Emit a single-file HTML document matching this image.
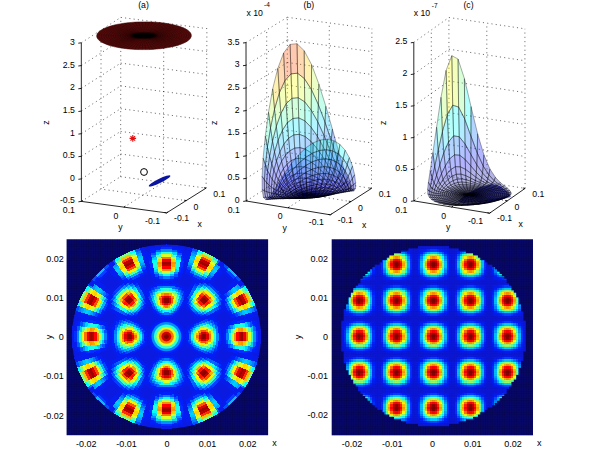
<!DOCTYPE html>
<html><head><meta charset="utf-8"><style>
html,body{margin:0;padding:0;background:#fff;width:600px;height:450px;overflow:hidden}
svg{display:block}
text{font-family:'Liberation Sans',Arial,Helvetica,sans-serif;fill:#000}
</style></head><body>
<svg width="600" height="450" viewBox="0 0 600 450">
<defs>
<pattern id="mL" patternUnits="userSpaceOnUse" x="66.6" y="239.3" width="2.3988" height="2.3321"><path d="M0,0H2.3988M0,0V2.3321" stroke="#000" stroke-opacity="0.35" stroke-width="0.6" fill="none"/></pattern>
<pattern id="mR" patternUnits="userSpaceOnUse" x="331.7" y="239.3" width="2.3964" height="2.3333"><path d="M0,0H2.3964M0,0V2.3333" stroke="#000" stroke-opacity="0.35" stroke-width="0.6" fill="none"/></pattern>
<pattern id="mR2" patternUnits="userSpaceOnUse" x="331.7" y="239.3" width="2.3964" height="2.3333"><path d="M0,0H2.3964M0,0V2.3333" stroke="#000" stroke-opacity="0.07" stroke-width="0.6" fill="none"/></pattern>
<clipPath id="clipR"><rect x="417.97" y="246.05" width="31.15" height="2.83"/><rect x="408.39" y="248.38" width="50.32" height="2.83"/><rect x="401.20" y="250.72" width="64.70" height="2.83"/><rect x="394.01" y="253.05" width="79.08" height="2.83"/><rect x="389.21" y="255.38" width="88.67" height="2.83"/><rect x="386.82" y="257.72" width="93.46" height="2.83"/><rect x="382.02" y="260.05" width="103.05" height="2.83"/><rect x="379.63" y="262.38" width="107.84" height="2.83"/><rect x="374.84" y="264.72" width="117.42" height="2.83"/><rect x="372.44" y="267.05" width="122.22" height="2.83"/><rect x="370.04" y="269.38" width="127.01" height="2.83"/><rect x="367.65" y="271.72" width="131.80" height="2.83"/><rect x="365.25" y="274.05" width="136.60" height="2.83"/><rect x="362.85" y="276.38" width="141.39" height="2.83"/><rect x="360.46" y="278.72" width="146.18" height="2.83"/><rect x="360.46" y="281.05" width="146.18" height="2.83"/><rect x="358.06" y="283.38" width="150.97" height="2.83"/><rect x="355.66" y="285.72" width="155.77" height="2.83"/><rect x="353.27" y="288.05" width="158.16" height="2.83"/><rect x="353.27" y="290.38" width="160.56" height="2.83"/><rect x="350.87" y="292.72" width="165.35" height="2.83"/><rect x="350.87" y="295.05" width="165.35" height="2.83"/><rect x="348.47" y="297.38" width="170.15" height="2.83"/><rect x="348.47" y="299.72" width="170.15" height="2.83"/><rect x="348.47" y="302.05" width="170.15" height="2.83"/><rect x="346.08" y="304.38" width="174.94" height="2.83"/><rect x="346.08" y="306.72" width="174.94" height="2.83"/><rect x="343.68" y="309.05" width="177.34" height="2.83"/><rect x="343.68" y="311.38" width="179.73" height="2.83"/><rect x="343.68" y="313.72" width="179.73" height="2.83"/><rect x="343.68" y="316.05" width="179.73" height="2.83"/><rect x="343.68" y="318.38" width="179.73" height="2.83"/><rect x="341.29" y="320.72" width="184.53" height="2.83"/><rect x="341.29" y="323.05" width="184.53" height="2.83"/><rect x="341.29" y="325.38" width="184.53" height="2.83"/><rect x="341.29" y="327.72" width="184.53" height="2.83"/><rect x="341.29" y="330.05" width="184.53" height="2.83"/><rect x="341.29" y="332.38" width="184.53" height="2.83"/><rect x="341.29" y="334.72" width="184.53" height="2.83"/><rect x="341.29" y="337.05" width="184.53" height="2.83"/><rect x="341.29" y="339.38" width="184.53" height="2.83"/><rect x="341.29" y="341.72" width="184.53" height="2.83"/><rect x="341.29" y="344.05" width="184.53" height="2.83"/><rect x="341.29" y="346.38" width="184.53" height="2.83"/><rect x="341.29" y="348.72" width="184.53" height="2.83"/><rect x="343.68" y="351.05" width="179.73" height="2.83"/><rect x="343.68" y="353.38" width="179.73" height="2.83"/><rect x="343.68" y="355.72" width="179.73" height="2.83"/><rect x="343.68" y="358.05" width="179.73" height="2.83"/><rect x="343.68" y="360.38" width="177.34" height="2.83"/><rect x="346.08" y="362.72" width="174.94" height="2.83"/><rect x="346.08" y="365.05" width="174.94" height="2.83"/><rect x="346.08" y="367.38" width="172.54" height="2.83"/><rect x="348.47" y="369.72" width="170.15" height="2.83"/><rect x="348.47" y="372.05" width="170.15" height="2.83"/><rect x="350.87" y="374.38" width="165.35" height="2.83"/><rect x="350.87" y="376.72" width="165.35" height="2.83"/><rect x="353.27" y="379.05" width="160.56" height="2.83"/><rect x="353.27" y="381.38" width="158.16" height="2.83"/><rect x="355.66" y="383.72" width="155.77" height="2.83"/><rect x="358.06" y="386.05" width="150.97" height="2.83"/><rect x="358.06" y="388.38" width="148.58" height="2.83"/><rect x="360.46" y="390.72" width="146.18" height="2.83"/><rect x="362.85" y="393.05" width="141.39" height="2.83"/><rect x="365.25" y="395.38" width="136.60" height="2.83"/><rect x="367.65" y="397.72" width="131.80" height="2.83"/><rect x="370.04" y="400.05" width="127.01" height="2.83"/><rect x="372.44" y="402.38" width="122.22" height="2.83"/><rect x="374.84" y="404.72" width="117.42" height="2.83"/><rect x="377.23" y="407.05" width="110.24" height="2.83"/><rect x="382.02" y="409.38" width="103.05" height="2.83"/><rect x="384.42" y="411.72" width="95.86" height="2.83"/><rect x="389.21" y="414.05" width="88.67" height="2.83"/><rect x="394.01" y="416.38" width="79.08" height="2.83"/><rect x="401.20" y="418.72" width="64.70" height="2.83"/><rect x="405.99" y="421.05" width="52.72" height="2.83"/><rect x="417.97" y="423.38" width="31.15" height="2.83"/></clipPath>
<g id="spR" shape-rendering="crispEdges">
<rect x="-10.78" y="-17.50" width="7.19" height="2.33" fill="#0818df"/>
<rect x="-3.59" y="-17.50" width="7.19" height="2.33" fill="#051bea"/>
<rect x="3.59" y="-17.50" width="7.19" height="2.33" fill="#0818df"/>
<rect x="-15.58" y="-15.17" width="2.40" height="2.33" fill="#0818df"/>
<rect x="-13.18" y="-15.17" width="2.40" height="2.33" fill="#051bea"/>
<rect x="-10.78" y="-15.17" width="2.40" height="2.33" fill="#021df4"/>
<rect x="-8.39" y="-15.17" width="2.40" height="2.33" fill="#0020ff"/>
<rect x="-5.99" y="-15.17" width="2.40" height="2.33" fill="#0030ff"/>
<rect x="-3.59" y="-15.17" width="7.19" height="2.33" fill="#0040ff"/>
<rect x="3.59" y="-15.17" width="2.40" height="2.33" fill="#0030ff"/>
<rect x="5.99" y="-15.17" width="2.40" height="2.33" fill="#0020ff"/>
<rect x="8.39" y="-15.17" width="2.40" height="2.33" fill="#021df4"/>
<rect x="10.78" y="-15.17" width="2.40" height="2.33" fill="#051bea"/>
<rect x="13.18" y="-15.17" width="2.40" height="2.33" fill="#0818df"/>
<rect x="-15.58" y="-12.83" width="2.40" height="2.33" fill="#0818df"/>
<rect x="-13.18" y="-12.83" width="2.40" height="2.33" fill="#0020ff"/>
<rect x="-10.78" y="-12.83" width="2.40" height="2.33" fill="#0050ff"/>
<rect x="-8.39" y="-12.83" width="2.40" height="2.33" fill="#0080ff"/>
<rect x="-5.99" y="-12.83" width="2.40" height="2.33" fill="#00afff"/>
<rect x="-3.59" y="-12.83" width="7.19" height="2.33" fill="#00cfff"/>
<rect x="3.59" y="-12.83" width="2.40" height="2.33" fill="#00afff"/>
<rect x="5.99" y="-12.83" width="2.40" height="2.33" fill="#0080ff"/>
<rect x="8.39" y="-12.83" width="2.40" height="2.33" fill="#0050ff"/>
<rect x="10.78" y="-12.83" width="2.40" height="2.33" fill="#0020ff"/>
<rect x="13.18" y="-12.83" width="2.40" height="2.33" fill="#0818df"/>
<rect x="-17.97" y="-10.50" width="2.40" height="2.33" fill="#0818df"/>
<rect x="-15.58" y="-10.50" width="2.40" height="2.33" fill="#021df4"/>
<rect x="-13.18" y="-10.50" width="2.40" height="2.33" fill="#0050ff"/>
<rect x="-10.78" y="-10.50" width="2.40" height="2.33" fill="#00afff"/>
<rect x="-8.39" y="-10.50" width="2.40" height="2.33" fill="#10ffef"/>
<rect x="-5.99" y="-10.50" width="2.40" height="2.33" fill="#60ff9f"/>
<rect x="-3.59" y="-10.50" width="2.40" height="2.33" fill="#8fff70"/>
<rect x="-1.20" y="-10.50" width="2.40" height="2.33" fill="#9fff60"/>
<rect x="1.20" y="-10.50" width="2.40" height="2.33" fill="#8fff70"/>
<rect x="3.59" y="-10.50" width="2.40" height="2.33" fill="#60ff9f"/>
<rect x="5.99" y="-10.50" width="2.40" height="2.33" fill="#10ffef"/>
<rect x="8.39" y="-10.50" width="2.40" height="2.33" fill="#00afff"/>
<rect x="10.78" y="-10.50" width="2.40" height="2.33" fill="#0050ff"/>
<rect x="13.18" y="-10.50" width="2.40" height="2.33" fill="#021df4"/>
<rect x="15.58" y="-10.50" width="2.40" height="2.33" fill="#0818df"/>
<rect x="-17.97" y="-8.17" width="2.40" height="2.33" fill="#0818df"/>
<rect x="-15.58" y="-8.17" width="2.40" height="2.33" fill="#0020ff"/>
<rect x="-13.18" y="-8.17" width="2.40" height="2.33" fill="#0080ff"/>
<rect x="-10.78" y="-8.17" width="2.40" height="2.33" fill="#00ffff"/>
<rect x="-8.39" y="-8.17" width="2.40" height="2.33" fill="#8fff70"/>
<rect x="-5.99" y="-8.17" width="2.40" height="2.33" fill="#ffef00"/>
<rect x="-3.59" y="-8.17" width="2.40" height="2.33" fill="#ffaf00"/>
<rect x="-1.20" y="-8.17" width="2.40" height="2.33" fill="#ff8f00"/>
<rect x="1.20" y="-8.17" width="2.40" height="2.33" fill="#ffaf00"/>
<rect x="3.59" y="-8.17" width="2.40" height="2.33" fill="#ffef00"/>
<rect x="5.99" y="-8.17" width="2.40" height="2.33" fill="#8fff70"/>
<rect x="8.39" y="-8.17" width="2.40" height="2.33" fill="#00ffff"/>
<rect x="10.78" y="-8.17" width="2.40" height="2.33" fill="#0080ff"/>
<rect x="13.18" y="-8.17" width="2.40" height="2.33" fill="#0020ff"/>
<rect x="15.58" y="-8.17" width="2.40" height="2.33" fill="#0818df"/>
<rect x="-17.97" y="-5.83" width="2.40" height="2.33" fill="#0818df"/>
<rect x="-15.58" y="-5.83" width="2.40" height="2.33" fill="#0030ff"/>
<rect x="-13.18" y="-5.83" width="2.40" height="2.33" fill="#009fff"/>
<rect x="-10.78" y="-5.83" width="2.40" height="2.33" fill="#50ffaf"/>
<rect x="-8.39" y="-5.83" width="2.40" height="2.33" fill="#ffff00"/>
<rect x="-5.99" y="-5.83" width="2.40" height="2.33" fill="#ff7000"/>
<rect x="-3.59" y="-5.83" width="2.40" height="2.33" fill="#ff1000"/>
<rect x="-1.20" y="-5.83" width="2.40" height="2.33" fill="#ff0000"/>
<rect x="1.20" y="-5.83" width="2.40" height="2.33" fill="#ff1000"/>
<rect x="3.59" y="-5.83" width="2.40" height="2.33" fill="#ff7000"/>
<rect x="5.99" y="-5.83" width="2.40" height="2.33" fill="#ffff00"/>
<rect x="8.39" y="-5.83" width="2.40" height="2.33" fill="#50ffaf"/>
<rect x="10.78" y="-5.83" width="2.40" height="2.33" fill="#009fff"/>
<rect x="13.18" y="-5.83" width="2.40" height="2.33" fill="#0030ff"/>
<rect x="15.58" y="-5.83" width="2.40" height="2.33" fill="#0818df"/>
<rect x="-17.97" y="-3.50" width="2.40" height="2.33" fill="#0818df"/>
<rect x="-15.58" y="-3.50" width="2.40" height="2.33" fill="#0030ff"/>
<rect x="-13.18" y="-3.50" width="2.40" height="2.33" fill="#00bfff"/>
<rect x="-10.78" y="-3.50" width="2.40" height="2.33" fill="#80ff80"/>
<rect x="-8.39" y="-3.50" width="2.40" height="2.33" fill="#ffbf00"/>
<rect x="-5.99" y="-3.50" width="2.40" height="2.33" fill="#ff2000"/>
<rect x="-3.59" y="-3.50" width="2.40" height="2.33" fill="#bf0000"/>
<rect x="-1.20" y="-3.50" width="2.40" height="2.33" fill="#8f0000"/>
<rect x="1.20" y="-3.50" width="2.40" height="2.33" fill="#bf0000"/>
<rect x="3.59" y="-3.50" width="2.40" height="2.33" fill="#ff2000"/>
<rect x="5.99" y="-3.50" width="2.40" height="2.33" fill="#ffbf00"/>
<rect x="8.39" y="-3.50" width="2.40" height="2.33" fill="#80ff80"/>
<rect x="10.78" y="-3.50" width="2.40" height="2.33" fill="#00bfff"/>
<rect x="13.18" y="-3.50" width="2.40" height="2.33" fill="#0030ff"/>
<rect x="15.58" y="-3.50" width="2.40" height="2.33" fill="#0818df"/>
<rect x="-17.97" y="-1.17" width="2.40" height="2.33" fill="#0818df"/>
<rect x="-15.58" y="-1.17" width="2.40" height="2.33" fill="#0030ff"/>
<rect x="-13.18" y="-1.17" width="2.40" height="2.33" fill="#00bfff"/>
<rect x="-10.78" y="-1.17" width="2.40" height="2.33" fill="#8fff70"/>
<rect x="-8.39" y="-1.17" width="2.40" height="2.33" fill="#ff9f00"/>
<rect x="-5.99" y="-1.17" width="2.40" height="2.33" fill="#ff0000"/>
<rect x="-3.59" y="-1.17" width="2.40" height="2.33" fill="#9f0000"/>
<rect x="-1.20" y="-1.17" width="2.40" height="2.33" fill="#800000"/>
<rect x="1.20" y="-1.17" width="2.40" height="2.33" fill="#9f0000"/>
<rect x="3.59" y="-1.17" width="2.40" height="2.33" fill="#ff0000"/>
<rect x="5.99" y="-1.17" width="2.40" height="2.33" fill="#ff9f00"/>
<rect x="8.39" y="-1.17" width="2.40" height="2.33" fill="#8fff70"/>
<rect x="10.78" y="-1.17" width="2.40" height="2.33" fill="#00bfff"/>
<rect x="13.18" y="-1.17" width="2.40" height="2.33" fill="#0030ff"/>
<rect x="15.58" y="-1.17" width="2.40" height="2.33" fill="#0818df"/>
<rect x="-17.97" y="1.17" width="2.40" height="2.33" fill="#0818df"/>
<rect x="-15.58" y="1.17" width="2.40" height="2.33" fill="#0030ff"/>
<rect x="-13.18" y="1.17" width="2.40" height="2.33" fill="#00bfff"/>
<rect x="-10.78" y="1.17" width="2.40" height="2.33" fill="#80ff80"/>
<rect x="-8.39" y="1.17" width="2.40" height="2.33" fill="#ffbf00"/>
<rect x="-5.99" y="1.17" width="2.40" height="2.33" fill="#ff2000"/>
<rect x="-3.59" y="1.17" width="2.40" height="2.33" fill="#bf0000"/>
<rect x="-1.20" y="1.17" width="2.40" height="2.33" fill="#8f0000"/>
<rect x="1.20" y="1.17" width="2.40" height="2.33" fill="#bf0000"/>
<rect x="3.59" y="1.17" width="2.40" height="2.33" fill="#ff2000"/>
<rect x="5.99" y="1.17" width="2.40" height="2.33" fill="#ffbf00"/>
<rect x="8.39" y="1.17" width="2.40" height="2.33" fill="#80ff80"/>
<rect x="10.78" y="1.17" width="2.40" height="2.33" fill="#00bfff"/>
<rect x="13.18" y="1.17" width="2.40" height="2.33" fill="#0030ff"/>
<rect x="15.58" y="1.17" width="2.40" height="2.33" fill="#0818df"/>
<rect x="-17.97" y="3.50" width="2.40" height="2.33" fill="#0818df"/>
<rect x="-15.58" y="3.50" width="2.40" height="2.33" fill="#0030ff"/>
<rect x="-13.18" y="3.50" width="2.40" height="2.33" fill="#009fff"/>
<rect x="-10.78" y="3.50" width="2.40" height="2.33" fill="#50ffaf"/>
<rect x="-8.39" y="3.50" width="2.40" height="2.33" fill="#ffff00"/>
<rect x="-5.99" y="3.50" width="2.40" height="2.33" fill="#ff7000"/>
<rect x="-3.59" y="3.50" width="2.40" height="2.33" fill="#ff1000"/>
<rect x="-1.20" y="3.50" width="2.40" height="2.33" fill="#ff0000"/>
<rect x="1.20" y="3.50" width="2.40" height="2.33" fill="#ff1000"/>
<rect x="3.59" y="3.50" width="2.40" height="2.33" fill="#ff7000"/>
<rect x="5.99" y="3.50" width="2.40" height="2.33" fill="#ffff00"/>
<rect x="8.39" y="3.50" width="2.40" height="2.33" fill="#50ffaf"/>
<rect x="10.78" y="3.50" width="2.40" height="2.33" fill="#009fff"/>
<rect x="13.18" y="3.50" width="2.40" height="2.33" fill="#0030ff"/>
<rect x="15.58" y="3.50" width="2.40" height="2.33" fill="#0818df"/>
<rect x="-17.97" y="5.83" width="2.40" height="2.33" fill="#0818df"/>
<rect x="-15.58" y="5.83" width="2.40" height="2.33" fill="#0020ff"/>
<rect x="-13.18" y="5.83" width="2.40" height="2.33" fill="#0080ff"/>
<rect x="-10.78" y="5.83" width="2.40" height="2.33" fill="#00ffff"/>
<rect x="-8.39" y="5.83" width="2.40" height="2.33" fill="#8fff70"/>
<rect x="-5.99" y="5.83" width="2.40" height="2.33" fill="#ffef00"/>
<rect x="-3.59" y="5.83" width="2.40" height="2.33" fill="#ffaf00"/>
<rect x="-1.20" y="5.83" width="2.40" height="2.33" fill="#ff8f00"/>
<rect x="1.20" y="5.83" width="2.40" height="2.33" fill="#ffaf00"/>
<rect x="3.59" y="5.83" width="2.40" height="2.33" fill="#ffef00"/>
<rect x="5.99" y="5.83" width="2.40" height="2.33" fill="#8fff70"/>
<rect x="8.39" y="5.83" width="2.40" height="2.33" fill="#00ffff"/>
<rect x="10.78" y="5.83" width="2.40" height="2.33" fill="#0080ff"/>
<rect x="13.18" y="5.83" width="2.40" height="2.33" fill="#0020ff"/>
<rect x="15.58" y="5.83" width="2.40" height="2.33" fill="#0818df"/>
<rect x="-17.97" y="8.17" width="2.40" height="2.33" fill="#0818df"/>
<rect x="-15.58" y="8.17" width="2.40" height="2.33" fill="#021df4"/>
<rect x="-13.18" y="8.17" width="2.40" height="2.33" fill="#0050ff"/>
<rect x="-10.78" y="8.17" width="2.40" height="2.33" fill="#00afff"/>
<rect x="-8.39" y="8.17" width="2.40" height="2.33" fill="#10ffef"/>
<rect x="-5.99" y="8.17" width="2.40" height="2.33" fill="#60ff9f"/>
<rect x="-3.59" y="8.17" width="2.40" height="2.33" fill="#8fff70"/>
<rect x="-1.20" y="8.17" width="2.40" height="2.33" fill="#9fff60"/>
<rect x="1.20" y="8.17" width="2.40" height="2.33" fill="#8fff70"/>
<rect x="3.59" y="8.17" width="2.40" height="2.33" fill="#60ff9f"/>
<rect x="5.99" y="8.17" width="2.40" height="2.33" fill="#10ffef"/>
<rect x="8.39" y="8.17" width="2.40" height="2.33" fill="#00afff"/>
<rect x="10.78" y="8.17" width="2.40" height="2.33" fill="#0050ff"/>
<rect x="13.18" y="8.17" width="2.40" height="2.33" fill="#021df4"/>
<rect x="15.58" y="8.17" width="2.40" height="2.33" fill="#0818df"/>
<rect x="-15.58" y="10.50" width="2.40" height="2.33" fill="#0818df"/>
<rect x="-13.18" y="10.50" width="2.40" height="2.33" fill="#0020ff"/>
<rect x="-10.78" y="10.50" width="2.40" height="2.33" fill="#0050ff"/>
<rect x="-8.39" y="10.50" width="2.40" height="2.33" fill="#0080ff"/>
<rect x="-5.99" y="10.50" width="2.40" height="2.33" fill="#00afff"/>
<rect x="-3.59" y="10.50" width="7.19" height="2.33" fill="#00cfff"/>
<rect x="3.59" y="10.50" width="2.40" height="2.33" fill="#00afff"/>
<rect x="5.99" y="10.50" width="2.40" height="2.33" fill="#0080ff"/>
<rect x="8.39" y="10.50" width="2.40" height="2.33" fill="#0050ff"/>
<rect x="10.78" y="10.50" width="2.40" height="2.33" fill="#0020ff"/>
<rect x="13.18" y="10.50" width="2.40" height="2.33" fill="#0818df"/>
<rect x="-15.58" y="12.83" width="2.40" height="2.33" fill="#0818df"/>
<rect x="-13.18" y="12.83" width="2.40" height="2.33" fill="#051bea"/>
<rect x="-10.78" y="12.83" width="2.40" height="2.33" fill="#021df4"/>
<rect x="-8.39" y="12.83" width="2.40" height="2.33" fill="#0020ff"/>
<rect x="-5.99" y="12.83" width="2.40" height="2.33" fill="#0030ff"/>
<rect x="-3.59" y="12.83" width="7.19" height="2.33" fill="#0040ff"/>
<rect x="3.59" y="12.83" width="2.40" height="2.33" fill="#0030ff"/>
<rect x="5.99" y="12.83" width="2.40" height="2.33" fill="#0020ff"/>
<rect x="8.39" y="12.83" width="2.40" height="2.33" fill="#021df4"/>
<rect x="10.78" y="12.83" width="2.40" height="2.33" fill="#051bea"/>
<rect x="13.18" y="12.83" width="2.40" height="2.33" fill="#0818df"/>
<rect x="-10.78" y="15.17" width="7.19" height="2.33" fill="#0818df"/>
<rect x="-3.59" y="15.17" width="7.19" height="2.33" fill="#051bea"/>
<rect x="3.59" y="15.17" width="7.19" height="2.33" fill="#0818df"/>
</g>
<g id="L0" shape-rendering="crispEdges">
<path fill="#081be8" d="M19.6,3.6L19.9,-0.0L19.6,-3.6L17.1,-3.1L17.4,-0.0L17.1,3.1ZM20.4,9.2L21.4,6.7L19.0,5.9L18.2,8.2ZM21.4,-6.7L20.4,-9.2L18.2,-8.2L19.0,-5.9ZM22.0,11.6L23.3,8.8L20.9,7.9L19.8,10.4ZM23.3,-8.8L22.0,-11.6L19.8,-10.4L20.9,-7.9ZM24.2,12.7L25.0,11.2L22.7,10.2L22.0,11.6ZM25.0,-11.2L24.2,-12.7L22.0,-11.6L22.7,-10.2ZM44.1,23.1L45.4,20.4L43.1,19.4L41.9,22.0ZM45.4,-20.4L44.1,-23.1L41.9,-22.0L43.1,-19.4ZM46.3,24.3L47.7,21.5L45.4,20.4L44.1,23.1ZM47.7,-21.5L46.3,-24.3L44.1,-23.1L45.4,-20.4ZM49.9,22.5L52.3,16.3L49.9,15.6L47.7,21.5ZM52.3,-16.3L49.9,-22.5L47.7,-21.5L49.9,-15.6ZM55.6,13.7L57.1,4.6L57.1,-4.6L55.6,-13.7L53.2,-13.1L54.6,-4.4L54.6,4.4L53.2,13.1Z"/>
<path fill="#051df0" d="M21.4,6.7L22.0,4.0L19.6,3.6L19.0,5.9ZM22.0,-4.0L21.4,-6.7L19.0,-5.9L19.6,-3.6ZM26.5,13.9L27.2,12.3L25.0,11.2L24.2,12.7ZM27.2,-12.3L26.5,-13.9L24.2,-12.7L25.0,-11.2ZM28.7,15.0L29.5,13.3L27.2,12.3L26.5,13.9ZM29.5,-13.3L28.7,-15.0L26.5,-13.9L27.2,-12.3ZM39.7,20.8L40.9,18.4L38.6,17.4L37.5,19.7ZM40.9,-18.4L39.7,-20.8L37.5,-19.7L38.6,-17.4ZM41.9,22.0L43.1,19.4L40.9,18.4L39.7,20.8ZM43.1,-19.4L41.9,-22.0L39.7,-20.8L40.9,-18.4ZM47.7,21.5L48.9,18.5L46.6,17.7L45.4,20.4ZM48.9,-18.5L47.7,-21.5L45.4,-20.4L46.6,-17.7ZM52.3,16.3L53.2,13.1L50.8,12.5L49.9,15.6ZM53.2,-13.1L52.3,-16.3L49.9,-15.6L50.8,-12.5Z"/>
<path fill="#021ef7" d="M22.0,4.0L22.2,2.7L19.8,2.4L19.6,3.6ZM22.2,-2.7L22.0,-4.0L19.6,-3.6L19.8,-2.4ZM23.3,8.8L23.8,7.4L21.4,6.7L20.9,7.9ZM23.8,-7.4L23.3,-8.8L20.9,-7.9L21.4,-6.7ZM25.0,11.2L25.6,9.7L23.3,8.8L22.7,10.2ZM25.6,-9.7L25.0,-11.2L22.7,-10.2L23.3,-8.8ZM30.9,16.2L31.8,14.3L29.5,13.3L28.7,15.0ZM31.8,-14.3L30.9,-16.2L28.7,-15.0L29.5,-13.3ZM33.1,17.4L34.1,15.3L31.8,14.3L30.9,16.2ZM34.1,-15.3L33.1,-17.4L30.9,-16.2L31.8,-14.3ZM35.3,18.5L36.3,16.3L34.1,15.3L33.1,17.4ZM36.3,-16.3L35.3,-18.5L33.1,-17.4L34.1,-15.3ZM37.5,19.7L38.6,17.4L36.3,16.3L35.3,18.5ZM38.6,-17.4L37.5,-19.7L35.3,-18.5L36.3,-16.3ZM45.4,20.4L46.6,17.7L44.2,16.8L43.1,19.4ZM46.6,-17.7L45.4,-20.4L43.1,-19.4L44.2,-16.8ZM48.9,18.5L49.9,15.6L47.5,14.8L46.6,17.7ZM49.9,-15.6L48.9,-18.5L46.6,-17.7L47.5,-14.8ZM53.2,13.1L53.9,9.9L51.4,9.4L50.8,12.5ZM53.9,-9.9L53.2,-13.1L50.8,-12.5L51.4,-9.4Z"/>
<path fill="#0020ff" d="M22.2,2.7L22.4,-0.0L22.2,-2.7L19.8,-2.4L19.9,-0.0L19.8,2.4ZM27.2,12.3L27.9,10.6L25.6,9.7L25.0,11.2ZM27.9,-10.6L27.2,-12.3L25.0,-11.2L25.6,-9.7ZM43.1,19.4L44.2,16.8L41.9,15.9L40.9,18.4ZM44.2,-16.8L43.1,-19.4L40.9,-18.4L41.9,-15.9ZM53.9,9.9L54.8,-0.0L53.9,-9.9L51.4,-9.4L52.3,-0.0L51.4,9.4Z"/>
<path fill="#0030ff" d="M23.8,7.4L24.2,6.0L21.8,5.4L21.4,6.7ZM24.2,-6.0L23.8,-7.4L21.4,-6.7L21.8,-5.4ZM25.6,9.7L26.1,8.1L23.8,7.4L23.3,8.8ZM26.1,-8.1L25.6,-9.7L23.3,-8.8L23.8,-7.4ZM49.9,15.6L50.8,12.5L48.3,11.9L47.5,14.8ZM50.8,-12.5L49.9,-15.6L47.5,-14.8L48.3,-11.9Z"/>
<path fill="#0040ff" d="M24.2,6.0L24.5,4.5L22.0,4.0L21.8,5.4ZM24.5,-4.5L24.2,-6.0L21.8,-5.4L22.0,-4.0ZM29.5,13.3L30.3,11.5L27.9,10.6L27.2,12.3ZM30.3,-11.5L29.5,-13.3L27.2,-12.3L27.9,-10.6ZM40.9,18.4L41.9,15.9L39.6,15.0L38.6,17.4ZM41.9,-15.9L40.9,-18.4L38.6,-17.4L39.6,-15.0ZM46.6,17.7L47.5,14.8L45.2,14.1L44.2,16.8ZM47.5,-14.8L46.6,-17.7L44.2,-16.8L45.2,-14.1Z"/>
<path fill="#0060ff" d="M24.5,4.5L24.7,3.0L22.2,2.7L22.0,4.0ZM24.7,-3.0L24.5,-4.5L22.0,-4.0L22.2,-2.7ZM27.9,10.6L28.5,8.9L26.1,8.1L25.6,9.7ZM28.5,-8.9L27.9,-10.6L25.6,-9.7L26.1,-8.1ZM34.1,15.3L34.9,13.2L32.6,12.4L31.8,14.3ZM34.9,-13.2L34.1,-15.3L31.8,-14.3L32.6,-12.4ZM36.3,16.3L37.2,14.1L34.9,13.2L34.1,15.3ZM37.2,-14.1L36.3,-16.3L34.1,-15.3L34.9,-13.2Z"/>
<path fill="#0080ff" d="M24.7,3.0L24.9,-0.0L24.7,-3.0L22.2,-2.7L22.4,-0.0L22.2,2.7ZM51.9,6.3L52.2,3.2L49.7,3.0L49.4,6.0ZM52.2,-3.2L51.9,-6.3L49.4,-6.0L49.7,-3.0Z"/>
<path fill="#0070ff" d="M26.1,8.1L26.6,6.6L24.2,6.0L23.8,7.4ZM26.6,-6.6L26.1,-8.1L23.8,-7.4L24.2,-6.0ZM44.2,16.8L45.2,14.1L42.8,13.3L41.9,15.9ZM45.2,-14.1L44.2,-16.8L41.9,-15.9L42.8,-13.3ZM47.5,14.8L48.3,11.9L45.9,11.3L45.2,14.1ZM48.3,-11.9L47.5,-14.8L45.2,-14.1L45.9,-11.3ZM51.4,9.4L51.9,6.3L49.4,6.0L49.0,9.0ZM51.9,-6.3L51.4,-9.4L49.0,-9.0L49.4,-6.0Z"/>
<path fill="#009fff" d="M26.6,6.6L26.9,4.9L24.5,4.5L24.2,6.0ZM26.9,-4.9L26.6,-6.6L24.2,-6.0L24.5,-4.5ZM41.9,15.9L42.8,13.3L40.4,12.6L39.6,15.0ZM42.8,-13.3L41.9,-15.9L39.6,-15.0L40.4,-12.6Z"/>
<path fill="#00dfff" d="M26.9,4.9L27.2,3.3L24.7,3.0L24.5,4.5ZM27.2,-3.3L26.9,-4.9L24.5,-4.5L24.7,-3.0ZM49.0,9.0L49.4,6.0L47.0,5.7L46.5,8.5ZM49.4,-6.0L49.0,-9.0L46.5,-8.5L47.0,-5.7Z"/>
<path fill="#00ffff" d="M27.2,3.3L27.3,1.7L24.8,1.5L24.7,3.0ZM27.3,-1.7L27.2,-3.3L24.7,-3.0L24.8,-1.5ZM30.9,9.6L31.4,7.7L29.0,7.1L28.5,8.9ZM31.4,-7.7L30.9,-9.6L28.5,-8.9L29.0,-7.1Z"/>
<path fill="#20ffdf" d="M27.3,1.7L27.3,-1.7L24.8,-1.5L24.8,1.5ZM45.9,11.3L46.5,8.5L44.1,8.1L43.5,10.7ZM46.5,-8.5L45.9,-11.3L43.5,-10.7L44.1,-8.1Z"/>
<path fill="#00bfff" d="M28.5,8.9L29.0,7.1L26.6,6.6L26.1,8.1ZM29.0,-7.1L28.5,-8.9L26.1,-8.1L26.6,-6.6ZM32.6,12.4L33.3,10.4L30.9,9.6L30.3,11.5ZM33.3,-10.4L32.6,-12.4L30.3,-11.5L30.9,-9.6ZM39.6,15.0L40.4,12.6L38.0,11.9L37.2,14.1ZM40.4,-12.6L39.6,-15.0L37.2,-14.1L38.0,-11.9ZM45.2,14.1L45.9,11.3L43.5,10.7L42.8,13.3ZM45.9,-11.3L45.2,-14.1L42.8,-13.3L43.5,-10.7Z"/>
<path fill="#10ffef" d="M29.0,7.1L29.4,5.4L26.9,4.9L26.6,6.6ZM29.4,-5.4L29.0,-7.1L26.6,-6.6L26.9,-4.9ZM42.8,13.3L43.5,10.7L41.1,10.1L40.4,12.6ZM43.5,-10.7L42.8,-13.3L40.4,-12.6L41.1,-10.1ZM49.4,6.0L49.7,3.0L47.2,2.9L47.0,5.7ZM49.7,-3.0L49.4,-6.0L47.0,-5.7L47.2,-2.9Z"/>
<path fill="#70ff8f" d="M29.4,5.4L29.7,3.6L27.2,3.3L26.9,4.9ZM29.7,-3.6L29.4,-5.4L26.9,-4.9L27.2,-3.3ZM35.7,11.1L36.3,8.9L33.8,8.3L33.3,10.4ZM36.3,-8.9L35.7,-11.1L33.3,-10.4L33.8,-8.3ZM38.0,11.9L38.7,9.5L36.3,8.9L35.7,11.1ZM38.7,-9.5L38.0,-11.9L35.7,-11.1L36.3,-8.9ZM46.5,8.5L47.0,5.7L44.5,5.4L44.1,8.1ZM47.0,-5.7L46.5,-8.5L44.1,-8.1L44.5,-5.4Z"/>
<path fill="#afff50" d="M29.7,3.6L29.8,1.8L27.3,1.7L27.2,3.3ZM29.8,-1.8L29.7,-3.6L27.2,-3.3L27.3,-1.7Z"/>
<path fill="#cfff30" d="M29.8,1.8L29.8,-1.8L27.3,-1.7L27.3,1.7Z"/>
<path fill="#008fff" d="M30.3,11.5L30.9,9.6L28.5,8.9L27.9,10.6ZM30.9,-9.6L30.3,-11.5L27.9,-10.6L28.5,-8.9ZM52.2,3.2L52.2,-3.2L49.7,-3.0L49.7,3.0Z"/>
<path fill="#80ff80" d="M31.4,7.7L31.8,5.8L29.4,5.4L29.0,7.1ZM31.8,-5.8L31.4,-7.7L29.0,-7.1L29.4,-5.4Z"/>
<path fill="#ffff00" d="M31.8,5.8L32.1,3.9L29.7,3.6L29.4,5.4ZM32.1,-3.9L31.8,-5.8L29.4,-5.4L29.7,-3.6ZM44.1,8.1L44.5,5.4L42.0,5.1L41.6,7.6ZM44.5,-5.4L44.1,-8.1L41.6,-7.6L42.0,-5.1Z"/>
<path fill="#ffaf00" d="M32.1,3.9L32.3,2.0L29.8,1.8L29.7,3.6ZM32.3,-2.0L32.1,-3.9L29.7,-3.6L29.8,-1.8Z"/>
<path fill="#ff7000" d="M32.3,2.0L32.3,-2.0L29.8,-1.8L29.8,1.8ZM44.7,2.7L44.7,-2.7L42.2,-2.6L42.2,2.6Z"/>
<path fill="#0050ff" d="M31.8,14.3L32.6,12.4L30.3,11.5L29.5,13.3ZM32.6,-12.4L31.8,-14.3L29.5,-13.3L30.3,-11.5ZM38.6,17.4L39.6,15.0L37.2,14.1L36.3,16.3ZM39.6,-15.0L38.6,-17.4L36.3,-16.3L37.2,-14.1ZM50.8,12.5L51.4,9.4L49.0,9.0L48.3,11.9ZM51.4,-9.4L50.8,-12.5L48.3,-11.9L49.0,-9.0Z"/>
<path fill="#40ffbf" d="M33.3,10.4L33.8,8.3L31.4,7.7L30.9,9.6ZM33.8,-8.3L33.3,-10.4L30.9,-9.6L31.4,-7.7Z"/>
<path fill="#dfff20" d="M33.8,8.3L34.3,6.3L31.8,5.8L31.4,7.7ZM34.3,-6.3L33.8,-8.3L31.4,-7.7L31.8,-5.8ZM41.1,10.1L41.6,7.6L39.2,7.2L38.7,9.5ZM41.6,-7.6L41.1,-10.1L38.7,-9.5L39.2,-7.2ZM47.2,2.9L47.2,-2.9L44.7,-2.7L44.7,2.7Z"/>
<path fill="#ff8f00" d="M34.3,6.3L34.6,4.2L32.1,3.9L31.8,5.8ZM34.6,-4.2L34.3,-6.3L31.8,-5.8L32.1,-3.9ZM41.6,7.6L42.0,5.1L39.5,4.8L39.2,7.2ZM42.0,-5.1L41.6,-7.6L39.2,-7.2L39.5,-4.8Z"/>
<path fill="#ff2000" d="M34.6,4.2L34.8,2.1L32.3,2.0L32.1,3.9ZM34.8,-2.1L34.6,-4.2L32.1,-3.9L32.3,-2.0Z"/>
<path fill="#df0000" d="M34.8,2.1L34.8,-2.1L32.3,-2.0L32.3,2.0ZM42.2,2.6L42.2,-2.6L39.8,-2.4L39.8,2.4Z"/>
<path fill="#00cfff" d="M34.9,13.2L35.7,11.1L33.3,10.4L32.6,12.4ZM35.7,-11.1L34.9,-13.2L32.6,-12.4L33.3,-10.4ZM37.2,14.1L38.0,11.9L35.7,11.1L34.9,13.2ZM38.0,-11.9L37.2,-14.1L34.9,-13.2L35.7,-11.1Z"/>
<path fill="#ffef00" d="M36.3,8.9L36.7,6.7L34.3,6.3L33.8,8.3ZM36.7,-6.7L36.3,-8.9L33.8,-8.3L34.3,-6.3ZM38.7,9.5L39.2,7.2L36.7,6.7L36.3,8.9ZM39.2,-7.2L38.7,-9.5L36.3,-8.9L36.7,-6.7Z"/>
<path fill="#ff5000" d="M36.7,6.7L37.1,4.5L34.6,4.2L34.3,6.3ZM37.1,-4.5L36.7,-6.7L34.3,-6.3L34.6,-4.2ZM39.2,7.2L39.5,4.8L37.1,4.5L36.7,6.7ZM39.5,-4.8L39.2,-7.2L36.7,-6.7L37.1,-4.5Z"/>
<path fill="#cf0000" d="M37.1,4.5L37.3,2.3L34.8,2.1L34.6,4.2ZM37.3,-2.3L37.1,-4.5L34.6,-4.2L34.8,-2.1ZM39.5,4.8L39.8,2.4L37.3,2.3L37.1,4.5ZM39.8,-2.4L39.5,-4.8L37.1,-4.5L37.3,-2.3Z"/>
<path fill="#8f0000" d="M37.3,2.3L37.3,-2.3L34.8,-2.1L34.8,2.1ZM39.8,2.4L39.8,-2.4L37.3,-2.3L37.3,2.3Z"/>
<path fill="#50ffaf" d="M40.4,12.6L41.1,10.1L38.7,9.5L38.0,11.9ZM41.1,-10.1L40.4,-12.6L38.0,-11.9L38.7,-9.5Z"/>
<path fill="#ff1000" d="M42.0,5.1L42.2,2.6L39.8,2.4L39.5,4.8ZM42.2,-2.6L42.0,-5.1L39.5,-4.8L39.8,-2.4Z"/>
<path fill="#8fff70" d="M43.5,10.7L44.1,8.1L41.6,7.6L41.1,10.1ZM44.1,-8.1L43.5,-10.7L41.1,-10.1L41.6,-7.6Z"/>
<path fill="#ff9f00" d="M44.5,5.4L44.7,2.7L42.2,2.6L42.0,5.1ZM44.7,-2.7L44.5,-5.4L42.0,-5.1L42.2,-2.6Z"/>
<path fill="#bfff40" d="M47.0,5.7L47.2,2.9L44.7,2.7L44.5,5.4ZM47.2,-2.9L47.0,-5.7L44.5,-5.4L44.7,-2.7Z"/>
<path fill="#00afff" d="M48.3,11.9L49.0,9.0L46.5,8.5L45.9,11.3ZM49.0,-9.0L48.3,-11.9L45.9,-11.3L46.5,-8.5Z"/>
<path fill="#30ffcf" d="M49.7,3.0L49.7,-3.0L47.2,-2.9L47.2,2.9Z"/>
</g>
<g id="L1" shape-rendering="crispEdges">
<path fill="#081be8" d="M36.3,8.9L36.7,6.7L34.3,6.3L33.8,8.3ZM36.7,-6.7L36.3,-8.9L33.8,-8.3L34.3,-6.3ZM38.0,11.9L38.7,9.5L36.3,8.9L35.7,11.1ZM38.7,-9.5L38.0,-11.9L35.7,-11.1L36.3,-8.9ZM39.6,15.0L40.4,12.6L38.0,11.9L37.2,14.1ZM40.4,-12.6L39.6,-15.0L37.2,-14.1L38.0,-11.9ZM41.9,15.9L42.8,13.3L40.4,12.6L39.6,15.0ZM42.8,-13.3L41.9,-15.9L39.6,-15.0L40.4,-12.6ZM44.2,16.8L45.2,14.1L42.8,13.3L41.9,15.9ZM45.2,-14.1L44.2,-16.8L41.9,-15.9L42.8,-13.3ZM58.2,22.1L59.4,18.5L57.0,17.8L55.9,21.2ZM59.4,-18.5L58.2,-22.1L55.9,-21.2L57.0,-17.8ZM60.5,23.0L61.8,19.3L59.4,18.5L58.2,22.1ZM61.8,-19.3L60.5,-23.0L58.2,-22.1L59.4,-18.5ZM66.5,20.7L67.7,16.7L65.3,16.1L64.2,20.0ZM67.7,-16.7L66.5,-20.7L64.2,-20.0L65.3,-16.1ZM70.1,17.3L72.0,5.8L72.0,-5.8L70.1,-17.3L67.7,-16.7L69.5,-5.6L69.5,5.6L67.7,16.7Z"/>
<path fill="#051df0" d="M36.7,6.7L37.1,4.5L34.6,4.2L34.3,6.3ZM37.1,-4.5L36.7,-6.7L34.3,-6.3L34.6,-4.2ZM46.6,17.7L47.5,14.8L45.2,14.1L44.2,16.8ZM47.5,-14.8L46.6,-17.7L44.2,-16.8L45.2,-14.1ZM48.9,18.5L49.9,15.6L47.5,14.8L46.6,17.7ZM49.9,-15.6L48.9,-18.5L46.6,-17.7L47.5,-14.8ZM51.2,19.4L52.3,16.3L49.9,15.6L48.9,18.5ZM52.3,-16.3L51.2,-19.4L48.9,-18.5L49.9,-15.6ZM53.5,20.3L54.7,17.0L52.3,16.3L51.2,19.4ZM54.7,-17.0L53.5,-20.3L51.2,-19.4L52.3,-16.3ZM55.9,21.2L57.0,17.8L54.7,17.0L53.5,20.3ZM57.0,-17.8L55.9,-21.2L53.5,-20.3L54.7,-17.0ZM64.2,20.0L65.3,16.1L62.8,15.5L61.8,19.3ZM65.3,-16.1L64.2,-20.0L61.8,-19.3L62.8,-15.5ZM67.7,16.7L68.6,12.6L66.1,12.1L65.3,16.1ZM68.6,-12.6L67.7,-16.7L65.3,-16.1L66.1,-12.1Z"/>
<path fill="#021ef7" d="M37.1,4.5L37.3,-0.0L37.1,-4.5L34.6,-4.2L34.9,-0.0L34.6,4.2ZM38.7,9.5L39.2,7.2L36.7,6.7L36.3,8.9ZM39.2,-7.2L38.7,-9.5L36.3,-8.9L36.7,-6.7ZM40.4,12.6L41.1,10.1L38.7,9.5L38.0,11.9ZM41.1,-10.1L40.4,-12.6L38.0,-11.9L38.7,-9.5ZM61.8,19.3L62.8,15.5L60.4,14.9L59.4,18.5ZM62.8,-15.5L61.8,-19.3L59.4,-18.5L60.4,-14.9ZM68.6,12.6L69.2,8.4L66.7,8.1L66.1,12.1ZM69.2,-8.4L68.6,-12.6L66.1,-12.1L66.7,-8.1Z"/>
<path fill="#0030ff" d="M39.2,7.2L39.5,4.8L37.1,4.5L36.7,6.7ZM39.5,-4.8L39.2,-7.2L36.7,-6.7L37.1,-4.5ZM59.4,18.5L60.4,14.9L58.0,14.3L57.0,17.8ZM60.4,-14.9L59.4,-18.5L57.0,-17.8L58.0,-14.3ZM65.3,16.1L66.1,12.1L63.7,11.7L62.8,15.5ZM66.1,-12.1L65.3,-16.1L62.8,-15.5L63.7,-11.7ZM69.2,8.4L69.6,4.2L67.1,4.1L66.7,8.1ZM69.6,-4.2L69.2,-8.4L66.7,-8.1L67.1,-4.1Z"/>
<path fill="#0050ff" d="M39.5,4.8L39.8,2.4L37.3,2.3L37.1,4.5ZM39.8,-2.4L39.5,-4.8L37.1,-4.5L37.3,-2.3ZM57.0,17.8L58.0,14.3L55.6,13.7L54.7,17.0ZM58.0,-14.3L57.0,-17.8L54.7,-17.0L55.6,-13.7Z"/>
<path fill="#0070ff" d="M39.8,2.4L39.8,-2.4L37.3,-2.3L37.3,2.3ZM52.3,16.3L53.2,13.1L50.8,12.5L49.9,15.6ZM53.2,-13.1L52.3,-16.3L49.9,-15.6L50.8,-12.5Z"/>
<path fill="#0040ff" d="M41.1,10.1L41.6,7.6L39.2,7.2L38.7,9.5ZM41.6,-7.6L41.1,-10.1L38.7,-9.5L39.2,-7.2ZM45.2,14.1L45.9,11.3L43.5,10.7L42.8,13.3ZM45.9,-11.3L45.2,-14.1L42.8,-13.3L43.5,-10.7ZM69.6,4.2L69.6,-4.2L67.1,-4.1L67.1,4.1Z"/>
<path fill="#008fff" d="M41.6,7.6L42.0,5.1L39.5,4.8L39.2,7.2ZM42.0,-5.1L41.6,-7.6L39.2,-7.2L39.5,-4.8ZM66.7,8.1L67.1,4.1L64.6,3.9L64.3,7.8ZM67.1,-4.1L66.7,-8.1L64.3,-7.8L64.6,-3.9Z"/>
<path fill="#00cfff" d="M42.0,5.1L42.2,2.6L39.8,2.4L39.5,4.8ZM42.2,-2.6L42.0,-5.1L39.5,-4.8L39.8,-2.4Z"/>
<path fill="#00efff" d="M42.2,2.6L42.2,-2.6L39.8,-2.4L39.8,2.4ZM44.1,8.1L44.5,5.4L42.0,5.1L41.6,7.6ZM44.5,-5.4L44.1,-8.1L41.6,-7.6L42.0,-5.1Z"/>
<path fill="#0020ff" d="M42.8,13.3L43.5,10.7L41.1,10.1L40.4,12.6ZM43.5,-10.7L42.8,-13.3L40.4,-12.6L41.1,-10.1Z"/>
<path fill="#0080ff" d="M43.5,10.7L44.1,8.1L41.6,7.6L41.1,10.1ZM44.1,-8.1L43.5,-10.7L41.1,-10.1L41.6,-7.6Z"/>
<path fill="#60ff9f" d="M44.5,5.4L44.7,2.7L42.2,2.6L42.0,5.1ZM44.7,-2.7L44.5,-5.4L42.0,-5.1L42.2,-2.6ZM46.5,8.5L47.0,5.7L44.5,5.4L44.1,8.1ZM47.0,-5.7L46.5,-8.5L44.1,-8.1L44.5,-5.4Z"/>
<path fill="#9fff60" d="M44.7,2.7L44.7,-2.7L42.2,-2.6L42.2,2.6ZM58.8,10.8L59.3,7.2L56.8,6.9L56.3,10.3ZM59.3,-7.2L58.8,-10.8L56.3,-10.3L56.8,-6.9Z"/>
<path fill="#00bfff" d="M45.9,11.3L46.5,8.5L44.1,8.1L43.5,10.7ZM46.5,-8.5L45.9,-11.3L43.5,-10.7L44.1,-8.1ZM63.7,11.7L64.3,7.8L61.8,7.5L61.2,11.2ZM64.3,-7.8L63.7,-11.7L61.2,-11.2L61.8,-7.5Z"/>
<path fill="#ffff00" d="M47.0,5.7L47.2,2.9L44.7,2.7L44.5,5.4ZM47.2,-2.9L47.0,-5.7L44.5,-5.4L44.7,-2.7ZM51.4,9.4L51.9,6.3L49.4,6.0L49.0,9.0ZM51.9,-6.3L51.4,-9.4L49.0,-9.0L49.4,-6.0Z"/>
<path fill="#ff9f00" d="M47.2,2.9L47.2,-2.9L44.7,-2.7L44.7,2.7Z"/>
<path fill="#0060ff" d="M47.5,14.8L48.3,11.9L45.9,11.3L45.2,14.1ZM48.3,-11.9L47.5,-14.8L45.2,-14.1L45.9,-11.3ZM49.9,15.6L50.8,12.5L48.3,11.9L47.5,14.8ZM50.8,-12.5L49.9,-15.6L47.5,-14.8L48.3,-11.9ZM54.7,17.0L55.6,13.7L53.2,13.1L52.3,16.3ZM55.6,-13.7L54.7,-17.0L52.3,-16.3L53.2,-13.1ZM62.8,15.5L63.7,11.7L61.2,11.2L60.4,14.9ZM63.7,-11.7L62.8,-15.5L60.4,-14.9L61.2,-11.2ZM66.1,12.1L66.7,8.1L64.3,7.8L63.7,11.7ZM66.7,-8.1L66.1,-12.1L63.7,-11.7L64.3,-7.8Z"/>
<path fill="#00ffff" d="M48.3,11.9L49.0,9.0L46.5,8.5L45.9,11.3ZM49.0,-9.0L48.3,-11.9L45.9,-11.3L46.5,-8.5Z"/>
<path fill="#cfff30" d="M49.0,9.0L49.4,6.0L47.0,5.7L46.5,8.5ZM49.4,-6.0L49.0,-9.0L46.5,-8.5L47.0,-5.7Z"/>
<path fill="#ff8000" d="M49.4,6.0L49.7,3.0L47.2,2.9L47.0,5.7ZM49.7,-3.0L49.4,-6.0L47.0,-5.7L47.2,-2.9Z"/>
<path fill="#ff1000" d="M49.7,3.0L49.7,-3.0L47.2,-2.9L47.2,2.9ZM54.4,6.6L54.7,3.3L52.2,3.2L51.9,6.3ZM54.7,-3.3L54.4,-6.6L51.9,-6.3L52.2,-3.2Z"/>
<path fill="#20ffdf" d="M50.8,12.5L51.4,9.4L49.0,9.0L48.3,11.9ZM51.4,-9.4L50.8,-12.5L48.3,-11.9L49.0,-9.0ZM64.3,7.8L64.6,3.9L62.1,3.8L61.8,7.5ZM64.6,-3.9L64.3,-7.8L61.8,-7.5L62.1,-3.8Z"/>
<path fill="#ff2000" d="M51.9,6.3L52.2,3.2L49.7,3.0L49.4,6.0ZM52.2,-3.2L51.9,-6.3L49.4,-6.0L49.7,-3.0Z"/>
<path fill="#9f0000" d="M52.2,3.2L52.2,-3.2L49.7,-3.0L49.7,3.0Z"/>
<path fill="#30ffcf" d="M53.2,13.1L53.9,9.9L51.4,9.4L50.8,12.5ZM53.9,-9.9L53.2,-13.1L50.8,-12.5L51.4,-9.4ZM61.2,11.2L61.8,7.5L59.3,7.2L58.8,10.8ZM61.8,-7.5L61.2,-11.2L58.8,-10.8L59.3,-7.2Z"/>
<path fill="#ffef00" d="M53.9,9.9L54.4,6.6L51.9,6.3L51.4,9.4ZM54.4,-6.6L53.9,-9.9L51.4,-9.4L51.9,-6.3ZM62.1,3.8L62.1,-3.8L59.6,-3.6L59.6,3.6Z"/>
<path fill="#8f0000" d="M54.7,3.3L54.7,-3.3L52.2,-3.2L52.2,3.2Z"/>
<path fill="#10ffef" d="M55.6,13.7L56.3,10.3L53.9,9.9L53.2,13.1ZM56.3,-10.3L55.6,-13.7L53.2,-13.1L53.9,-9.9Z"/>
<path fill="#efff10" d="M56.3,10.3L56.8,6.9L54.4,6.6L53.9,9.9ZM56.8,-6.9L56.3,-10.3L53.9,-9.9L54.4,-6.6Z"/>
<path fill="#ff4000" d="M56.8,6.9L57.2,3.5L54.7,3.3L54.4,6.6ZM57.2,-3.5L56.8,-6.9L54.4,-6.6L54.7,-3.3Z"/>
<path fill="#bf0000" d="M57.2,3.5L57.2,-3.5L54.7,-3.3L54.7,3.3Z"/>
<path fill="#00dfff" d="M58.0,14.3L58.8,10.8L56.3,10.3L55.6,13.7ZM58.8,-10.8L58.0,-14.3L55.6,-13.7L56.3,-10.3Z"/>
<path fill="#ffaf00" d="M59.3,7.2L59.6,3.6L57.2,3.5L56.8,6.9ZM59.6,-3.6L59.3,-7.2L56.8,-6.9L57.2,-3.5Z"/>
<path fill="#ff5000" d="M59.6,3.6L59.6,-3.6L57.2,-3.5L57.2,3.5Z"/>
<path fill="#009fff" d="M60.4,14.9L61.2,11.2L58.8,10.8L58.0,14.3ZM61.2,-11.2L60.4,-14.9L58.0,-14.3L58.8,-10.8Z"/>
<path fill="#bfff40" d="M61.8,7.5L62.1,3.8L59.6,3.6L59.3,7.2ZM62.1,-3.8L61.8,-7.5L59.3,-7.2L59.6,-3.6Z"/>
<path fill="#50ffaf" d="M64.6,3.9L64.6,-3.9L62.1,-3.8L62.1,3.8Z"/>
<path fill="#00afff" d="M67.1,4.1L67.1,-4.1L64.6,-3.9L64.6,3.9Z"/>
</g>
<g id="L2" shape-rendering="crispEdges">
<path fill="#081be8" d="M57.2,3.5L57.2,-3.5L54.7,-3.3L54.7,3.3ZM58.8,10.8L59.3,7.2L56.8,6.9L56.3,10.3ZM59.3,-7.2L58.8,-10.8L56.3,-10.3L56.8,-6.9ZM60.4,14.9L61.2,11.2L58.8,10.8L58.0,14.3ZM61.2,-11.2L60.4,-14.9L58.0,-14.3L58.8,-10.8ZM87.0,21.4L88.2,16.2L85.7,15.7L84.6,20.9ZM88.2,-16.2L87.0,-21.4L84.6,-20.9L85.7,-15.7ZM93.9,11.4L94.6,-0.0L93.9,-11.4L91.4,-11.1L92.1,-0.0L91.4,11.1Z"/>
<path fill="#021ef7" d="M59.3,7.2L59.6,3.6L57.2,3.5L56.8,6.9ZM59.6,-3.6L59.3,-7.2L56.8,-6.9L57.2,-3.5ZM61.2,11.2L61.8,7.5L59.3,7.2L58.8,10.8ZM61.8,-7.5L61.2,-11.2L58.8,-10.8L59.3,-7.2ZM65.3,16.1L66.1,12.1L63.7,11.7L62.8,15.5ZM66.1,-12.1L65.3,-16.1L62.8,-15.5L63.7,-11.7ZM82.2,20.3L83.3,15.3L80.8,14.8L79.8,19.7ZM83.3,-15.3L82.2,-20.3L79.8,-19.7L80.8,-14.8ZM91.4,11.1L91.9,5.6L89.5,5.4L89.0,10.8ZM91.9,-5.6L91.4,-11.1L89.0,-10.8L89.5,-5.4Z"/>
<path fill="#0020ff" d="M59.6,3.6L59.6,-3.6L57.2,-3.5L57.2,3.5ZM67.7,16.7L68.6,12.6L66.1,12.1L65.3,16.1ZM68.6,-12.6L67.7,-16.7L65.3,-16.1L66.1,-12.1ZM70.1,17.3L71.0,13.0L68.6,12.6L67.7,16.7ZM71.0,-13.0L70.1,-17.3L67.7,-16.7L68.6,-12.6ZM79.8,19.7L80.8,14.8L78.4,14.4L77.3,19.1ZM80.8,-14.8L79.8,-19.7L77.3,-19.1L78.4,-14.4ZM88.2,16.2L89.0,10.8L86.5,10.5L85.7,15.7ZM89.0,-10.8L88.2,-16.2L85.7,-15.7L86.5,-10.5Z"/>
<path fill="#0050ff" d="M61.8,7.5L62.1,3.8L59.6,3.6L59.3,7.2ZM62.1,-3.8L61.8,-7.5L59.3,-7.2L59.6,-3.6ZM63.7,11.7L64.3,7.8L61.8,7.5L61.2,11.2ZM64.3,-7.8L63.7,-11.7L61.2,-11.2L61.8,-7.5ZM85.7,15.7L86.5,10.5L84.0,10.2L83.3,15.3ZM86.5,-10.5L85.7,-15.7L83.3,-15.3L84.0,-10.2Z"/>
<path fill="#0080ff" d="M62.1,3.8L62.1,-3.8L59.6,-3.6L59.6,3.6Z"/>
<path fill="#051df0" d="M62.8,15.5L63.7,11.7L61.2,11.2L60.4,14.9ZM63.7,-11.7L62.8,-15.5L60.4,-14.9L61.2,-11.2ZM84.6,20.9L85.7,15.7L83.3,15.3L82.2,20.3ZM85.7,-15.7L84.6,-20.9L82.2,-20.3L83.3,-15.3ZM90.6,16.6L91.4,11.1L89.0,10.8L88.2,16.2ZM91.4,-11.1L90.6,-16.6L88.2,-16.2L89.0,-10.8Z"/>
<path fill="#00bfff" d="M64.3,7.8L64.6,3.9L62.1,3.8L61.8,7.5ZM64.6,-3.9L64.3,-7.8L61.8,-7.5L62.1,-3.8Z"/>
<path fill="#10ffef" d="M64.6,3.9L64.6,-3.9L62.1,-3.8L62.1,3.8Z"/>
<path fill="#008fff" d="M66.1,12.1L66.7,8.1L64.3,7.8L63.7,11.7ZM66.7,-8.1L66.1,-12.1L63.7,-11.7L64.3,-7.8ZM83.3,15.3L84.0,10.2L81.6,9.9L80.8,14.8ZM84.0,-10.2L83.3,-15.3L80.8,-14.8L81.6,-9.9ZM89.5,5.4L89.5,-5.4L87.0,-5.3L87.0,5.3Z"/>
<path fill="#40ffbf" d="M66.7,8.1L67.1,4.1L64.6,3.9L64.3,7.8ZM67.1,-4.1L66.7,-8.1L64.3,-7.8L64.6,-3.9Z"/>
<path fill="#bfff40" d="M67.1,4.1L67.1,-4.1L64.6,-3.9L64.6,3.9ZM69.2,8.4L69.6,4.2L67.1,4.1L66.7,8.1ZM69.6,-4.2L69.2,-8.4L66.7,-8.1L67.1,-4.1Z"/>
<path fill="#00cfff" d="M68.6,12.6L69.2,8.4L66.7,8.1L66.1,12.1ZM69.2,-8.4L68.6,-12.6L66.1,-12.1L66.7,-8.1ZM80.8,14.8L81.6,9.9L79.1,9.6L78.4,14.4ZM81.6,-9.9L80.8,-14.8L78.4,-14.4L79.1,-9.6ZM86.5,10.5L87.0,5.3L84.5,5.1L84.0,10.2ZM87.0,-5.3L86.5,-10.5L84.0,-10.2L84.5,-5.1Z"/>
<path fill="#ff8f00" d="M69.6,4.2L69.6,-4.2L67.1,-4.1L67.1,4.1ZM76.6,9.3L77.0,4.7L74.5,4.5L74.1,9.0ZM77.0,-4.7L76.6,-9.3L74.1,-9.0L74.5,-4.5Z"/>
<path fill="#00ffff" d="M71.0,13.0L71.7,8.7L69.2,8.4L68.6,12.6ZM71.7,-8.7L71.0,-13.0L68.6,-12.6L69.2,-8.4ZM78.4,14.4L79.1,9.6L76.6,9.3L75.9,13.9ZM79.1,-9.6L78.4,-14.4L75.9,-13.9L76.6,-9.3Z"/>
<path fill="#ffdf00" d="M71.7,8.7L72.1,4.4L69.6,4.2L69.2,8.4ZM72.1,-4.4L71.7,-8.7L69.2,-8.4L69.6,-4.2Z"/>
<path fill="#ff0000" d="M72.1,4.4L72.1,-4.4L69.6,-4.2L69.6,4.2Z"/>
<path fill="#0030ff" d="M72.5,17.9L73.5,13.5L71.0,13.0L70.1,17.3ZM73.5,-13.5L72.5,-17.9L70.1,-17.3L71.0,-13.0ZM74.9,18.5L75.9,13.9L73.5,13.5L72.5,17.9ZM75.9,-13.9L74.9,-18.5L72.5,-17.9L73.5,-13.5ZM77.3,19.1L78.4,14.4L75.9,13.9L74.9,18.5ZM78.4,-14.4L77.3,-19.1L74.9,-18.5L75.9,-13.9ZM91.9,5.6L91.9,-5.6L89.5,-5.4L89.5,5.4Z"/>
<path fill="#20ffdf" d="M73.5,13.5L74.1,9.0L71.7,8.7L71.0,13.0ZM74.1,-9.0L73.5,-13.5L71.0,-13.0L71.7,-8.7ZM75.9,13.9L76.6,9.3L74.1,9.0L73.5,13.5ZM76.6,-9.3L75.9,-13.9L73.5,-13.5L74.1,-9.0Z"/>
<path fill="#ff9f00" d="M74.1,9.0L74.5,4.5L72.1,4.4L71.7,8.7ZM74.5,-4.5L74.1,-9.0L71.7,-8.7L72.1,-4.4Z"/>
<path fill="#af0000" d="M74.5,4.5L74.5,-4.5L72.1,-4.4L72.1,4.4Z"/>
<path fill="#9f0000" d="M77.0,4.7L77.0,-4.7L74.5,-4.5L74.5,4.5Z"/>
<path fill="#ffcf00" d="M79.1,9.6L79.5,4.8L77.0,4.7L76.6,9.3ZM79.5,-4.8L79.1,-9.6L76.6,-9.3L77.0,-4.7Z"/>
<path fill="#ef0000" d="M79.5,4.8L79.5,-4.8L77.0,-4.7L77.0,4.7Z"/>
<path fill="#cfff30" d="M81.6,9.9L82.0,5.0L79.5,4.8L79.1,9.6ZM82.0,-5.0L81.6,-9.9L79.1,-9.6L79.5,-4.8Z"/>
<path fill="#ff7000" d="M82.0,5.0L82.0,-5.0L79.5,-4.8L79.5,4.8Z"/>
<path fill="#50ffaf" d="M84.0,10.2L84.5,5.1L82.0,5.0L81.6,9.9ZM84.5,-5.1L84.0,-10.2L81.6,-9.9L82.0,-5.0Z"/>
<path fill="#dfff20" d="M84.5,5.1L84.5,-5.1L82.0,-5.0L82.0,5.0Z"/>
<path fill="#30ffcf" d="M87.0,5.3L87.0,-5.3L84.5,-5.1L84.5,5.1Z"/>
<path fill="#0060ff" d="M89.0,10.8L89.5,5.4L87.0,5.3L86.5,10.5ZM89.5,-5.4L89.0,-10.8L86.5,-10.5L87.0,-5.3Z"/>
</g>
<g id="L3" shape-rendering="crispEdges">
<path fill="#081be8" d="M66.7,8.1L67.1,4.1L64.6,3.9L64.3,7.8ZM67.1,-4.1L66.7,-8.1L64.3,-7.8L64.6,-3.9ZM72.5,17.9L73.5,13.5L71.0,13.0L70.1,17.3ZM73.5,-13.5L72.5,-17.9L70.1,-17.3L71.0,-13.0ZM74.9,18.5L75.9,13.9L73.5,13.5L72.5,17.9ZM75.9,-13.9L74.9,-18.5L72.5,-17.9L73.5,-13.5ZM77.3,19.1L78.4,14.4L75.9,13.9L74.9,18.5ZM78.4,-14.4L77.3,-19.1L74.9,-18.5L75.9,-13.9ZM89.4,22.0L90.6,16.6L88.2,16.2L87.0,21.4ZM90.6,-16.6L89.4,-22.0L87.0,-21.4L88.2,-16.2ZM91.9,22.6L93.1,17.1L90.6,16.6L89.4,22.0ZM93.1,-17.1L91.9,-22.6L89.4,-22.0L90.6,-16.6Z"/>
<path fill="#051df0" d="M67.1,4.1L67.1,-4.1L64.6,-3.9L64.6,3.9ZM68.6,12.6L69.2,8.4L66.7,8.1L66.1,12.1ZM69.2,-8.4L68.6,-12.6L66.1,-12.1L66.7,-8.1ZM79.8,19.7L80.8,14.8L78.4,14.4L77.3,19.1ZM80.8,-14.8L79.8,-19.7L77.3,-19.1L78.4,-14.4ZM82.2,20.3L83.3,15.3L80.8,14.8L79.8,19.7ZM83.3,-15.3L82.2,-20.3L79.8,-19.7L80.8,-14.8ZM84.6,20.9L85.7,15.7L83.3,15.3L82.2,20.3ZM85.7,-15.7L84.6,-20.9L82.2,-20.3L83.3,-15.3ZM87.0,21.4L88.2,16.2L85.7,15.7L84.6,20.9ZM88.2,-16.2L87.0,-21.4L84.6,-20.9L85.7,-15.7Z"/>
<path fill="#0020ff" d="M69.2,8.4L69.6,4.2L67.1,4.1L66.7,8.1ZM69.6,-4.2L69.2,-8.4L66.7,-8.1L67.1,-4.1ZM71.0,13.0L71.7,8.7L69.2,8.4L68.6,12.6ZM71.7,-8.7L71.0,-13.0L68.6,-12.6L69.2,-8.4Z"/>
<path fill="#0040ff" d="M69.6,4.2L69.6,-4.2L67.1,-4.1L67.1,4.1ZM73.5,13.5L74.1,9.0L71.7,8.7L71.0,13.0ZM74.1,-9.0L73.5,-13.5L71.0,-13.0L71.7,-8.7Z"/>
<path fill="#0070ff" d="M71.7,8.7L72.1,4.4L69.6,4.2L69.2,8.4ZM72.1,-4.4L71.7,-8.7L69.2,-8.4L69.6,-4.2ZM75.9,13.9L76.6,9.3L74.1,9.0L73.5,13.5ZM76.6,-9.3L75.9,-13.9L73.5,-13.5L74.1,-9.0Z"/>
<path fill="#00afff" d="M72.1,4.4L72.1,-4.4L69.6,-4.2L69.6,4.2Z"/>
<path fill="#00dfff" d="M74.1,9.0L74.5,4.5L72.1,4.4L71.7,8.7ZM74.5,-4.5L74.1,-9.0L71.7,-8.7L72.1,-4.4Z"/>
<path fill="#50ffaf" d="M74.5,4.5L74.5,-4.5L72.1,-4.4L72.1,4.4ZM76.6,9.3L77.0,4.7L74.5,4.5L74.1,9.0ZM77.0,-4.7L76.6,-9.3L74.1,-9.0L74.5,-4.5Z"/>
<path fill="#ffef00" d="M77.0,4.7L77.0,-4.7L74.5,-4.5L74.5,4.5ZM81.6,9.9L82.0,5.0L79.5,4.8L79.1,9.6ZM82.0,-5.0L81.6,-9.9L79.1,-9.6L79.5,-4.8Z"/>
<path fill="#009fff" d="M78.4,14.4L79.1,9.6L76.6,9.3L75.9,13.9ZM79.1,-9.6L78.4,-14.4L75.9,-13.9L76.6,-9.3ZM88.2,16.2L89.0,10.8L86.5,10.5L85.7,15.7ZM89.0,-10.8L88.2,-16.2L85.7,-15.7L86.5,-10.5Z"/>
<path fill="#bfff40" d="M79.1,9.6L79.5,4.8L77.0,4.7L76.6,9.3ZM79.5,-4.8L79.1,-9.6L76.6,-9.3L77.0,-4.7Z"/>
<path fill="#ff5000" d="M79.5,4.8L79.5,-4.8L77.0,-4.7L77.0,4.7Z"/>
<path fill="#00bfff" d="M80.8,14.8L81.6,9.9L79.1,9.6L78.4,14.4ZM81.6,-9.9L80.8,-14.8L78.4,-14.4L79.1,-9.6ZM85.7,15.7L86.5,10.5L84.0,10.2L83.3,15.3ZM86.5,-10.5L85.7,-15.7L83.3,-15.3L84.0,-10.2Z"/>
<path fill="#df0000" d="M82.0,5.0L82.0,-5.0L79.5,-4.8L79.5,4.8Z"/>
<path fill="#00cfff" d="M83.3,15.3L84.0,10.2L81.6,9.9L80.8,14.8ZM84.0,-10.2L83.3,-15.3L80.8,-14.8L81.6,-9.9Z"/>
<path fill="#ffcf00" d="M84.0,10.2L84.5,5.1L82.0,5.0L81.6,9.9ZM84.5,-5.1L84.0,-10.2L81.6,-9.9L82.0,-5.0Z"/>
<path fill="#9f0000" d="M84.5,5.1L84.5,-5.1L82.0,-5.0L82.0,5.0Z"/>
<path fill="#ffdf00" d="M86.5,10.5L87.0,5.3L84.5,5.1L84.0,10.2ZM87.0,-5.3L86.5,-10.5L84.0,-10.2L84.5,-5.1Z"/>
<path fill="#bf0000" d="M87.0,5.3L87.0,-5.3L84.5,-5.1L84.5,5.1Z"/>
<path fill="#dfff20" d="M89.0,10.8L89.5,5.4L87.0,5.3L86.5,10.5ZM89.5,-5.4L89.0,-10.8L86.5,-10.5L87.0,-5.3Z"/>
<path fill="#ff3000" d="M89.5,5.4L89.5,-5.4L87.0,-5.3L87.0,5.3Z"/>
<path fill="#0080ff" d="M90.6,16.6L91.4,11.1L89.0,10.8L88.2,16.2ZM91.4,-11.1L90.6,-16.6L88.2,-16.2L89.0,-10.8Z"/>
<path fill="#70ff8f" d="M91.4,11.1L91.9,5.6L89.5,5.4L89.0,10.8ZM91.9,-5.6L91.4,-11.1L89.0,-10.8L89.5,-5.4Z"/>
<path fill="#ffbf00" d="M91.9,5.6L91.9,-5.6L89.5,-5.4L89.5,5.4Z"/>
<path fill="#0050ff" d="M93.1,17.1L93.9,11.4L91.4,11.1L90.6,16.6ZM93.9,-11.4L93.1,-17.1L90.6,-16.6L91.4,-11.1Z"/>
<path fill="#00ffff" d="M93.9,11.4L94.4,5.7L91.9,5.6L91.4,11.1ZM94.4,-5.7L93.9,-11.4L91.4,-11.1L91.9,-5.6Z"/>
<path fill="#80ff80" d="M94.4,5.7L94.4,-5.7L91.9,-5.6L91.9,5.6Z"/>
</g>
<g id="L4" shape-rendering="crispEdges">
<path fill="#081be8" d="M89.0,10.8L89.5,5.4L87.0,5.3L86.5,10.5ZM89.5,-5.4L89.0,-10.8L86.5,-10.5L87.0,-5.3ZM90.6,16.6L91.4,11.1L89.0,10.8L88.2,16.2ZM91.4,-11.1L90.6,-16.6L88.2,-16.2L89.0,-10.8ZM93.1,17.1L93.9,11.4L91.4,11.1L90.6,16.6ZM93.9,-11.4L93.1,-17.1L90.6,-16.6L91.4,-11.1Z"/>
<path fill="#051df0" d="M89.5,5.4L89.5,-5.4L87.0,-5.3L87.0,5.3Z"/>
<path fill="#021ef7" d="M91.4,11.1L91.9,5.6L89.5,5.4L89.0,10.8ZM91.9,-5.6L91.4,-11.1L89.0,-10.8L89.5,-5.4Z"/>
<path fill="#0040ff" d="M91.9,5.6L91.9,-5.6L89.5,-5.4L89.5,5.4Z"/>
<path fill="#0050ff" d="M93.9,11.4L94.4,5.7L91.9,5.6L91.4,11.1ZM94.4,-5.7L93.9,-11.4L91.4,-11.1L91.9,-5.6Z"/>
<path fill="#00bfff" d="M94.4,5.7L94.4,-5.7L91.9,-5.6L91.9,5.6Z"/>
</g>
<g id="L5" shape-rendering="crispEdges">
<path fill="#081be8" d="M94.4,5.7L94.4,-5.7L91.9,-5.6L91.9,5.6Z"/>
</g>
</defs>
<rect width="600" height="450" fill="#fff"/>
<rect x="331.7" y="239.3" width="201.3" height="196.0" fill="#07076a"/>
<rect x="331.7" y="239.3" width="201.3" height="196" fill="url(#mR)"/>
<g clip-path="url(#clipR)"><rect x="331.7" y="239.3" width="201.3" height="196.0" fill="#0a16d4"/>
<use href="#spR" x="322.25" y="336.20"/>
<use href="#spR" x="359.30" y="407.80"/>
<use href="#spR" x="359.30" y="372.00"/>
<use href="#spR" x="359.30" y="336.20"/>
<use href="#spR" x="359.30" y="300.40"/>
<use href="#spR" x="359.30" y="264.60"/>
<use href="#spR" x="396.35" y="407.80"/>
<use href="#spR" x="396.35" y="372.00"/>
<use href="#spR" x="396.35" y="336.20"/>
<use href="#spR" x="396.35" y="300.40"/>
<use href="#spR" x="396.35" y="264.60"/>
<use href="#spR" x="433.40" y="443.60"/>
<use href="#spR" x="433.40" y="407.80"/>
<use href="#spR" x="433.40" y="372.00"/>
<use href="#spR" x="433.40" y="336.20"/>
<use href="#spR" x="433.40" y="300.40"/>
<use href="#spR" x="433.40" y="264.60"/>
<use href="#spR" x="433.40" y="228.80"/>
<use href="#spR" x="470.45" y="407.80"/>
<use href="#spR" x="470.45" y="372.00"/>
<use href="#spR" x="470.45" y="336.20"/>
<use href="#spR" x="470.45" y="300.40"/>
<use href="#spR" x="470.45" y="264.60"/>
<use href="#spR" x="507.50" y="407.80"/>
<use href="#spR" x="507.50" y="372.00"/>
<use href="#spR" x="507.50" y="336.20"/>
<use href="#spR" x="507.50" y="300.40"/>
<use href="#spR" x="507.50" y="264.60"/>
<use href="#spR" x="544.55" y="336.20"/>
<rect x="331.7" y="239.3" width="201.3" height="196" fill="url(#mR2)"/>
</g>
<rect x="66.6" y="239.3" width="201.50000000000003" height="195.89999999999998" fill="#07076a"/>
<rect x="66.6" y="239.3" width="201.5" height="195.9" fill="url(#mL)"/>
<g transform="translate(166.4 336.6) scale(1 0.9736)">
<circle r="94.6" fill="#0a1ae0"/>
<circle r="19.92" fill="#081be8"/>
<circle r="17.43" fill="#0020ff"/>
<circle r="14.94" fill="#008fff"/>
<circle r="12.45" fill="#30ffcf"/>
<circle r="9.96" fill="#dfff20"/>
<circle r="7.47" fill="#ff7000"/>
<circle r="4.98" fill="#cf0000"/>
<circle r="2.49" fill="#800000"/>
<use href="#L0" transform="rotate(-180.00)"/>
<use href="#L0" transform="rotate(90.00)"/>
<use href="#L0" transform="rotate(-90.00)"/>
<use href="#L0" transform="rotate(-0.00)"/>
<use href="#L1" transform="rotate(135.00)"/>
<use href="#L1" transform="rotate(-135.00)"/>
<use href="#L1" transform="rotate(45.00)"/>
<use href="#L1" transform="rotate(-45.00)"/>
<use href="#L2" transform="rotate(-180.00)"/>
<use href="#L2" transform="rotate(90.00)"/>
<use href="#L2" transform="rotate(-90.00)"/>
<use href="#L2" transform="rotate(-0.00)"/>
<use href="#L3" transform="rotate(153.43)"/>
<use href="#L3" transform="rotate(-153.43)"/>
<use href="#L3" transform="rotate(116.57)"/>
<use href="#L3" transform="rotate(-116.57)"/>
<use href="#L3" transform="rotate(63.43)"/>
<use href="#L3" transform="rotate(-63.43)"/>
<use href="#L3" transform="rotate(26.57)"/>
<use href="#L3" transform="rotate(-26.57)"/>
<use href="#L4" transform="rotate(135.00)"/>
<use href="#L4" transform="rotate(-135.00)"/>
<use href="#L4" transform="rotate(45.00)"/>
<use href="#L4" transform="rotate(-45.00)"/>
<use href="#L5" transform="rotate(-180.00)"/>
<use href="#L5" transform="rotate(90.00)"/>
<use href="#L5" transform="rotate(-90.00)"/>
<use href="#L5" transform="rotate(-0.00)"/>
</g>
<text x="86.2" y="446.9" font-size="9.0" text-anchor="middle">-0.02</text>
<text x="63.8" y="418.6" font-size="9.0" text-anchor="end">-0.02</text>
<text x="126.6" y="446.9" font-size="9.0" text-anchor="middle">-0.01</text>
<text x="63.8" y="379.4" font-size="9.0" text-anchor="end">-0.01</text>
<text x="167.0" y="446.9" font-size="9.0" text-anchor="middle">0</text>
<text x="63.8" y="340.2" font-size="9.0" text-anchor="end">0</text>
<text x="207.4" y="446.9" font-size="9.0" text-anchor="middle">0.01</text>
<text x="63.8" y="301.0" font-size="9.0" text-anchor="end">0.01</text>
<text x="247.8" y="446.9" font-size="9.0" text-anchor="middle">0.02</text>
<text x="63.8" y="261.8" font-size="9.0" text-anchor="end">0.02</text>
<text x="274.4" y="445.8" font-size="9.0" text-anchor="middle">x</text>
<text x="51.7" y="337.0" font-size="9.0" text-anchor="middle" transform="rotate(-90 51.7 337.0)">y</text>
<text x="352.1" y="446.9" font-size="9.0" text-anchor="middle">-0.02</text>
<text x="328.0" y="418.2" font-size="9.0" text-anchor="end">-0.02</text>
<text x="392.3" y="446.9" font-size="9.0" text-anchor="middle">-0.01</text>
<text x="328.0" y="379.2" font-size="9.0" text-anchor="end">-0.01</text>
<text x="432.5" y="446.9" font-size="9.0" text-anchor="middle">0</text>
<text x="328.0" y="340.2" font-size="9.0" text-anchor="end">0</text>
<text x="472.7" y="446.9" font-size="9.0" text-anchor="middle">0.01</text>
<text x="328.0" y="301.2" font-size="9.0" text-anchor="end">0.01</text>
<text x="512.9" y="446.9" font-size="9.0" text-anchor="middle">0.02</text>
<text x="328.0" y="262.2" font-size="9.0" text-anchor="end">0.02</text>
<text x="539.3" y="445.8" font-size="9.0" text-anchor="middle">x</text>
<text x="300.7" y="337.0" font-size="9.0" text-anchor="middle" transform="rotate(-90 300.7 337.0)">y</text>
<path d="M81.4,201.4L120.6,176.7M120.6,176.7L206.1,188.1M81.4,178.9L120.6,154.0M120.6,154.0L206.2,165.5M81.4,156.3L120.6,131.4M120.6,131.4L206.3,142.8M81.4,133.7L120.7,108.7M120.7,108.7L206.5,120.0M81.4,111.1L120.7,85.9M120.7,85.9L206.6,97.2M81.3,88.4L120.7,63.1M120.7,63.1L206.7,74.4M81.3,65.6L120.8,40.3M120.8,40.3L206.8,51.5M81.3,42.8L120.8,17.4M120.8,17.4L206.9,28.6M101.0,189.1L101.0,30.2M186.3,200.6L101.0,189.1M120.6,176.7L120.8,17.4M206.1,188.1L206.9,28.6M163.3,182.4L163.8,23.0M123.9,207.2L163.3,182.4" stroke="#000" stroke-width="0.8" stroke-dasharray="1.1 3.2" fill="none" opacity="0.72"/>
<path d="M81.3,42.8L81.4,201.4L166.6,212.9L206.1,188.1M81.4,201.4l-3,0.4M81.4,178.9l-3,0.4M81.4,156.3l-3,0.4M81.4,133.7l-3,0.4M81.4,111.1l-3,0.4M81.3,88.4l-3,0.4M81.3,65.6l-3,0.4M81.3,42.8l-3,0.4M166.6,212.9l1.5,-1.0M123.9,207.2l1.5,-1.0M81.4,201.4l1.5,-1.0M166.6,212.9l-2.2,-0.4M186.3,200.6l-2.2,-0.4M206.1,188.1l-2.2,-0.4" stroke="#000" stroke-width="0.85" fill="none"/>
<path d="M163.8,23.0L160.0,22.6L156.0,22.2L152.0,22.0L147.9,21.9L143.7,21.9L139.6,21.9L135.5,22.1L131.5,22.4L127.6,22.8L123.8,23.3L120.1,23.9L116.6,24.5L113.4,25.3L110.4,26.1L107.6,27.1L105.1,28.0L102.9,29.1L101.0,30.2L99.5,31.3L98.3,32.4L97.4,33.6L96.9,34.8L96.7,36.0L96.9,37.3L97.5,38.5L98.4,39.6L99.6,40.8L101.2,41.9L103.1,42.9L105.4,43.9L107.9,44.9L110.7,45.8L113.7,46.6L117.0,47.3L120.5,47.9L124.2,48.4L128.0,48.9L131.9,49.2L135.9,49.5L140.0,49.6L144.1,49.6L148.3,49.6L152.3,49.4L156.4,49.1L160.3,48.7L164.1,48.2L167.8,47.6L171.2,47.0L174.5,46.2L177.6,45.4L180.3,44.5L182.8,43.5L185.1,42.4L187.0,41.4L188.5,40.2L189.8,39.1L190.6,37.9L191.2,36.7L191.3,35.5L191.1,34.2L190.6,33.0L189.7,31.9L188.4,30.7L186.8,29.6L184.9,28.5L182.7,27.5L180.1,26.6L177.3,25.7L174.3,24.9L171.0,24.2L167.5,23.6Z" fill="#6c0e0e" stroke="#300" stroke-width="0.5"/>
<path d="M144.9,35.1L144.7,35.1L144.5,35.1L144.3,35.1L144.1,35.1L143.9,35.1L143.7,35.1L143.5,35.1L143.3,35.1L143.1,35.1L142.9,35.1L142.7,35.2L142.6,35.2L142.4,35.2L142.3,35.3L142.1,35.3L142.0,35.4L141.9,35.4L141.8,35.5L141.7,35.5L141.7,35.6L141.6,35.6L141.6,35.7L141.6,35.8L141.6,35.8L141.6,35.9L141.7,35.9L141.7,36.0L141.8,36.1L141.9,36.1L142.0,36.2L142.1,36.2L142.3,36.3L142.4,36.3L142.6,36.3L142.8,36.4L142.9,36.4L143.1,36.4L143.3,36.4L143.5,36.4L143.7,36.4L143.9,36.4L144.2,36.4L144.4,36.4L144.6,36.4L144.8,36.4L144.9,36.4L145.1,36.3L145.3,36.3L145.5,36.3L145.6,36.2L145.8,36.2L145.9,36.1L146.0,36.1L146.1,36.0L146.2,36.0L146.2,35.9L146.3,35.9L146.3,35.8L146.3,35.7L146.3,35.7L146.3,35.6L146.2,35.6L146.2,35.5L146.1,35.4L146.0,35.4L145.9,35.3L145.7,35.3L145.6,35.3L145.5,35.2L145.3,35.2L145.1,35.1ZM145.9,34.5L145.5,34.4L145.1,34.4L144.7,34.4L144.3,34.4L143.9,34.4L143.5,34.4L143.1,34.4L142.7,34.4L142.3,34.5L141.9,34.5L141.6,34.6L141.2,34.6L140.9,34.7L140.6,34.8L140.3,34.9L140.1,35.0L139.8,35.1L139.6,35.2L139.5,35.3L139.4,35.4L139.3,35.5L139.2,35.7L139.2,35.8L139.2,35.9L139.3,36.0L139.4,36.1L139.5,36.3L139.7,36.4L139.9,36.5L140.1,36.6L140.3,36.7L140.6,36.8L140.9,36.8L141.2,36.9L141.6,37.0L142.0,37.0L142.3,37.1L142.7,37.1L143.1,37.1L143.5,37.1L144.0,37.1L144.4,37.1L144.8,37.1L145.2,37.1L145.6,37.0L146.0,37.0L146.3,36.9L146.7,36.9L147.0,36.8L147.3,36.7L147.6,36.6L147.8,36.5L148.0,36.4L148.2,36.3L148.4,36.2L148.5,36.1L148.6,36.0L148.7,35.8L148.7,35.7L148.7,35.6L148.6,35.5L148.5,35.4L148.4,35.2L148.2,35.1L148.0,35.0L147.8,34.9L147.6,34.8L147.3,34.7L147.0,34.7L146.6,34.6L146.3,34.5ZM146.9,33.8L146.3,33.8L145.7,33.7L145.1,33.7L144.5,33.7L143.9,33.7L143.3,33.7L142.7,33.7L142.1,33.8L141.5,33.8L140.9,33.9L140.4,34.0L139.8,34.1L139.4,34.2L138.9,34.3L138.5,34.4L138.1,34.6L137.8,34.7L137.5,34.9L137.3,35.1L137.1,35.3L136.9,35.4L136.9,35.6L136.8,35.8L136.9,36.0L137.0,36.2L137.1,36.3L137.3,36.5L137.5,36.7L137.8,36.8L138.1,37.0L138.5,37.1L138.9,37.3L139.4,37.4L139.9,37.5L140.4,37.6L141.0,37.7L141.5,37.7L142.1,37.8L142.7,37.8L143.3,37.8L144.0,37.8L144.6,37.8L145.2,37.8L145.8,37.8L146.4,37.7L147.0,37.6L147.5,37.5L148.0,37.4L148.5,37.3L149.0,37.2L149.4,37.1L149.8,36.9L150.1,36.8L150.4,36.6L150.6,36.4L150.8,36.2L150.9,36.1L151.0,35.9L151.0,35.7L151.0,35.5L150.9,35.3L150.8,35.2L150.6,35.0L150.4,34.8L150.1,34.7L149.7,34.5L149.4,34.4L148.9,34.2L148.5,34.1L148.0,34.0L147.5,33.9ZM147.9,33.2L147.1,33.1L146.3,33.1L145.5,33.0L144.7,33.0L143.9,33.0L143.1,33.0L142.3,33.0L141.5,33.1L140.7,33.2L139.9,33.3L139.2,33.4L138.5,33.5L137.8,33.7L137.2,33.8L136.7,34.0L136.2,34.2L135.7,34.4L135.3,34.6L135.0,34.9L134.8,35.1L134.6,35.3L134.5,35.6L134.5,35.8L134.5,36.1L134.6,36.3L134.8,36.5L135.1,36.8L135.4,37.0L135.8,37.2L136.2,37.4L136.7,37.6L137.3,37.8L137.9,37.9L138.5,38.1L139.2,38.2L140.0,38.3L140.7,38.4L141.5,38.5L142.3,38.5L143.2,38.5L144.0,38.5L144.8,38.5L145.6,38.5L146.4,38.4L147.2,38.3L148.0,38.2L148.7,38.1L149.4,38.0L150.1,37.8L150.7,37.7L151.2,37.5L151.7,37.3L152.2,37.1L152.5,36.9L152.8,36.6L153.1,36.4L153.3,36.2L153.4,35.9L153.4,35.7L153.4,35.5L153.3,35.2L153.1,35.0L152.8,34.7L152.5,34.5L152.1,34.3L151.7,34.1L151.2,33.9L150.6,33.7L150.0,33.6L149.3,33.4L148.6,33.3ZM148.9,32.6L147.9,32.5L147.0,32.4L145.9,32.3L144.9,32.3L143.9,32.3L142.9,32.3L141.8,32.3L140.8,32.4L139.8,32.5L138.9,32.6L138.0,32.8L137.1,33.0L136.3,33.1L135.5,33.4L134.8,33.6L134.2,33.8L133.7,34.1L133.2,34.4L132.8,34.6L132.5,34.9L132.3,35.2L132.2,35.5L132.1,35.8L132.2,36.1L132.3,36.4L132.5,36.7L132.8,37.0L133.2,37.3L133.7,37.6L134.3,37.8L134.9,38.0L135.6,38.3L136.4,38.5L137.2,38.6L138.1,38.8L139.0,38.9L139.9,39.0L140.9,39.1L141.9,39.2L143.0,39.2L144.0,39.2L145.0,39.2L146.0,39.2L147.0,39.1L148.0,39.0L149.0,38.9L149.9,38.7L150.8,38.6L151.6,38.4L152.3,38.2L153.0,37.9L153.7,37.7L154.2,37.4L154.7,37.2L155.1,36.9L155.4,36.6L155.6,36.3L155.7,36.0L155.8,35.7L155.7,35.4L155.6,35.1L155.4,34.8L155.0,34.5L154.6,34.2L154.2,34.0L153.6,33.7L153.0,33.5L152.3,33.2L151.5,33.0L150.7,32.9L149.8,32.7ZM149.9,31.9L148.7,31.8L147.6,31.7L146.3,31.6L145.1,31.6L143.9,31.6L142.6,31.6L141.4,31.7L140.2,31.8L139.0,31.9L137.9,32.0L136.8,32.2L135.7,32.4L134.8,32.6L133.9,32.9L133.0,33.1L132.3,33.4L131.6,33.7L131.1,34.1L130.6,34.4L130.2,34.8L130.0,35.1L129.8,35.5L129.8,35.8L129.8,36.2L130.0,36.6L130.3,36.9L130.6,37.3L131.1,37.6L131.7,37.9L132.4,38.2L133.1,38.5L133.9,38.8L134.9,39.0L135.8,39.2L136.9,39.4L138.0,39.6L139.1,39.7L140.3,39.8L141.5,39.9L142.8,39.9L144.0,39.9L145.2,39.9L146.5,39.8L147.7,39.8L148.8,39.6L150.0,39.5L151.1,39.3L152.1,39.1L153.1,38.9L154.0,38.6L154.9,38.4L155.6,38.1L156.3,37.8L156.8,37.4L157.3,37.1L157.7,36.7L157.9,36.4L158.1,36.0L158.1,35.7L158.1,35.3L157.9,34.9L157.6,34.6L157.3,34.2L156.8,33.9L156.2,33.6L155.5,33.3L154.8,33.0L153.9,32.7L153.0,32.5L152.0,32.3L151.0,32.1ZM150.9,31.3L149.5,31.1L148.2,31.0L146.7,30.9L145.3,30.9L143.9,30.9L142.4,30.9L141.0,31.0L139.6,31.1L138.2,31.2L136.9,31.4L135.6,31.6L134.4,31.8L133.2,32.1L132.2,32.4L131.2,32.7L130.3,33.1L129.6,33.4L128.9,33.8L128.4,34.2L127.9,34.6L127.6,35.0L127.4,35.4L127.4,35.9L127.5,36.3L127.7,36.7L128.0,37.1L128.4,37.5L129.0,37.9L129.6,38.3L130.4,38.6L131.3,39.0L132.3,39.3L133.4,39.5L134.5,39.8L135.7,40.0L137.0,40.2L138.3,40.4L139.7,40.5L141.1,40.6L142.6,40.6L144.0,40.6L145.5,40.6L146.9,40.5L148.3,40.4L149.7,40.3L151.0,40.1L152.3,39.9L153.5,39.7L154.6,39.4L155.7,39.1L156.7,38.8L157.5,38.5L158.3,38.1L159.0,37.7L159.5,37.3L160.0,36.9L160.3,36.5L160.5,36.1L160.5,35.6L160.4,35.2L160.2,34.8L159.9,34.4L159.5,34.0L158.9,33.6L158.3,33.2L157.5,32.9L156.6,32.5L155.6,32.2L154.5,32.0L153.4,31.7L152.2,31.5ZM151.9,30.7L150.3,30.5L148.8,30.4L147.1,30.3L145.5,30.2L143.9,30.2L142.2,30.2L140.6,30.3L139.0,30.4L137.4,30.6L135.9,30.8L134.4,31.0L133.0,31.3L131.7,31.6L130.5,31.9L129.4,32.3L128.4,32.7L127.5,33.1L126.8,33.5L126.1,34.0L125.6,34.4L125.3,34.9L125.1,35.4L125.0,35.9L125.1,36.4L125.3,36.8L125.7,37.3L126.2,37.8L126.8,38.2L127.6,38.6L128.5,39.0L129.5,39.4L130.6,39.8L131.8,40.1L133.2,40.4L134.6,40.6L136.0,40.8L137.5,41.0L139.1,41.1L140.7,41.2L142.4,41.3L144.0,41.3L145.7,41.3L147.3,41.2L148.9,41.1L150.5,40.9L152.0,40.7L153.5,40.5L154.9,40.2L156.2,39.9L157.4,39.6L158.5,39.2L159.5,38.8L160.4,38.4L161.1,38.0L161.8,37.5L162.2,37.1L162.6,36.6L162.8,36.1L162.9,35.6L162.8,35.1L162.6,34.7L162.2,34.2L161.7,33.7L161.1,33.3L160.3,32.9L159.4,32.5L158.4,32.1L157.3,31.7L156.1,31.4L154.7,31.1L153.3,30.9ZM152.9,30.0L151.1,29.8L149.4,29.7L147.5,29.6L145.7,29.5L143.8,29.5L142.0,29.5L140.2,29.6L138.3,29.7L136.6,29.9L134.9,30.1L133.2,30.4L131.7,30.7L130.2,31.1L128.8,31.4L127.6,31.8L126.5,32.3L125.5,32.7L124.6,33.2L123.9,33.7L123.4,34.3L123.0,34.8L122.7,35.3L122.7,35.9L122.8,36.4L123.0,37.0L123.4,37.5L124.0,38.0L124.7,38.5L125.6,39.0L126.6,39.4L127.7,39.9L129.0,40.3L130.3,40.6L131.8,40.9L133.4,41.2L135.0,41.5L136.7,41.7L138.5,41.8L140.3,41.9L142.2,42.0L144.0,42.0L145.9,42.0L147.7,41.9L149.5,41.8L151.3,41.6L153.0,41.4L154.7,41.1L156.2,40.8L157.7,40.5L159.1,40.1L160.3,39.7L161.4,39.2L162.4,38.8L163.3,38.3L164.0,37.8L164.5,37.2L164.9,36.7L165.2,36.2L165.2,35.6L165.2,35.1L164.9,34.5L164.5,34.0L163.9,33.5L163.2,33.0L162.3,32.5L161.3,32.1L160.2,31.6L158.9,31.2L157.6,30.9L156.1,30.6L154.5,30.3ZM153.9,29.4L151.9,29.2L150.0,29.0L148.0,28.9L145.9,28.8L143.8,28.8L141.8,28.8L139.7,28.9L137.7,29.1L135.8,29.3L133.9,29.5L132.0,29.8L130.3,30.1L128.7,30.5L127.1,30.9L125.8,31.4L124.5,31.9L123.4,32.4L122.5,33.0L121.7,33.5L121.1,34.1L120.6,34.7L120.4,35.3L120.3,35.9L120.4,36.5L120.7,37.1L121.1,37.7L121.8,38.3L122.6,38.8L123.5,39.4L124.6,39.9L125.9,40.3L127.3,40.8L128.8,41.2L130.5,41.5L132.2,41.8L134.0,42.1L135.9,42.3L137.9,42.5L139.9,42.6L142.0,42.7L144.0,42.7L146.1,42.7L148.1,42.6L150.2,42.4L152.1,42.2L154.0,42.0L155.9,41.7L157.6,41.4L159.2,41.0L160.7,40.6L162.1,40.1L163.4,39.6L164.5,39.1L165.4,38.6L166.2,38.0L166.8,37.4L167.3,36.8L167.5,36.2L167.6,35.6L167.5,35.0L167.2,34.4L166.8,33.8L166.2,33.2L165.4,32.7L164.4,32.1L163.3,31.6L162.0,31.2L160.6,30.7L159.1,30.3L157.4,30.0L155.7,29.7ZM154.8,28.8L152.7,28.5L150.6,28.3L148.4,28.2L146.1,28.1L143.8,28.1L141.6,28.2L139.3,28.3L137.1,28.4L134.9,28.6L132.8,28.9L130.8,29.2L128.9,29.6L127.1,30.0L125.5,30.5L123.9,31.0L122.6,31.5L121.4,32.1L120.3,32.7L119.5,33.3L118.8,33.9L118.3,34.6L118.0,35.3L117.9,35.9L118.1,36.6L118.4,37.2L118.9,37.9L119.5,38.5L120.4,39.1L121.5,39.7L122.7,40.3L124.1,40.8L125.6,41.3L127.3,41.7L129.1,42.1L131.0,42.4L133.0,42.7L135.1,43.0L137.3,43.2L139.5,43.3L141.8,43.4L144.0,43.4L146.3,43.3L148.6,43.2L150.8,43.1L152.9,42.9L155.0,42.6L157.0,42.3L159.0,41.9L160.8,41.5L162.4,41.0L164.0,40.5L165.3,40.0L166.5,39.4L167.6,38.8L168.4,38.2L169.1,37.6L169.6,36.9L169.9,36.3L170.0,35.6L169.9,34.9L169.6,34.3L169.1,33.6L168.4,33.0L167.5,32.4L166.4,31.8L165.2,31.2L163.8,30.7L162.3,30.2L160.6,29.8L158.8,29.4L156.9,29.0ZM155.8,28.1L153.5,27.9L151.2,27.7L148.8,27.5L146.3,27.4L143.8,27.4L141.3,27.5L138.9,27.6L136.5,27.7L134.1,28.0L131.8,28.3L129.6,28.6L127.6,29.0L125.6,29.5L123.8,30.0L122.1,30.5L120.6,31.1L119.3,31.7L118.2,32.4L117.2,33.1L116.5,33.8L116.0,34.5L115.7,35.2L115.6,35.9L115.7,36.7L116.0,37.4L116.6,38.1L117.3,38.8L118.3,39.4L119.4,40.1L120.8,40.7L122.3,41.2L124.0,41.8L125.8,42.2L127.8,42.7L129.9,43.1L132.1,43.4L134.3,43.6L136.7,43.8L139.1,44.0L141.6,44.1L144.1,44.1L146.5,44.0L149.0,43.9L151.4,43.8L153.8,43.5L156.0,43.2L158.2,42.9L160.3,42.5L162.3,42.0L164.1,41.5L165.8,41.0L167.3,40.4L168.6,39.8L169.7,39.1L170.7,38.4L171.4,37.7L171.9,37.0L172.3,36.3L172.4,35.6L172.2,34.8L171.9,34.1L171.4,33.4L170.6,32.7L169.6,32.1L168.5,31.4L167.2,30.8L165.6,30.3L163.9,29.7L162.1,29.2L160.1,28.8L158.0,28.4ZM156.8,27.5L154.3,27.2L151.8,27.0L149.2,26.8L146.5,26.7L143.8,26.7L141.1,26.8L138.5,26.9L135.9,27.1L133.3,27.3L130.8,27.7L128.5,28.0L126.2,28.5L124.1,29.0L122.1,29.5L120.3,30.1L118.7,30.7L117.3,31.4L116.0,32.1L115.0,32.8L114.2,33.6L113.7,34.4L113.3,35.2L113.2,35.9L113.3,36.7L113.7,37.5L114.3,38.3L115.1,39.0L116.2,39.7L117.4,40.4L118.9,41.1L120.5,41.7L122.3,42.3L124.3,42.8L126.4,43.3L128.7,43.7L131.1,44.0L133.6,44.3L136.1,44.5L138.7,44.7L141.4,44.8L144.1,44.8L146.7,44.7L149.4,44.6L152.0,44.4L154.6,44.2L157.1,43.9L159.4,43.5L161.7,43.0L163.8,42.5L165.8,42.0L167.6,41.4L169.2,40.8L170.7,40.1L171.9,39.4L172.9,38.7L173.7,37.9L174.3,37.1L174.6,36.3L174.7,35.6L174.6,34.8L174.2,34.0L173.6,33.2L172.8,32.5L171.8,31.8L170.5,31.1L169.1,30.4L167.4,29.8L165.6,29.2L163.6,28.7L161.5,28.2L159.2,27.8ZM157.8,26.8L155.1,26.5L152.4,26.3L149.6,26.1L146.7,26.0L143.8,26.0L140.9,26.1L138.0,26.2L135.2,26.4L132.5,26.7L129.8,27.0L127.3,27.4L124.8,27.9L122.5,28.4L120.4,29.0L118.5,29.7L116.7,30.4L115.2,31.1L113.9,31.8L112.8,32.6L111.9,33.4L111.3,34.3L111.0,35.1L110.9,36.0L111.0,36.8L111.4,37.6L112.0,38.5L112.9,39.3L114.0,40.0L115.4,40.8L116.9,41.5L118.7,42.2L120.6,42.8L122.8,43.3L125.1,43.8L127.5,44.3L130.1,44.6L132.8,45.0L135.5,45.2L138.3,45.4L141.2,45.4L144.1,45.5L147.0,45.4L149.8,45.3L152.6,45.1L155.4,44.8L158.1,44.5L160.6,44.1L163.1,43.6L165.3,43.1L167.5,42.5L169.4,41.8L171.2,41.2L172.7,40.4L174.0,39.7L175.1,38.9L176.0,38.1L176.6,37.2L177.0,36.4L177.1,35.5L177.0,34.7L176.6,33.9L175.9,33.0L175.1,32.2L173.9,31.4L172.6,30.7L171.0,30.0L169.3,29.3L167.3,28.7L165.1,28.2L162.8,27.7L160.4,27.2ZM158.8,26.2L155.9,25.9L153.0,25.6L150.0,25.4L146.9,25.3L143.8,25.3L140.7,25.4L137.6,25.5L134.6,25.7L131.7,26.0L128.8,26.4L126.1,26.8L123.5,27.3L121.0,27.9L118.8,28.5L116.7,29.2L114.8,30.0L113.2,30.7L111.7,31.6L110.6,32.4L109.7,33.3L109.0,34.2L108.6,35.1L108.5,36.0L108.6,36.9L109.1,37.8L109.7,38.7L110.7,39.5L111.9,40.4L113.3,41.1L115.0,41.9L116.9,42.6L119.0,43.3L121.3,43.9L123.7,44.4L126.3,44.9L129.1,45.3L132.0,45.6L134.9,45.9L137.9,46.0L141.0,46.1L144.1,46.2L147.2,46.1L150.2,46.0L153.3,45.8L156.2,45.5L159.1,45.1L161.8,44.7L164.4,44.2L166.9,43.6L169.1,43.0L171.2,42.3L173.1,41.5L174.8,40.8L176.2,40.0L177.4,39.1L178.3,38.2L179.0,37.3L179.3,36.4L179.5,35.5L179.3,34.6L178.9,33.7L178.2,32.8L177.3,32.0L176.1,31.1L174.6,30.3L173.0,29.6L171.1,28.9L169.0,28.2L166.7,27.6L164.2,27.1L161.6,26.6ZM159.8,25.6L156.7,25.2L153.6,24.9L150.4,24.8L147.1,24.7L143.8,24.6L140.5,24.7L137.2,24.8L134.0,25.1L130.8,25.4L127.8,25.8L124.9,26.2L122.1,26.8L119.5,27.4L117.1,28.1L114.9,28.8L112.9,29.6L111.1,30.4L109.6,31.3L108.4,32.2L107.4,33.1L106.7,34.1L106.3,35.0L106.1,36.0L106.3,37.0L106.7,37.9L107.5,38.9L108.5,39.8L109.8,40.7L111.3,41.5L113.1,42.3L115.1,43.1L117.3,43.8L119.8,44.4L122.4,45.0L125.2,45.5L128.1,45.9L131.2,46.3L134.3,46.5L137.5,46.7L140.8,46.8L144.1,46.9L147.4,46.8L150.7,46.6L153.9,46.4L157.0,46.1L160.1,45.7L163.0,45.3L165.8,44.7L168.4,44.1L170.8,43.4L173.1,42.7L175.1,41.9L176.8,41.1L178.3,40.2L179.6,39.3L180.6,38.4L181.3,37.4L181.7,36.5L181.8,35.5L181.7,34.5L181.2,33.6L180.5,32.6L179.5,31.7L178.2,30.8L176.7,30.0L174.9,29.2L172.9,28.4L170.6,27.7L168.2,27.1L165.5,26.5L162.8,26.0ZM160.8,24.9L157.6,24.6L154.2,24.3L150.8,24.1L147.3,24.0L143.8,23.9L140.3,24.0L136.8,24.2L133.4,24.4L130.0,24.7L126.8,25.2L123.7,25.7L120.7,26.2L118.0,26.9L115.4,27.6L113.0,28.4L110.9,29.2L109.1,30.1L107.5,31.0L106.1,32.0L105.1,32.9L104.4,34.0L103.9,35.0L103.8,36.0L104.0,37.0L104.4,38.0L105.2,39.0L106.3,40.0L107.6,41.0L109.3,41.9L111.1,42.7L113.3,43.5L115.7,44.3L118.3,44.9L121.0,45.6L124.0,46.1L127.1,46.5L130.4,46.9L133.7,47.2L137.1,47.4L140.6,47.5L144.1,47.5L147.6,47.5L151.1,47.3L154.5,47.1L157.8,46.8L161.1,46.3L164.2,45.9L167.1,45.3L169.9,44.6L172.5,43.9L174.9,43.2L177.0,42.3L178.9,41.4L180.5,40.5L181.8,39.6L182.9,38.6L183.6,37.6L184.1,36.5L184.2,35.5L184.0,34.5L183.6,33.4L182.8,32.4L181.7,31.5L180.4,30.5L178.7,29.6L176.8,28.8L174.7,28.0L172.3,27.2L169.7,26.5L166.9,25.9L163.9,25.4ZM161.8,24.3L158.4,23.9L154.8,23.6L151.2,23.4L147.5,23.3L143.8,23.2L140.0,23.3L136.4,23.5L132.7,23.7L129.2,24.1L125.8,24.5L122.5,25.1L119.4,25.7L116.4,26.4L113.7,27.1L111.2,27.9L109.0,28.8L107.0,29.7L105.3,30.7L103.9,31.7L102.8,32.8L102.0,33.8L101.6,34.9L101.4,36.0L101.6,37.1L102.1,38.2L102.9,39.2L104.1,40.3L105.5,41.3L107.2,42.2L109.2,43.1L111.5,44.0L114.0,44.8L116.7,45.5L119.7,46.1L122.8,46.7L126.1,47.2L129.6,47.6L133.1,47.9L136.7,48.1L140.4,48.2L144.1,48.2L147.8,48.2L151.5,48.0L155.1,47.8L158.7,47.4L162.1,47.0L165.4,46.4L168.5,45.8L171.5,45.2L174.2,44.4L176.7,43.6L179.0,42.7L180.9,41.8L182.6,40.8L184.1,39.8L185.2,38.7L186.0,37.7L186.4,36.6L186.6,35.5L186.4,34.4L185.9,33.3L185.1,32.3L184.0,31.2L182.5,30.2L180.8,29.3L178.8,28.4L176.5,27.5L174.0,26.7L171.2,26.0L168.3,25.3L165.1,24.8ZM162.8,23.7L159.2,23.2L155.4,22.9L151.6,22.7L147.7,22.6L143.7,22.5L139.8,22.6L135.9,22.8L132.1,23.1L128.4,23.4L124.8,23.9L121.3,24.5L118.0,25.1L114.9,25.8L112.0,26.6L109.4,27.5L107.0,28.4L105.0,29.4L103.2,30.4L101.7,31.5L100.5,32.6L99.7,33.7L99.2,34.9L99.1,36.0L99.3,37.2L99.8,38.3L100.6,39.4L101.8,40.5L103.4,41.6L105.2,42.6L107.3,43.5L109.7,44.4L112.3,45.3L115.2,46.0L118.4,46.7L121.7,47.3L125.1,47.8L128.8,48.2L132.5,48.6L136.3,48.8L140.2,48.9L144.1,48.9L148.0,48.9L151.9,48.7L155.7,48.4L159.5,48.1L163.1,47.6L166.6,47.0L169.9,46.4L173.0,45.7L175.9,44.9L178.5,44.0L180.9,43.1L183.0,42.1L184.8,41.1L186.3,40.0L187.5,38.9L188.3,37.8L188.8,36.6L189.0,35.5L188.8,34.3L188.2,33.2L187.4,32.1L186.2,31.0L184.7,29.9L182.8,28.9L180.7,27.9L178.3,27.0L175.6,26.2L172.7,25.4L169.6,24.8L166.3,24.2Z" fill="none" stroke="#000" stroke-width="0.35" stroke-opacity="0.6"/>
<path d="M143.9,35.8L163.8,23.0M143.9,35.8L160.3,22.6M143.9,35.8L156.8,22.3M143.9,35.8L153.2,22.1M143.9,35.8L149.5,21.9M143.9,35.8L145.8,21.9M143.9,35.8L142.1,21.9M143.9,35.8L138.4,22.0M143.9,35.8L134.7,22.2M143.9,35.8L131.1,22.4M143.9,35.8L127.6,22.8M143.9,35.8L124.1,23.2M143.9,35.8L120.8,23.7M143.9,35.8L117.7,24.3M143.9,35.8L114.7,25.0M143.9,35.8L111.8,25.7M143.9,35.8L109.2,26.5M143.9,35.8L106.8,27.3M143.9,35.8L104.6,28.2M143.9,35.8L102.7,29.2M143.9,35.8L101.0,30.2M143.9,35.8L99.6,31.2M143.9,35.8L98.5,32.2M143.9,35.8L97.6,33.3M143.9,35.8L97.0,34.4M143.9,35.8L96.7,35.4M143.9,35.8L96.7,36.5M143.9,35.8L97.0,37.6M143.9,35.8L97.6,38.7M143.9,35.8L98.5,39.7M143.9,35.8L99.6,40.8M143.9,35.8L101.1,41.8M143.9,35.8L102.7,42.7M143.9,35.8L104.7,43.7M143.9,35.8L106.8,44.5M143.9,35.8L109.3,45.3M143.9,35.8L111.9,46.1M143.9,35.8L114.7,46.8M143.9,35.8L117.7,47.4M143.9,35.8L120.9,48.0M143.9,35.8L124.2,48.4M143.9,35.8L127.6,48.8M143.9,35.8L131.1,49.2M143.9,35.8L134.7,49.4M143.9,35.8L138.4,49.6M143.9,35.8L142.1,49.6M143.9,35.8L145.8,49.6M143.9,35.8L149.5,49.5M143.9,35.8L153.2,49.3M143.9,35.8L156.8,49.1M143.9,35.8L160.3,48.7M143.9,35.8L163.7,48.3M143.9,35.8L167.1,47.8M143.9,35.8L170.2,47.2M143.9,35.8L173.2,46.5M143.9,35.8L176.1,45.8M143.9,35.8L178.7,45.0M143.9,35.8L181.1,44.2M143.9,35.8L183.3,43.3M143.9,35.8L185.3,42.3M143.9,35.8L187.0,41.4M143.9,35.8L188.4,40.3M143.9,35.8L189.5,39.3M143.9,35.8L190.4,38.2M143.9,35.8L191.0,37.2M143.9,35.8L191.3,36.1M143.9,35.8L191.3,35.0M143.9,35.8L191.0,33.9M143.9,35.8L190.4,32.8M143.9,35.8L189.6,31.7M143.9,35.8L188.4,30.7M143.9,35.8L187.0,29.7M143.9,35.8L185.3,28.7M143.9,35.8L183.4,27.8M143.9,35.8L181.2,27.0M143.9,35.8L178.8,26.1M143.9,35.8L176.1,25.4M143.9,35.8L173.3,24.7M143.9,35.8L170.3,24.1M143.9,35.8L167.1,23.5" fill="none" stroke="#000" stroke-width="0.4" stroke-opacity="0.6"/>
<ellipse cx="143.9" cy="35.6" rx="13.5" ry="3.7" fill="#000" fill-opacity="0.4"/>
<ellipse cx="143.9" cy="35.6" rx="11.3" ry="2.7" fill="#000"/>
<g stroke="#e41010" stroke-width="1.15" fill="none"><path d="M132.8,135.1v6.6M129.5,138.4h6.6M130.5,136.1l4.6,4.6M130.5,140.7l4.6,-4.6"/></g>
<circle cx="144" cy="172" r="3.4" fill="none" stroke="#000" stroke-width="1.0"/>
<ellipse cx="159.6" cy="180.9" rx="12" ry="2.1" transform="rotate(-26 159.6 180.9)" fill="#0a14a0"/>
<text x="74.9" y="203.4" font-size="8.7" text-anchor="end">-0.5</text>
<text x="74.9" y="180.9" font-size="8.7" text-anchor="end">0</text>
<text x="74.9" y="158.3" font-size="8.7" text-anchor="end">0.5</text>
<text x="74.9" y="135.7" font-size="8.7" text-anchor="end">1</text>
<text x="74.9" y="113.1" font-size="8.7" text-anchor="end">1.5</text>
<text x="74.8" y="90.4" font-size="8.7" text-anchor="end">2</text>
<text x="74.8" y="67.6" font-size="8.7" text-anchor="end">2.5</text>
<text x="74.8" y="44.8" font-size="8.7" text-anchor="end">3</text>
<text x="49.0" y="122.7" font-size="8.7" text-anchor="middle" transform="rotate(-90 49.0 122.7)">z</text>
<text x="143.5" y="8.1" font-size="8.7" text-anchor="middle">(a)</text>
<text x="68.9" y="213.2" font-size="8.7" text-anchor="middle">0.1</text>
<text x="115.9" y="218.7" font-size="8.7" text-anchor="middle">0</text>
<text x="152.6" y="223.5" font-size="8.7" text-anchor="middle">-0.1</text>
<text x="181.6" y="220.7" font-size="8.7" text-anchor="middle">-0.1</text>
<text x="195.8" y="209.5" font-size="8.7" text-anchor="middle">0</text>
<text x="219.4" y="196.9" font-size="8.7" text-anchor="middle">0.1</text>
<text x="120.4" y="230.0" font-size="8.7" text-anchor="middle">y</text>
<text x="199.7" y="226.5" font-size="8.7" text-anchor="middle">x</text>
<path d="M246.2,201.0L287.3,175.0M287.3,175.0L371.5,188.4M246.2,178.4L287.3,152.5M287.3,152.5L371.6,165.7M246.1,155.9L287.3,130.1M287.3,130.1L371.6,142.9M246.1,133.3L287.3,107.6M287.3,107.6L371.7,120.1M246.1,110.6L287.3,85.1M287.3,85.1L371.7,97.3M246.1,88.0L287.3,62.5M287.3,62.5L371.8,74.5M246.0,65.3L287.3,39.9M287.3,39.9L371.8,51.6M246.0,42.6L287.3,17.3M287.3,17.3L371.9,28.7M266.8,187.9L266.7,29.9M351.0,201.6L266.8,187.9M287.3,175.0L287.3,17.3M371.5,188.4L371.9,28.7M329.1,181.7L329.3,23.0M288.0,207.8L329.1,181.7" stroke="#000" stroke-width="0.8" stroke-dasharray="1.1 3.2" fill="none" opacity="0.72"/>
<path d="M246.0,42.6L246.2,201.0L330.3,214.8L371.5,188.4M246.2,201.0l-3,0.4M246.2,178.4l-3,0.4M246.1,155.9l-3,0.4M246.1,133.3l-3,0.4M246.1,110.6l-3,0.4M246.1,88.0l-3,0.4M246.0,65.3l-3,0.4M246.0,42.6l-3,0.4M330.3,214.8l1.5,-1.0M288.0,207.8l1.5,-1.0M246.2,201.0l1.5,-1.0M330.3,214.8l-2.2,-0.4M351.0,201.6l-2.2,-0.4M371.5,188.4l-2.2,-0.4" stroke="#000" stroke-width="0.85" fill="none"/>
<g fill-opacity="0.3" stroke="#000" stroke-width="0.36" stroke-opacity="0.9" stroke-linejoin="round">
<path d="M325.0,122.2L325.8,106.2L318.8,83.9L318.3,104.6Z" fill="#40ffbf"/>
<path d="M318.3,104.6L318.8,83.9L311.6,64.7L311.4,89.5Z" fill="#bfff40"/>
<path d="M317.8,121.9L318.3,104.6L311.4,89.5L311.2,110.2Z" fill="#50ffaf"/>
<path d="M324.1,135.7L325.0,122.2L318.3,104.6L317.8,121.9Z" fill="#00dfff"/>
<path d="M331.2,140.5L332.4,129.1L325.8,106.2L325.0,122.2Z" fill="#00bfff"/>
<path d="M317.3,136.2L317.8,121.9L311.2,110.2L311.1,127.3Z" fill="#00dfff"/>
<path d="M323.2,146.9L324.1,135.7L317.8,121.9L317.3,136.2Z" fill="#008fff"/>
<path d="M311.2,110.2L311.4,89.5L304.4,78.6L304.7,101.8Z" fill="#9fff60"/>
<path d="M330.0,150.0L331.2,140.5L325.0,122.2L324.1,135.7Z" fill="#0080ff"/>
<path d="M311.1,127.3L311.2,110.2L304.7,101.8L304.9,120.9Z" fill="#20ffdf"/>
<path d="M311.4,89.5L311.6,64.7L304.2,50.7L304.4,78.6Z" fill="#ffcf00"/>
<path d="M316.7,148.1L317.3,136.2L311.1,127.3L310.9,141.3Z" fill="#008fff"/>
<path d="M310.9,141.3L311.1,127.3L304.9,120.9L305.1,136.5Z" fill="#00bfff"/>
<path d="M322.4,156.2L323.2,146.9L317.3,136.2L316.7,148.1Z" fill="#0050ff"/>
<path d="M336.9,157.5L338.4,150.4L332.4,129.1L331.2,140.5Z" fill="#0050ff"/>
<path d="M328.8,158.1L330.0,150.0L324.1,135.7L323.2,146.9Z" fill="#0050ff"/>
<path d="M304.9,120.9L304.7,101.8L298.2,97.7L298.7,117.9Z" fill="#50ffaf"/>
<path d="M304.7,101.8L304.4,78.6L297.6,73.2L298.2,97.7Z" fill="#dfff20"/>
<path d="M316.2,157.7L316.7,148.1L310.9,141.3L310.8,152.6Z" fill="#0050ff"/>
<path d="M310.8,152.6L310.9,141.3L305.1,136.5L305.3,149.2Z" fill="#0070ff"/>
<path d="M305.1,136.5L304.9,120.9L298.7,117.9L299.3,134.3Z" fill="#00dfff"/>
<path d="M304.4,78.6L304.2,50.7L297.0,43.7L297.6,73.2Z" fill="#ff8000"/>
<path d="M335.5,163.6L336.9,157.5L331.2,140.5L330.0,150.0Z" fill="#0020ff"/>
<path d="M321.5,163.8L322.4,156.2L316.7,148.1L316.2,157.7Z" fill="#0020ff"/>
<path d="M327.6,164.8L328.8,158.1L323.2,146.9L322.4,156.2Z" fill="#0020ff"/>
<path d="M305.3,149.2L305.1,136.5L299.3,134.3L299.9,147.6Z" fill="#008fff"/>
<path d="M310.6,161.7L310.8,152.6L305.3,149.2L305.5,159.3Z" fill="#0030ff"/>
<path d="M315.7,165.4L316.2,157.7L310.8,152.6L310.6,161.7Z" fill="#0020ff"/>
<path d="M298.7,117.9L298.2,97.7L291.9,98.3L292.9,118.5Z" fill="#70ff8f"/>
<path d="M334.0,168.8L335.5,163.6L330.0,150.0L328.8,158.1Z" fill="#0000ff"/>
<path d="M298.2,97.7L297.6,73.2L291.0,73.9L291.9,98.3Z" fill="#ffff00"/>
<path d="M299.3,134.3L298.7,117.9L292.9,118.5L293.8,134.9Z" fill="#00efff"/>
<path d="M305.5,159.3L305.3,149.2L299.9,147.6L300.5,158.2Z" fill="#0040ff"/>
<path d="M320.6,169.9L321.5,163.8L316.2,157.7L315.7,165.4Z" fill="#0000ff"/>
<path d="M326.4,170.3L327.6,164.8L322.4,156.2L321.5,163.8Z" fill="#0000ff"/>
<path d="M299.9,147.6L299.3,134.3L293.8,134.9L294.7,148.1Z" fill="#009fff"/>
<path d="M342.0,171.9L343.7,168.1L338.4,150.4L336.9,157.5Z" fill="#0000ef"/>
<path d="M297.6,73.2L297.0,43.7L290.1,44.4L291.0,73.9Z" fill="#ff5000"/>
<path d="M310.5,169.0L310.6,161.7L305.5,159.3L305.7,167.2Z" fill="#0000ff"/>
<path d="M315.2,171.6L315.7,165.4L310.6,161.7L310.5,169.0Z" fill="#0000ef"/>
<path d="M332.5,173.1L334.0,168.8L328.8,158.1L327.6,164.8Z" fill="#0000df"/>
<path d="M300.5,158.2L299.9,147.6L294.7,148.1L295.6,158.7Z" fill="#0050ff"/>
<path d="M305.7,167.2L305.5,159.3L300.5,158.2L301.0,166.6Z" fill="#0010ff"/>
<path d="M340.2,175.2L342.0,171.9L336.9,157.5L335.5,163.6Z" fill="#0000df"/>
<path d="M325.3,174.9L326.4,170.3L321.5,163.8L320.6,169.9Z" fill="#0000df"/>
<path d="M319.8,174.9L320.6,169.9L315.7,165.4L315.2,171.6Z" fill="#0000df"/>
<path d="M292.9,118.5L291.9,98.3L286.1,103.8L287.4,122.7Z" fill="#70ff8f"/>
<path d="M293.8,134.9L292.9,118.5L287.4,122.7L288.6,138.2Z" fill="#00efff"/>
<path d="M291.9,98.3L291.0,73.9L284.9,80.7L286.1,103.8Z" fill="#ffff00"/>
<path d="M331.0,176.8L332.5,173.1L327.6,164.8L326.4,170.3Z" fill="#0000cf"/>
<path d="M294.7,148.1L293.8,134.9L288.6,138.2L289.8,150.8Z" fill="#009fff"/>
<path d="M310.3,174.7L310.5,169.0L305.7,167.2L305.9,173.5Z" fill="#0000df"/>
<path d="M301.0,166.6L300.5,158.2L295.6,158.7L296.5,167.0Z" fill="#0010ff"/>
<path d="M314.7,176.5L315.2,171.6L310.5,169.0L310.3,174.7Z" fill="#0000cf"/>
<path d="M338.5,178.1L340.2,175.2L335.5,163.6L334.0,168.8Z" fill="#0000cf"/>
<path d="M291.0,73.9L290.1,44.4L283.6,53.0L284.9,80.7Z" fill="#ff5000"/>
<path d="M305.9,173.5L305.7,167.2L301.0,166.6L301.6,173.1Z" fill="#0000df"/>
<path d="M324.1,178.6L325.3,174.9L320.6,169.9L319.8,174.9Z" fill="#0000bf"/>
<path d="M295.6,158.7L294.7,148.1L289.8,150.8L291.1,160.7Z" fill="#0050ff"/>
<path d="M318.9,178.9L319.8,174.9L315.2,171.6L314.7,176.5Z" fill="#0000bf"/>
<path d="M329.5,179.8L331.0,176.8L326.4,170.3L325.3,174.9Z" fill="#0000bf"/>
<path d="M301.6,173.1L301.0,166.6L296.5,167.0L297.5,173.5Z" fill="#0000ef"/>
<path d="M336.7,180.5L338.5,178.1L334.0,168.8L332.5,173.1Z" fill="#0000bf"/>
<path d="M310.2,179.1L310.3,174.7L305.9,173.5L306.2,178.3Z" fill="#0000bf"/>
<path d="M296.5,167.0L295.6,158.7L291.1,160.7L292.3,168.6Z" fill="#0010ff"/>
<path d="M287.4,122.7L286.1,103.8L280.9,113.4L282.4,130.3Z" fill="#50ffaf"/>
<path d="M314.2,180.4L314.7,176.5L310.3,174.7L310.2,179.1Z" fill="#0000bf"/>
<path d="M346.2,182.6L348.2,181.0L343.7,168.1L342.0,171.9Z" fill="#0000af"/>
<path d="M288.6,138.2L287.4,122.7L282.4,130.3L283.9,144.1Z" fill="#00dfff"/>
<path d="M306.2,178.3L305.9,173.5L301.6,173.1L302.2,178.1Z" fill="#0000bf"/>
<path d="M286.1,103.8L284.9,80.7L279.3,92.9L280.9,113.4Z" fill="#dfff20"/>
<path d="M322.9,181.6L324.1,178.6L319.8,174.9L318.9,178.9Z" fill="#0000af"/>
<path d="M289.8,150.8L288.6,138.2L283.9,144.1L285.5,155.2Z" fill="#008fff"/>
<path d="M318.0,182.0L318.9,178.9L314.7,176.5L314.2,180.4Z" fill="#0000af"/>
<path d="M334.9,182.5L336.7,180.5L332.5,173.1L331.0,176.8Z" fill="#0000af"/>
<path d="M328.0,182.3L329.5,179.8L325.3,174.9L324.1,178.6Z" fill="#0000af"/>
<path d="M284.9,80.7L283.6,53.0L277.8,68.4L279.3,92.9Z" fill="#ff8000"/>
<path d="M344.2,183.9L346.2,182.6L342.0,171.9L340.2,175.2Z" fill="#00009f"/>
<path d="M302.2,178.1L301.6,173.1L297.5,173.5L298.4,178.5Z" fill="#0000cf"/>
<path d="M297.5,173.5L296.5,167.0L292.3,168.6L293.6,174.7Z" fill="#0000ef"/>
<path d="M291.1,160.7L289.8,150.8L285.5,155.2L287.0,164.2Z" fill="#0040ff"/>
<path d="M310.0,182.5L310.2,179.1L306.2,178.3L306.4,182.0Z" fill="#0000af"/>
<path d="M313.7,183.3L314.2,180.4L310.2,179.1L310.0,182.5Z" fill="#00009f"/>
<path d="M306.4,182.0L306.2,178.3L302.2,178.1L302.8,181.9Z" fill="#0000af"/>
<path d="M321.7,184.0L322.9,181.6L318.9,178.9L318.0,182.0Z" fill="#00009f"/>
<path d="M292.3,168.6L291.1,160.7L287.0,164.2L288.5,171.2Z" fill="#0010ff"/>
<path d="M342.2,185.1L344.2,183.9L340.2,175.2L338.5,178.1Z" fill="#00009f"/>
<path d="M333.2,184.3L334.9,182.5L331.0,176.8L329.5,179.8Z" fill="#00009f"/>
<path d="M326.5,184.4L328.0,182.3L324.1,178.6L322.9,181.6Z" fill="#00009f"/>
<path d="M317.2,184.5L318.0,182.0L314.2,180.4L313.7,183.3Z" fill="#00009f"/>
<path d="M298.4,178.5L297.5,173.5L293.6,174.7L294.8,179.4Z" fill="#0000cf"/>
<path d="M302.8,181.9L302.2,178.1L298.4,178.5L299.3,182.3Z" fill="#0000af"/>
<path d="M282.4,130.3L280.9,113.4L276.3,126.3L278.1,140.3Z" fill="#20ffdf"/>
<path d="M283.9,144.1L282.4,130.3L278.1,140.3L279.9,151.9Z" fill="#00bfff"/>
<path d="M280.9,113.4L279.3,92.9L274.5,109.2L276.3,126.3Z" fill="#9fff60"/>
<path d="M293.6,174.7L292.3,168.6L288.5,171.2L290.1,176.7Z" fill="#0000df"/>
<path d="M340.3,186.2L342.2,185.1L338.5,178.1L336.7,180.5Z" fill="#00009f"/>
<path d="M285.5,155.2L283.9,144.1L279.9,151.9L281.6,161.2Z" fill="#0070ff"/>
<path d="M331.4,185.8L333.2,184.3L329.5,179.8L328.0,182.3Z" fill="#00009f"/>
<path d="M309.9,185.1L310.0,182.5L306.4,182.0L306.6,184.8Z" fill="#00009f"/>
<path d="M279.3,92.9L277.8,68.4L272.7,88.9L274.5,109.2Z" fill="#ffcf00"/>
<path d="M313.2,185.7L313.7,183.3L310.0,182.5L309.9,185.1Z" fill="#00009f"/>
<path d="M306.6,184.8L306.4,182.0L302.8,181.9L303.4,184.8Z" fill="#00009f"/>
<path d="M320.5,185.9L321.7,184.0L318.0,182.0L317.2,184.5Z" fill="#00009f"/>
<path d="M325.0,186.1L326.5,184.4L322.9,181.6L321.7,184.0Z" fill="#00009f"/>
<path d="M287.0,164.2L285.5,155.2L281.6,161.2L283.4,168.7Z" fill="#0030ff"/>
<path d="M299.3,182.3L298.4,178.5L294.8,179.4L296.1,183.0Z" fill="#0000af"/>
<path d="M338.3,187.2L340.3,186.2L336.7,180.5L334.9,182.5Z" fill="#00008f"/>
<path d="M316.3,186.5L317.2,184.5L313.7,183.3L313.2,185.7Z" fill="#00008f"/>
<path d="M294.8,179.4L293.6,174.7L290.1,176.7L291.6,181.0Z" fill="#0000bf"/>
<path d="M303.4,184.8L302.8,181.9L299.3,182.3L300.2,185.1Z" fill="#00009f"/>
<path d="M288.5,171.2L287.0,164.2L283.4,168.7L285.2,174.7Z" fill="#0000ff"/>
<path d="M349.5,188.9L351.7,188.5L348.2,181.0L346.2,182.6Z" fill="#00008f"/>
<path d="M329.7,187.1L331.4,185.8L328.0,182.3L326.5,184.4Z" fill="#00008f"/>
<path d="M309.8,187.1L309.9,185.1L306.6,184.8L306.8,186.9Z" fill="#00008f"/>
<path d="M323.5,187.5L325.0,186.1L321.7,184.0L320.5,185.9Z" fill="#00008f"/>
<path d="M336.3,188.0L338.3,187.2L334.9,182.5L333.2,184.3Z" fill="#00008f"/>
<path d="M319.3,187.5L320.5,185.9L317.2,184.5L316.3,186.5Z" fill="#00008f"/>
<path d="M312.7,187.5L313.2,185.7L309.9,185.1L309.8,187.1Z" fill="#00008f"/>
<path d="M306.8,186.9L306.6,184.8L303.4,184.8L303.9,187.0Z" fill="#00008f"/>
<path d="M300.2,185.1L299.3,182.3L296.1,183.0L297.3,185.7Z" fill="#00009f"/>
<path d="M347.4,189.3L349.5,188.9L346.2,182.6L344.2,183.9Z" fill="#00008f"/>
<path d="M290.1,176.7L288.5,171.2L285.2,174.7L287.0,179.3Z" fill="#0000df"/>
<path d="M296.1,183.0L294.8,179.4L291.6,181.0L293.1,184.2Z" fill="#0000af"/>
<path d="M278.1,140.3L276.3,126.3L272.5,141.0L274.5,151.9Z" fill="#00dfff"/>
<path d="M327.9,188.1L329.7,187.1L326.5,184.4L325.0,186.1Z" fill="#00008f"/>
<path d="M315.5,188.0L316.3,186.5L313.2,185.7L312.7,187.5Z" fill="#00008f"/>
<path d="M276.3,126.3L274.5,109.2L270.5,127.9L272.5,141.0Z" fill="#50ffaf"/>
<path d="M279.9,151.9L278.1,140.3L274.5,151.9L276.5,160.9Z" fill="#008fff"/>
<path d="M303.9,187.0L303.4,184.8L300.2,185.1L301.2,187.2Z" fill="#00008f"/>
<path d="M345.2,189.7L347.4,189.3L344.2,183.9L342.2,185.1Z" fill="#00008f"/>
<path d="M334.3,188.7L336.3,188.0L333.2,184.3L331.4,185.8Z" fill="#00008f"/>
<path d="M281.6,161.2L279.9,151.9L276.5,160.9L278.5,168.2Z" fill="#0050ff"/>
<path d="M274.5,109.2L272.7,88.9L268.5,112.3L270.5,127.9Z" fill="#bfff40"/>
<path d="M291.6,181.0L290.1,176.7L287.0,179.3L288.8,182.9Z" fill="#0000bf"/>
<path d="M322.0,188.6L323.5,187.5L320.5,185.9L319.3,187.5Z" fill="#00008f"/>
<path d="M283.4,168.7L281.6,161.2L278.5,168.2L280.5,174.0Z" fill="#0020ff"/>
<path d="M297.3,185.7L296.1,183.0L293.1,184.2L294.7,186.6Z" fill="#00009f"/>
<path d="M318.1,188.8L319.3,187.5L316.3,186.5L315.5,188.0Z" fill="#00008f"/>
<path d="M301.2,187.2L300.2,185.1L297.3,185.7L298.6,187.7Z" fill="#00008f"/>
<path d="M309.6,188.6L309.8,187.1L306.8,186.9L307.0,188.5Z" fill="#00008f"/>
<path d="M343.0,190.0L345.2,189.7L342.2,185.1L340.3,186.2Z" fill="#00008f"/>
<path d="M312.2,188.9L312.7,187.5L309.8,187.1L309.6,188.6Z" fill="#00008f"/>
<path d="M307.0,188.5L306.8,186.9L303.9,187.0L304.5,188.6Z" fill="#00008f"/>
<path d="M326.2,189.1L327.9,188.1L325.0,186.1L323.5,187.5Z" fill="#00008f"/>
<path d="M332.3,189.4L334.3,188.7L331.4,185.8L329.7,187.1Z" fill="#00008f"/>
<path d="M285.2,174.7L283.4,168.7L280.5,174.0L282.5,178.7Z" fill="#0000ef"/>
<path d="M293.1,184.2L291.6,181.0L288.8,182.9L290.6,185.7Z" fill="#0000af"/>
<path d="M314.6,189.3L315.5,188.0L312.7,187.5L312.2,188.9Z" fill="#00008f"/>
<path d="M304.5,188.6L303.9,187.0L301.2,187.2L302.1,188.8Z" fill="#00008f"/>
<path d="M340.9,190.4L343.0,190.0L340.3,186.2L338.3,187.2Z" fill="#00008f"/>
<path d="M287.0,179.3L285.2,174.7L282.5,178.7L284.5,182.4Z" fill="#0000cf"/>
<path d="M320.5,189.6L322.0,188.6L319.3,187.5L318.1,188.8Z" fill="#00008f"/>
<path d="M298.6,187.7L297.3,185.7L294.7,186.6L296.2,188.4Z" fill="#00008f"/>
<path d="M330.4,190.0L332.3,189.4L329.7,187.1L327.9,188.1Z" fill="#00008f"/>
<path d="M324.4,189.9L326.2,189.1L323.5,187.5L322.0,188.6Z" fill="#00008f"/>
<path d="M316.9,189.8L318.1,188.8L315.5,188.0L314.6,189.3Z" fill="#00008f"/>
<path d="M302.1,188.8L301.2,187.2L298.6,187.7L299.8,189.3Z" fill="#00008f"/>
<path d="M294.7,186.6L293.1,184.2L290.6,185.7L292.4,187.7Z" fill="#00009f"/>
<path d="M338.7,190.7L340.9,190.4L338.3,187.2L336.3,188.0Z" fill="#00008f"/>
<path d="M309.5,189.8L309.6,188.6L307.0,188.5L307.3,189.8Z" fill="#00008f"/>
<path d="M288.8,182.9L287.0,179.3L284.5,182.4L286.5,185.2Z" fill="#0000bf"/>
<path d="M311.6,190.0L312.2,188.9L309.6,188.6L309.5,189.8Z" fill="#00008f"/>
<path d="M307.3,189.8L307.0,188.5L304.5,188.6L305.1,189.9Z" fill="#00008f"/>
<path d="M274.5,151.9L272.5,141.0L269.6,156.3L271.8,163.9Z" fill="#008fff"/>
<path d="M272.5,141.0L270.5,127.9L267.4,147.1L269.6,156.3Z" fill="#00dfff"/>
<path d="M276.5,160.9L274.5,151.9L271.8,163.9L273.9,170.3Z" fill="#0050ff"/>
<path d="M313.8,190.3L314.6,189.3L312.2,188.9L311.6,190.0Z" fill="#00008f"/>
<path d="M305.1,189.9L304.5,188.6L302.1,188.8L303.0,190.1Z" fill="#00008f"/>
<path d="M328.4,190.6L330.4,190.0L327.9,188.1L326.2,189.1Z" fill="#00008f"/>
<path d="M270.5,127.9L268.5,112.3L265.3,136.1L267.4,147.1Z" fill="#40ffbf"/>
<path d="M336.6,191.0L338.7,190.7L336.3,188.0L334.3,188.7Z" fill="#00008f"/>
<path d="M278.5,168.2L276.5,160.9L273.9,170.3L276.1,175.5Z" fill="#0020ff"/>
<path d="M319.0,190.5L320.5,189.6L318.1,188.8L316.9,189.8Z" fill="#00008f"/>
<path d="M299.8,189.3L298.6,187.7L296.2,188.4L297.8,189.8Z" fill="#00008f"/>
<path d="M322.6,190.6L324.4,189.9L322.0,188.6L320.5,189.6Z" fill="#00008f"/>
<path d="M351.8,191.0L354.1,190.8L351.7,188.5L349.5,188.9Z" fill="#00008f"/>
<path d="M290.6,185.7L288.8,182.9L286.5,185.2L288.5,187.4Z" fill="#00009f"/>
<path d="M296.2,188.4L294.7,186.6L292.4,187.7L294.2,189.3Z" fill="#00008f"/>
<path d="M280.5,174.0L278.5,168.2L276.1,175.5L278.2,179.6Z" fill="#0000ff"/>
<path d="M315.7,190.7L316.9,189.8L314.6,189.3L313.8,190.3Z" fill="#00008f"/>
<path d="M303.0,190.1L302.1,188.8L299.8,189.3L301.1,190.4Z" fill="#00008f"/>
<path d="M349.6,191.3L351.8,191.0L349.5,188.9L347.4,189.3Z" fill="#00008f"/>
<path d="M334.4,191.3L336.6,191.0L334.3,188.7L332.3,189.4Z" fill="#00008f"/>
<path d="M282.5,178.7L280.5,174.0L278.2,179.6L280.4,183.0Z" fill="#0000df"/>
<path d="M326.4,191.1L328.4,190.6L326.2,189.1L324.4,189.9Z" fill="#00008f"/>
<path d="M309.3,190.8L309.5,189.8L307.3,189.8L307.5,190.8Z" fill="#00008f"/>
<path d="M292.4,187.7L290.6,185.7L288.5,187.4L290.5,189.1Z" fill="#00009f"/>
<path d="M307.5,190.8L307.3,189.8L305.1,189.9L305.7,190.9Z" fill="#00008f"/>
<path d="M311.1,191.0L311.6,190.0L309.5,189.8L309.3,190.8Z" fill="#00008f"/>
<path d="M347.3,191.6L349.6,191.3L347.4,189.3L345.2,189.7Z" fill="#00008f"/>
<path d="M284.5,182.4L282.5,178.7L280.4,183.0L282.6,185.7Z" fill="#0000bf"/>
<path d="M320.9,191.2L322.6,190.6L320.5,189.6L319.0,190.5Z" fill="#00008f"/>
<path d="M297.8,189.8L296.2,188.4L294.2,189.3L296.0,190.5Z" fill="#00008f"/>
<path d="M317.5,191.2L319.0,190.5L316.9,189.8L315.7,190.7Z" fill="#00008f"/>
<path d="M301.1,190.4L299.8,189.3L297.8,189.8L299.3,190.9Z" fill="#00008f"/>
<path d="M305.7,190.9L305.1,189.9L303.0,190.1L303.9,191.1Z" fill="#00008f"/>
<path d="M312.9,191.2L313.8,190.3L311.6,190.0L311.1,191.0Z" fill="#00008f"/>
<path d="M332.3,191.6L334.4,191.3L332.3,189.4L330.4,190.0Z" fill="#00008f"/>
<path d="M345.0,191.8L347.3,191.6L345.2,189.7L343.0,190.0Z" fill="#00008f"/>
<path d="M286.5,185.2L284.5,182.4L282.6,185.7L284.7,187.7Z" fill="#0000af"/>
<path d="M324.4,191.5L326.4,191.1L324.4,189.9L322.6,190.6Z" fill="#00008f"/>
<path d="M294.2,189.3L292.4,187.7L290.5,189.1L292.5,190.3Z" fill="#00008f"/>
<path d="M303.9,191.1L303.0,190.1L301.1,190.4L302.3,191.3Z" fill="#00008f"/>
<path d="M314.5,191.5L315.7,190.7L313.8,190.3L312.9,191.2Z" fill="#00008f"/>
<path d="M342.7,192.0L345.0,191.8L343.0,190.0L340.9,190.4Z" fill="#00008f"/>
<path d="M330.1,191.9L332.3,191.6L330.4,190.0L328.4,190.6Z" fill="#00008f"/>
<path d="M288.5,187.4L286.5,185.2L284.7,187.7L286.9,189.3Z" fill="#00009f"/>
<path d="M319.1,191.8L320.9,191.2L319.0,190.5L317.5,191.2Z" fill="#00008f"/>
<path d="M299.3,190.9L297.8,189.8L296.0,190.5L297.8,191.4Z" fill="#00008f"/>
<path d="M309.2,191.7L309.3,190.8L307.5,190.8L307.7,191.7Z" fill="#00008f"/>
<path d="M340.4,192.2L342.7,192.0L340.9,190.4L338.7,190.7Z" fill="#00008f"/>
<path d="M302.3,191.3L301.1,190.4L299.3,190.9L300.9,191.7Z" fill="#00008f"/>
<path d="M307.7,191.7L307.5,190.8L305.7,190.9L306.3,191.8Z" fill="#00008f"/>
<path d="M310.6,191.8L311.1,191.0L309.3,190.8L309.2,191.7Z" fill="#00008f"/>
<path d="M316.1,191.9L317.5,191.2L315.7,190.7L314.5,191.5Z" fill="#00008f"/>
<path d="M322.4,192.0L324.4,191.5L322.6,190.6L320.9,191.2Z" fill="#00008f"/>
<path d="M296.0,190.5L294.2,189.3L292.5,190.3L294.5,191.3Z" fill="#00008f"/>
<path d="M328.0,192.2L330.1,191.9L328.4,190.6L326.4,191.1Z" fill="#00008f"/>
<path d="M306.3,191.8L305.7,190.9L303.9,191.1L304.9,191.9Z" fill="#00008f"/>
<path d="M312.0,191.9L312.9,191.2L311.1,191.0L310.6,191.8Z" fill="#00008f"/>
<path d="M271.8,163.9L269.6,156.3L267.6,170.6L269.9,175.3Z" fill="#0050ff"/>
<path d="M269.6,156.3L267.4,147.1L265.4,164.9L267.6,170.6Z" fill="#0080ff"/>
<path d="M273.9,170.3L271.8,163.9L269.9,175.3L272.2,179.3Z" fill="#0020ff"/>
<path d="M290.5,189.1L288.5,187.4L286.9,189.3L289.0,190.5Z" fill="#00008f"/>
<path d="M267.4,147.1L265.3,136.1L263.1,158.2L265.4,164.9Z" fill="#00bfff"/>
<path d="M338.1,192.4L340.4,192.2L338.7,190.7L336.6,191.0Z" fill="#00008f"/>
<path d="M276.1,175.5L273.9,170.3L272.2,179.3L274.4,182.5Z" fill="#0000ff"/>
<path d="M304.9,191.9L303.9,191.1L302.3,191.3L303.6,192.1Z" fill="#00008f"/>
<path d="M313.4,192.2L314.5,191.5L312.9,191.2L312.0,191.9Z" fill="#00008f"/>
<path d="M278.2,179.6L276.1,175.5L274.4,182.5L276.7,185.1Z" fill="#0000df"/>
<path d="M300.9,191.7L299.3,190.9L297.8,191.4L299.6,192.1Z" fill="#00008f"/>
<path d="M317.4,192.3L319.1,191.8L317.5,191.2L316.1,191.9Z" fill="#00008f"/>
<path d="M325.8,192.5L328.0,192.2L326.4,191.1L324.4,191.5Z" fill="#00008f"/>
<path d="M335.9,192.6L338.1,192.4L336.6,191.0L334.4,191.3Z" fill="#00008f"/>
<path d="M280.4,183.0L278.2,179.6L276.7,185.1L279.0,187.3Z" fill="#0000bf"/>
<path d="M320.5,192.4L322.4,192.0L320.9,191.2L319.1,191.8Z" fill="#00008f"/>
<path d="M297.8,191.4L296.0,190.5L294.5,191.3L296.5,192.0Z" fill="#00008f"/>
<path d="M292.5,190.3L290.5,189.1L289.0,190.5L291.2,191.5Z" fill="#00008f"/>
<path d="M303.6,192.1L302.3,191.3L300.9,191.7L302.4,192.4Z" fill="#00008f"/>
<path d="M314.6,192.5L316.1,191.9L314.5,191.5L313.4,192.2Z" fill="#00008f"/>
<path d="M282.6,185.7L280.4,183.0L279.0,187.3L281.3,188.9Z" fill="#0000af"/>
<path d="M333.6,192.8L335.9,192.6L334.4,191.3L332.3,191.6Z" fill="#00008f"/>
<path d="M309.0,192.5L309.2,191.7L307.7,191.7L307.9,192.5Z" fill="#00008f"/>
<path d="M307.9,192.5L307.7,191.7L306.3,191.8L306.8,192.5Z" fill="#00008f"/>
<path d="M310.1,192.6L310.6,191.8L309.2,191.7L309.0,192.5Z" fill="#00008f"/>
<path d="M323.6,192.8L325.8,192.5L324.4,191.5L322.4,192.0Z" fill="#00008f"/>
<path d="M284.7,187.7L282.6,185.7L281.3,188.9L283.5,190.3Z" fill="#00009f"/>
<path d="M294.5,191.3L292.5,190.3L291.2,191.5L293.4,192.2Z" fill="#00008f"/>
<path d="M306.8,192.5L306.3,191.8L304.9,191.9L305.8,192.6Z" fill="#00008f"/>
<path d="M311.2,192.7L312.0,191.9L310.6,191.8L310.1,192.6Z" fill="#00008f"/>
<path d="M299.6,192.1L297.8,191.4L296.5,192.0L298.5,192.6Z" fill="#00008f"/>
<path d="M331.3,193.0L333.6,192.8L332.3,191.6L330.1,191.9Z" fill="#00008f"/>
<path d="M318.5,192.8L320.5,192.4L319.1,191.8L317.4,192.3Z" fill="#00008f"/>
<path d="M302.4,192.4L300.9,191.7L299.6,192.1L301.4,192.7Z" fill="#00008f"/>
<path d="M315.6,192.8L317.4,192.3L316.1,191.9L314.6,192.5Z" fill="#00008f"/>
<path d="M286.9,189.3L284.7,187.7L283.5,190.3L285.8,191.3Z" fill="#00009f"/>
<path d="M305.8,192.6L304.9,191.9L303.6,192.1L304.8,192.8Z" fill="#00008f"/>
<path d="M312.2,192.8L313.4,192.2L312.0,191.9L311.2,192.7Z" fill="#00008f"/>
<path d="M296.5,192.0L294.5,191.3L293.4,192.2L295.5,192.7Z" fill="#00008f"/>
<path d="M321.5,193.1L323.6,192.8L322.4,192.0L320.5,192.4Z" fill="#00008f"/>
<path d="M329.0,193.2L331.3,193.0L330.1,191.9L328.0,192.2Z" fill="#00008f"/>
<path d="M353.1,189.4L355.4,188.5L354.1,190.8L351.8,191.0Z" fill="#00009f"/>
<path d="M289.0,190.5L286.9,189.3L285.8,191.3L288.1,192.1Z" fill="#00008f"/>
<path d="M304.8,192.8L303.6,192.1L302.4,192.4L303.9,193.0Z" fill="#00008f"/>
<path d="M313.1,193.0L314.6,192.5L313.4,192.2L312.2,192.8Z" fill="#00008f"/>
<path d="M350.7,190.3L353.1,189.4L351.8,191.0L349.6,191.3Z" fill="#00009f"/>
<path d="M301.4,192.7L299.6,192.1L298.5,192.6L300.5,193.1Z" fill="#00008f"/>
<path d="M316.5,193.2L318.5,192.8L317.4,192.3L315.6,192.8Z" fill="#00008f"/>
<path d="M348.4,191.1L350.7,190.3L349.6,191.3L347.3,191.6Z" fill="#00009f"/>
<path d="M326.8,193.4L329.0,193.2L328.0,192.2L325.8,192.5Z" fill="#00008f"/>
<path d="M291.2,191.5L289.0,190.5L288.1,192.1L290.3,192.7Z" fill="#00008f"/>
<path d="M308.9,193.2L309.0,192.5L307.9,192.5L308.1,193.2Z" fill="#00008f"/>
<path d="M298.5,192.6L296.5,192.0L295.5,192.7L297.7,193.2Z" fill="#00008f"/>
<path d="M319.3,193.3L321.5,193.1L320.5,192.4L318.5,192.8Z" fill="#00008f"/>
<path d="M346.0,191.7L348.4,191.1L347.3,191.6L345.0,191.8Z" fill="#00009f"/>
<path d="M303.9,193.0L302.4,192.4L301.4,192.7L303.2,193.3Z" fill="#00008f"/>
<path d="M308.1,193.2L307.9,192.5L306.8,192.5L307.4,193.3Z" fill="#00008f"/>
<path d="M313.9,193.3L315.6,192.8L314.6,192.5L313.1,193.0Z" fill="#00008f"/>
<path d="M309.6,193.3L310.1,192.6L309.0,192.5L308.9,193.2Z" fill="#00008f"/>
<path d="M307.4,193.3L306.8,192.5L305.8,192.6L306.7,193.3Z" fill="#00008f"/>
<path d="M310.3,193.4L311.2,192.7L310.1,192.6L309.6,193.3Z" fill="#00008f"/>
<path d="M343.7,192.2L346.0,191.7L345.0,191.8L342.7,192.0Z" fill="#00008f"/>
<path d="M324.5,193.5L326.8,193.4L325.8,192.5L323.6,192.8Z" fill="#00008f"/>
<path d="M293.4,192.2L291.2,191.5L290.3,192.7L292.6,193.1Z" fill="#00008f"/>
<path d="M306.7,193.3L305.8,192.6L304.8,192.8L306.1,193.5Z" fill="#00008f"/>
<path d="M311.0,193.5L312.2,192.8L311.2,192.7L310.3,193.4Z" fill="#00008f"/>
<path d="M341.3,192.7L343.7,192.2L342.7,192.0L340.4,192.2Z" fill="#00008f"/>
<path d="M269.9,175.3L267.6,170.6L266.7,182.7L269.0,185.1Z" fill="#0000ff"/>
<path d="M272.2,179.3L269.9,175.3L269.0,185.1L271.3,187.1Z" fill="#0000df"/>
<path d="M303.2,193.3L301.4,192.7L300.5,193.1L302.5,193.5Z" fill="#00008f"/>
<path d="M267.6,170.6L265.4,164.9L264.4,179.8L266.7,182.7Z" fill="#0020ff"/>
<path d="M339.0,193.1L341.3,192.7L340.4,192.2L338.1,192.4Z" fill="#00008f"/>
<path d="M314.5,193.6L316.5,193.2L315.6,192.8L313.9,193.3Z" fill="#00008f"/>
<path d="M300.5,193.1L298.5,192.6L297.7,193.2L299.9,193.5Z" fill="#00008f"/>
<path d="M274.4,182.5L272.2,179.3L271.3,187.1L273.7,188.7Z" fill="#0000cf"/>
<path d="M317.2,193.6L319.3,193.3L318.5,192.8L316.5,193.2Z" fill="#00008f"/>
<path d="M306.1,193.5L304.8,192.8L303.9,193.0L305.5,193.6Z" fill="#00008f"/>
<path d="M311.6,193.6L313.1,193.0L312.2,192.8L311.0,193.5Z" fill="#00008f"/>
<path d="M295.5,192.7L293.4,192.2L292.6,193.1L294.9,193.5Z" fill="#00008f"/>
<path d="M322.2,193.7L324.5,193.5L323.6,192.8L321.5,193.1Z" fill="#00008f"/>
<path d="M265.4,164.9L263.1,158.2L262.1,176.4L264.4,179.8Z" fill="#0050ff"/>
<path d="M276.7,185.1L274.4,182.5L273.7,188.7L276.0,190.1Z" fill="#0000bf"/>
<path d="M279.0,187.3L276.7,185.1L276.0,190.1L278.3,191.1Z" fill="#0000af"/>
<path d="M336.7,193.4L339.0,193.1L338.1,192.4L335.9,192.6Z" fill="#00008f"/>
<path d="M281.3,188.9L279.0,187.3L278.3,191.1L280.6,192.0Z" fill="#00009f"/>
<path d="M305.5,193.6L303.9,193.0L303.2,193.3L305.0,193.7Z" fill="#00008f"/>
<path d="M312.1,193.8L313.9,193.3L313.1,193.0L311.6,193.6Z" fill="#00008f"/>
<path d="M334.3,193.6L336.7,193.4L335.9,192.6L333.6,192.8Z" fill="#00008f"/>
<path d="M283.5,190.3L281.3,188.9L280.6,192.0L283.0,192.7Z" fill="#00009f"/>
<path d="M297.7,193.2L295.5,192.7L294.9,193.5L297.2,193.7Z" fill="#00008f"/>
<path d="M319.9,193.9L322.2,193.7L321.5,193.1L319.3,193.3Z" fill="#00008f"/>
<path d="M332.0,193.8L334.3,193.6L333.6,192.8L331.3,193.0Z" fill="#00008f"/>
<path d="M302.5,193.5L300.5,193.1L299.9,193.5L302.1,193.8Z" fill="#00008f"/>
<path d="M285.8,191.3L283.5,190.3L283.0,192.7L285.3,193.2Z" fill="#00008f"/>
<path d="M315.0,193.9L317.2,193.6L316.5,193.2L314.5,193.6Z" fill="#00008f"/>
<path d="M308.7,194.0L308.9,193.2L308.1,193.2L308.4,194.0Z" fill="#00008f"/>
<path d="M308.4,194.0L308.1,193.2L307.4,193.3L308.0,194.0Z" fill="#00008f"/>
<path d="M309.1,194.0L309.6,193.3L308.9,193.2L308.7,194.0Z" fill="#00008f"/>
<path d="M305.0,193.7L303.2,193.3L302.5,193.5L304.6,193.9Z" fill="#00008f"/>
<path d="M312.5,194.0L314.5,193.6L313.9,193.3L312.1,193.8Z" fill="#00008f"/>
<path d="M329.6,194.0L332.0,193.8L331.3,193.0L329.0,193.2Z" fill="#00008f"/>
<path d="M288.1,192.1L285.8,191.3L285.3,193.2L287.6,193.6Z" fill="#00008f"/>
<path d="M308.0,194.0L307.4,193.3L306.7,193.3L307.7,194.0Z" fill="#00008f"/>
<path d="M309.5,194.0L310.3,193.4L309.6,193.3L309.1,194.0Z" fill="#00008f"/>
<path d="M299.9,193.5L297.7,193.2L297.2,193.7L299.5,194.0Z" fill="#00008f"/>
<path d="M317.7,194.1L319.9,193.9L319.3,193.3L317.2,193.6Z" fill="#00008f"/>
<path d="M307.7,194.0L306.7,193.3L306.1,193.5L307.3,194.1Z" fill="#00008f"/>
<path d="M309.8,194.1L311.0,193.5L310.3,193.4L309.5,194.0Z" fill="#00008f"/>
<path d="M290.3,192.7L288.1,192.1L287.6,193.6L289.9,193.9Z" fill="#00008f"/>
<path d="M327.3,194.2L329.6,194.0L329.0,193.2L326.8,193.4Z" fill="#00008f"/>
<path d="M307.3,194.1L306.1,193.5L305.5,193.6L307.0,194.2Z" fill="#00008f"/>
<path d="M310.1,194.2L311.6,193.6L311.0,193.5L309.8,194.1Z" fill="#00008f"/>
<path d="M292.6,193.1L290.3,192.7L289.9,193.9L292.3,194.1Z" fill="#00008f"/>
<path d="M324.9,194.3L327.3,194.2L326.8,193.4L324.5,193.5Z" fill="#00008f"/>
<path d="M304.6,193.9L302.5,193.5L302.1,193.8L304.2,194.1Z" fill="#00008f"/>
<path d="M312.9,194.2L315.0,193.9L314.5,193.6L312.5,194.0Z" fill="#00008f"/>
<path d="M302.1,193.8L299.9,193.5L299.5,194.0L301.7,194.2Z" fill="#00008f"/>
<path d="M315.4,194.2L317.7,194.1L317.2,193.6L315.0,193.9Z" fill="#00008f"/>
<path d="M307.0,194.2L305.5,193.6L305.0,193.7L306.8,194.2Z" fill="#00008f"/>
<path d="M310.3,194.2L312.1,193.8L311.6,193.6L310.1,194.2Z" fill="#00008f"/>
<path d="M294.9,193.5L292.6,193.1L292.3,194.1L294.6,194.2Z" fill="#00008f"/>
<path d="M322.6,194.4L324.9,194.3L324.5,193.5L322.2,193.7Z" fill="#00008f"/>
<path d="M306.8,194.2L305.0,193.7L304.6,193.9L306.6,194.3Z" fill="#00008f"/>
<path d="M310.6,194.3L312.5,194.0L312.1,193.8L310.3,194.2Z" fill="#00008f"/>
<path d="M297.2,193.7L294.9,193.5L294.6,194.2L296.9,194.4Z" fill="#00008f"/>
<path d="M320.3,194.4L322.6,194.4L322.2,193.7L319.9,193.9Z" fill="#00008f"/>
<path d="M304.2,194.1L302.1,193.8L301.7,194.2L304.0,194.4Z" fill="#00008f"/>
<path d="M313.1,194.4L315.4,194.2L315.0,193.9L312.9,194.2Z" fill="#00008f"/>
<path d="M299.5,194.0L297.2,193.7L296.9,194.4L299.3,194.4Z" fill="#00008f"/>
<path d="M317.9,194.5L320.3,194.4L319.9,193.9L317.7,194.1Z" fill="#00008f"/>
<path d="M306.6,194.3L304.6,193.9L304.2,194.1L306.4,194.4Z" fill="#00008f"/>
<path d="M310.7,194.4L312.9,194.2L312.5,194.0L310.6,194.3Z" fill="#00008f"/>
<path d="M301.7,194.2L299.5,194.0L299.3,194.4L301.6,194.5Z" fill="#00008f"/>
<path d="M315.6,194.6L317.9,194.5L317.7,194.1L315.4,194.2Z" fill="#00008f"/>
<path d="M308.6,194.7L308.7,194.0L308.4,194.0L308.6,194.7Z" fill="#00008f"/>
<path d="M308.6,194.7L308.4,194.0L308.0,194.0L308.6,194.7Z" fill="#00008f"/>
<path d="M308.6,194.7L309.1,194.0L308.7,194.0L308.6,194.7Z" fill="#00008f"/>
<path d="M308.6,194.7L308.0,194.0L307.7,194.0L308.6,194.7Z" fill="#00008f"/>
<path d="M308.6,194.7L309.5,194.0L309.1,194.0L308.6,194.7Z" fill="#00008f"/>
<path d="M306.4,194.4L304.2,194.1L304.0,194.4L306.3,194.5Z" fill="#00008f"/>
<path d="M310.9,194.6L313.1,194.4L312.9,194.2L310.7,194.4Z" fill="#00008f"/>
<path d="M308.6,194.7L307.7,194.0L307.3,194.1L308.6,194.7Z" fill="#00008f"/>
<path d="M308.6,194.7L309.8,194.1L309.5,194.0L308.6,194.7Z" fill="#00008f"/>
<path d="M308.6,194.7L307.3,194.1L307.0,194.2L308.6,194.7Z" fill="#00008f"/>
<path d="M308.6,194.7L310.1,194.2L309.8,194.1L308.6,194.7Z" fill="#00008f"/>
<path d="M304.0,194.4L301.7,194.2L301.6,194.5L303.9,194.6Z" fill="#00008f"/>
<path d="M313.3,194.6L315.6,194.6L315.4,194.2L313.1,194.4Z" fill="#00008f"/>
<path d="M308.6,194.7L307.0,194.2L306.8,194.2L308.6,194.7Z" fill="#00008f"/>
<path d="M308.6,194.7L310.3,194.2L310.1,194.2L308.6,194.7Z" fill="#00008f"/>
<path d="M308.6,194.7L306.8,194.2L306.6,194.3L308.6,194.7Z" fill="#00008f"/>
<path d="M308.6,194.7L310.6,194.3L310.3,194.2L308.6,194.7Z" fill="#00008f"/>
<path d="M306.3,194.5L304.0,194.4L303.9,194.6L306.3,194.7Z" fill="#00008f"/>
<path d="M310.9,194.7L313.3,194.6L313.1,194.4L310.9,194.6Z" fill="#00008f"/>
<path d="M308.6,194.7L306.6,194.3L306.4,194.4L308.6,194.7Z" fill="#00008f"/>
<path d="M308.6,194.7L310.7,194.4L310.6,194.3L308.6,194.7Z" fill="#00008f"/>
<path d="M308.6,194.7L306.4,194.4L306.3,194.5L308.6,194.7Z" fill="#00008f"/>
<path d="M308.6,194.7L310.9,194.6L310.7,194.4L308.6,194.7Z" fill="#00008f"/>
<path d="M308.6,194.7L306.3,194.5L306.3,194.7L308.6,194.7Z" fill="#00008f"/>
<path d="M308.6,194.7L310.9,194.7L310.9,194.6L308.6,194.7Z" fill="#00008f"/>
<path d="M296.9,194.4L294.6,194.2L294.6,195.0L296.9,195.0Z" fill="#00008f"/>
<path d="M299.3,194.4L296.9,194.4L296.9,195.0L299.3,194.9Z" fill="#00008f"/>
<path d="M294.6,194.2L292.3,194.1L292.3,195.0L294.6,195.0Z" fill="#00008f"/>
<path d="M301.6,194.5L299.3,194.4L299.3,194.9L301.6,194.9Z" fill="#00008f"/>
<path d="M292.3,194.1L289.9,193.9L290.0,195.0L292.3,195.0Z" fill="#00008f"/>
<path d="M303.9,194.6L301.6,194.5L301.6,194.9L303.9,194.8Z" fill="#00008f"/>
<path d="M306.3,194.7L303.9,194.6L303.9,194.8L306.3,194.8Z" fill="#00008f"/>
<path d="M289.9,193.9L287.6,193.6L287.6,195.0L290.0,195.0Z" fill="#00008f"/>
<path d="M308.6,194.7L306.3,194.7L306.3,194.8L308.6,194.7Z" fill="#00008f"/>
<path d="M308.6,194.7L310.9,194.8L310.9,194.7L308.6,194.7Z" fill="#00008f"/>
<path d="M310.9,194.8L313.3,194.8L313.3,194.6L310.9,194.7Z" fill="#00008f"/>
<path d="M313.3,194.8L315.6,194.9L315.6,194.6L313.3,194.6Z" fill="#00008f"/>
<path d="M287.6,193.6L285.3,193.2L285.3,194.9L287.6,195.0Z" fill="#00008f"/>
<path d="M315.6,194.9L318.0,194.9L317.9,194.5L315.6,194.6Z" fill="#00008f"/>
<path d="M318.0,194.9L320.3,195.0L320.3,194.4L317.9,194.5Z" fill="#00008f"/>
<path d="M320.3,195.0L322.6,195.0L322.6,194.4L320.3,194.4Z" fill="#00008f"/>
<path d="M285.3,193.2L283.0,192.7L283.0,194.8L285.3,194.9Z" fill="#00008f"/>
<path d="M322.6,195.0L325.0,194.9L324.9,194.3L322.6,194.4Z" fill="#00008f"/>
<path d="M325.0,194.9L327.3,194.8L327.3,194.2L324.9,194.3Z" fill="#00008f"/>
<path d="M283.0,192.7L280.6,192.0L280.7,194.6L283.0,194.8Z" fill="#00008f"/>
<path d="M327.3,194.8L329.7,194.6L329.6,194.0L327.3,194.2Z" fill="#00008f"/>
<path d="M329.7,194.6L332.0,194.4L332.0,193.8L329.6,194.0Z" fill="#00008f"/>
<path d="M280.6,192.0L278.3,191.1L278.4,194.4L280.7,194.6Z" fill="#00008f"/>
<path d="M332.0,194.4L334.4,194.0L334.3,193.6L332.0,193.8Z" fill="#00008f"/>
<path d="M308.6,194.7L306.3,194.8L306.3,194.9L308.6,194.7Z" fill="#00008f"/>
<path d="M334.4,194.0L336.7,193.6L336.7,193.4L334.3,193.6Z" fill="#00008f"/>
<path d="M308.6,194.7L310.9,194.9L310.9,194.8L308.6,194.7Z" fill="#00008f"/>
<path d="M278.3,191.1L276.0,190.1L276.0,194.1L278.4,194.4Z" fill="#00009f"/>
<path d="M336.7,193.6L339.1,192.9L339.0,193.1L336.7,193.4Z" fill="#00008f"/>
<path d="M276.0,190.1L273.7,188.7L273.7,193.6L276.0,194.1Z" fill="#00009f"/>
<path d="M339.1,192.9L341.4,192.2L341.3,192.7L339.0,193.1Z" fill="#00009f"/>
<path d="M308.6,194.7L306.3,194.9L306.4,195.0L308.6,194.7Z" fill="#00008f"/>
<path d="M308.6,194.7L310.8,195.0L310.9,194.9L308.6,194.7Z" fill="#00008f"/>
<path d="M341.4,192.2L343.8,191.2L343.7,192.2L341.3,192.7Z" fill="#00009f"/>
<path d="M273.7,188.7L271.3,187.1L271.4,193.1L273.7,193.6Z" fill="#0000af"/>
<path d="M343.8,191.2L346.2,190.0L346.0,191.7L343.7,192.2Z" fill="#0000af"/>
<path d="M271.3,187.1L269.0,185.1L269.1,192.5L271.4,193.1Z" fill="#0000bf"/>
<path d="M308.6,194.7L306.4,195.0L306.6,195.1L308.6,194.7Z" fill="#00008f"/>
<path d="M308.6,194.7L310.6,195.1L310.8,195.0L308.6,194.7Z" fill="#00008f"/>
<path d="M306.3,194.8L303.9,194.8L304.1,195.1L306.3,194.9Z" fill="#00008f"/>
<path d="M310.9,194.9L313.2,195.1L313.3,194.8L310.9,194.8Z" fill="#00008f"/>
<path d="M346.2,190.0L348.5,188.6L348.4,191.1L346.0,191.7Z" fill="#0000af"/>
<path d="M269.0,185.1L266.7,182.7L266.8,191.7L269.1,192.5Z" fill="#0000cf"/>
<path d="M308.6,194.7L306.6,195.1L306.8,195.2L308.6,194.7Z" fill="#00008f"/>
<path d="M308.6,194.7L310.4,195.2L310.6,195.1L308.6,194.7Z" fill="#00008f"/>
<path d="M348.5,188.6L350.9,186.9L350.7,190.3L348.4,191.1Z" fill="#0000bf"/>
<path d="M308.6,194.7L306.8,195.2L307.1,195.3L308.6,194.7Z" fill="#00008f"/>
<path d="M308.6,194.7L310.1,195.3L310.4,195.2L308.6,194.7Z" fill="#00008f"/>
<path d="M266.7,182.7L264.4,179.8L264.5,190.8L266.8,191.7Z" fill="#0000df"/>
<path d="M350.9,186.9L353.3,185.0L353.1,189.4L350.7,190.3Z" fill="#0000cf"/>
<path d="M303.9,194.8L301.6,194.9L301.8,195.2L304.1,195.1Z" fill="#00008f"/>
<path d="M313.2,195.1L315.5,195.2L315.6,194.9L313.3,194.8Z" fill="#00008f"/>
<path d="M308.6,194.7L307.1,195.3L307.4,195.3L308.6,194.7Z" fill="#00008f"/>
<path d="M308.6,194.7L309.9,195.4L310.1,195.3L308.6,194.7Z" fill="#00008f"/>
<path d="M353.3,185.0L355.6,182.7L355.4,188.5L353.1,189.4Z" fill="#0000df"/>
<path d="M308.6,194.7L307.4,195.3L307.7,195.4L308.6,194.7Z" fill="#00008f"/>
<path d="M308.6,194.7L309.5,195.4L309.9,195.4L308.6,194.7Z" fill="#00008f"/>
<path d="M306.3,194.9L304.1,195.1L304.3,195.3L306.4,195.0Z" fill="#00008f"/>
<path d="M264.4,179.8L262.1,176.4L262.2,189.7L264.5,190.8Z" fill="#0000ef"/>
<path d="M310.8,195.0L313.0,195.3L313.2,195.1L310.9,194.9Z" fill="#00008f"/>
<path d="M308.6,194.7L307.7,195.4L308.1,195.4L308.6,194.7Z" fill="#00008f"/>
<path d="M308.6,194.7L309.2,195.4L309.5,195.4L308.6,194.7Z" fill="#00008f"/>
<path d="M308.6,194.7L308.1,195.4L308.4,195.5L308.6,194.7Z" fill="#00008f"/>
<path d="M308.6,194.7L308.8,195.5L309.2,195.4L308.6,194.7Z" fill="#00008f"/>
<path d="M308.6,194.7L308.4,195.5L308.8,195.5L308.6,194.7Z" fill="#00008f"/>
<path d="M301.6,194.9L299.3,194.9L299.5,195.4L301.8,195.2Z" fill="#00008f"/>
<path d="M315.5,195.2L317.8,195.4L318.0,194.9L315.6,194.9Z" fill="#00008f"/>
<path d="M306.4,195.0L304.3,195.3L304.6,195.5L306.6,195.1Z" fill="#00008f"/>
<path d="M310.6,195.1L312.6,195.5L313.0,195.3L310.8,195.0Z" fill="#00008f"/>
<path d="M299.3,194.9L296.9,195.0L297.3,195.5L299.5,195.4Z" fill="#00008f"/>
<path d="M317.8,195.4L320.0,195.5L320.3,195.0L318.0,194.9Z" fill="#00008f"/>
<path d="M304.1,195.1L301.8,195.2L302.1,195.5L304.3,195.3Z" fill="#00008f"/>
<path d="M313.0,195.3L315.1,195.5L315.5,195.2L313.2,195.1Z" fill="#00008f"/>
<path d="M296.9,195.0L294.6,195.0L295.0,195.7L297.3,195.5Z" fill="#00008f"/>
<path d="M320.0,195.5L322.3,195.5L322.6,195.0L320.3,195.0Z" fill="#00008f"/>
<path d="M306.6,195.1L304.6,195.5L305.1,195.7L306.8,195.2Z" fill="#00008f"/>
<path d="M310.4,195.2L312.2,195.7L312.6,195.5L310.6,195.1Z" fill="#00008f"/>
<path d="M294.6,195.0L292.3,195.0L292.7,195.9L295.0,195.7Z" fill="#00008f"/>
<path d="M322.3,195.5L324.6,195.5L325.0,194.9L322.6,195.0Z" fill="#00008f"/>
<path d="M306.8,195.2L305.1,195.7L305.6,195.8L307.1,195.3Z" fill="#00008f"/>
<path d="M310.1,195.3L311.7,195.8L312.2,195.7L310.4,195.2Z" fill="#00008f"/>
<path d="M301.8,195.2L299.5,195.4L300.0,195.8L302.1,195.5Z" fill="#00008f"/>
<path d="M315.1,195.5L317.3,195.8L317.8,195.4L315.5,195.2Z" fill="#00008f"/>
<path d="M304.3,195.3L302.1,195.5L302.7,195.9L304.6,195.5Z" fill="#00008f"/>
<path d="M312.6,195.5L314.7,195.8L315.1,195.5L313.0,195.3Z" fill="#00008f"/>
<path d="M292.3,195.0L290.0,195.0L290.5,196.0L292.7,195.9Z" fill="#00008f"/>
<path d="M324.6,195.5L326.9,195.4L327.3,194.8L325.0,194.9Z" fill="#00008f"/>
<path d="M307.1,195.3L305.6,195.8L306.2,196.0L307.4,195.3Z" fill="#00008f"/>
<path d="M309.9,195.4L311.1,196.0L311.7,195.8L310.1,195.3Z" fill="#00008f"/>
<path d="M290.0,195.0L287.6,195.0L288.2,196.2L290.5,196.0Z" fill="#00008f"/>
<path d="M307.4,195.3L306.2,196.0L306.9,196.1L307.7,195.4Z" fill="#00008f"/>
<path d="M309.5,195.4L310.5,196.1L311.1,196.0L309.9,195.4Z" fill="#00008f"/>
<path d="M299.5,195.4L297.3,195.5L297.9,196.1L300.0,195.8Z" fill="#00008f"/>
<path d="M326.9,195.4L329.2,195.1L329.7,194.6L327.3,194.8Z" fill="#00008f"/>
<path d="M317.3,195.8L319.5,195.9L320.0,195.5L317.8,195.4Z" fill="#00008f"/>
<path d="M307.7,195.4L306.9,196.1L307.6,196.1L308.1,195.4Z" fill="#00008f"/>
<path d="M309.2,195.4L309.8,196.1L310.5,196.1L309.5,195.4Z" fill="#00008f"/>
<path d="M304.6,195.5L302.7,195.9L303.3,196.1L305.1,195.7Z" fill="#00008f"/>
<path d="M287.6,195.0L285.3,194.9L285.9,196.3L288.2,196.2Z" fill="#00008f"/>
<path d="M312.2,195.7L314.0,196.1L314.7,195.8L312.6,195.5Z" fill="#00008f"/>
<path d="M308.1,195.4L307.6,196.1L308.3,196.2L308.4,195.5Z" fill="#00008f"/>
<path d="M308.8,195.5L309.0,196.2L309.8,196.1L309.2,195.4Z" fill="#00008f"/>
<path d="M308.4,195.5L308.3,196.2L309.0,196.2L308.8,195.5Z" fill="#00008f"/>
<path d="M329.2,195.1L331.5,194.7L332.0,194.4L329.7,194.6Z" fill="#00008f"/>
<path d="M302.1,195.5L300.0,195.8L300.7,196.2L302.7,195.9Z" fill="#00008f"/>
<path d="M314.7,195.8L316.7,196.1L317.3,195.8L315.1,195.5Z" fill="#00008f"/>
<path d="M285.3,194.9L283.0,194.8L283.7,196.5L285.9,196.3Z" fill="#00008f"/>
<path d="M297.3,195.5L295.0,195.7L295.7,196.4L297.9,196.1Z" fill="#00008f"/>
<path d="M319.5,195.9L321.7,196.0L322.3,195.5L320.0,195.5Z" fill="#00008f"/>
<path d="M331.5,194.7L333.8,194.1L334.4,194.0L332.0,194.4Z" fill="#00008f"/>
<path d="M305.1,195.7L303.3,196.1L304.1,196.4L305.6,195.8Z" fill="#00008f"/>
<path d="M311.7,195.8L313.3,196.3L314.0,196.1L312.2,195.7Z" fill="#00008f"/>
<path d="M283.0,194.8L280.7,194.6L281.4,196.6L283.7,196.5Z" fill="#00008f"/>
<path d="M333.8,194.1L336.1,193.3L336.7,193.6L334.4,194.0Z" fill="#00009f"/>
<path d="M280.7,194.6L278.4,194.4L279.2,196.8L281.4,196.6Z" fill="#00008f"/>
<path d="M295.0,195.7L292.7,195.9L293.6,196.6L295.7,196.4Z" fill="#00008f"/>
<path d="M305.6,195.8L304.1,196.4L305.0,196.6L306.2,196.0Z" fill="#00008f"/>
<path d="M311.1,196.0L312.4,196.5L313.3,196.3L311.7,195.8Z" fill="#00008f"/>
<path d="M300.0,195.8L297.9,196.1L298.7,196.6L300.7,196.2Z" fill="#00008f"/>
<path d="M321.7,196.0L323.9,196.0L324.6,195.5L322.3,195.5Z" fill="#00008f"/>
<path d="M302.7,195.9L300.7,196.2L301.6,196.6L303.3,196.1Z" fill="#00008f"/>
<path d="M316.7,196.1L318.7,196.3L319.5,195.9L317.3,195.8Z" fill="#00008f"/>
<path d="M314.0,196.1L315.8,196.5L316.7,196.1L314.7,195.8Z" fill="#00008f"/>
<path d="M278.4,194.4L276.0,194.1L276.9,196.9L279.2,196.8Z" fill="#00008f"/>
<path d="M336.1,193.3L338.4,192.3L339.1,192.9L336.7,193.6Z" fill="#00009f"/>
<path d="M306.2,196.0L305.0,196.6L306.0,196.7L306.9,196.1Z" fill="#00008f"/>
<path d="M310.5,196.1L311.4,196.7L312.4,196.5L311.1,196.0Z" fill="#00008f"/>
<path d="M276.0,194.1L273.7,193.6L274.7,197.0L276.9,196.9Z" fill="#00008f"/>
<path d="M292.7,195.9L290.5,196.0L291.4,196.9L293.6,196.6Z" fill="#00008f"/>
<path d="M338.4,192.3L340.7,190.9L341.4,192.2L339.1,192.9Z" fill="#0000af"/>
<path d="M323.9,196.0L326.1,195.8L326.9,195.4L324.6,195.5Z" fill="#00008f"/>
<path d="M306.9,196.1L306.0,196.7L307.1,196.8L307.6,196.1Z" fill="#00008f"/>
<path d="M309.8,196.1L310.3,196.8L311.4,196.7L310.5,196.1Z" fill="#00008f"/>
<path d="M273.7,193.6L271.4,193.1L272.4,197.1L274.7,197.0Z" fill="#00008f"/>
<path d="M307.6,196.1L307.1,196.8L308.2,196.8L308.3,196.2Z" fill="#00008f"/>
<path d="M303.3,196.1L301.6,196.6L302.6,196.9L304.1,196.4Z" fill="#00008f"/>
<path d="M309.0,196.2L309.3,196.8L310.3,196.8L309.8,196.1Z" fill="#00008f"/>
<path d="M313.3,196.3L314.8,196.7L315.8,196.5L314.0,196.1Z" fill="#00008f"/>
<path d="M297.9,196.1L295.7,196.4L296.7,197.0L298.7,196.6Z" fill="#00008f"/>
<path d="M308.3,196.2L308.2,196.8L309.3,196.8L309.0,196.2Z" fill="#00008f"/>
<path d="M318.7,196.3L320.7,196.4L321.7,196.0L319.5,195.9Z" fill="#00008f"/>
<path d="M340.7,190.9L343.1,189.3L343.8,191.2L341.4,192.2Z" fill="#0000af"/>
<path d="M290.5,196.0L288.2,196.2L289.3,197.2L291.4,196.9Z" fill="#00008f"/>
<path d="M271.4,193.1L269.1,192.5L270.1,197.2L272.4,197.1Z" fill="#00009f"/>
<path d="M300.7,196.2L298.7,196.6L299.8,197.0L301.6,196.6Z" fill="#00008f"/>
<path d="M315.8,196.5L317.6,196.7L318.7,196.3L316.7,196.1Z" fill="#00008f"/>
<path d="M326.1,195.8L328.3,195.4L329.2,195.1L326.9,195.4Z" fill="#00008f"/>
<path d="M269.1,192.5L266.8,191.7L267.9,197.3L270.1,197.2Z" fill="#00009f"/>
<path d="M343.1,189.3L345.4,187.3L346.2,190.0L343.8,191.2Z" fill="#0000bf"/>
<path d="M304.1,196.4L302.6,196.9L303.8,197.1L305.0,196.6Z" fill="#00008f"/>
<path d="M312.4,196.5L313.6,197.0L314.8,196.7L313.3,196.3Z" fill="#00008f"/>
<path d="M288.2,196.2L285.9,196.3L287.1,197.4L289.3,197.2Z" fill="#00008f"/>
<path d="M295.7,196.4L293.6,196.6L294.8,197.3L296.7,197.0Z" fill="#00008f"/>
<path d="M266.8,191.7L264.5,190.8L265.6,197.3L267.9,197.3Z" fill="#00009f"/>
<path d="M320.7,196.4L322.7,196.4L323.9,196.0L321.7,196.0Z" fill="#00008f"/>
<path d="M328.3,195.4L330.5,194.8L331.5,194.7L329.2,195.1Z" fill="#00008f"/>
<path d="M345.4,187.3L347.7,184.9L348.5,188.6L346.2,190.0Z" fill="#0000cf"/>
<path d="M305.0,196.6L303.8,197.1L305.1,197.3L306.0,196.7Z" fill="#00008f"/>
<path d="M311.4,196.7L312.3,197.2L313.6,197.0L312.4,196.5Z" fill="#00008f"/>
<path d="M264.5,190.8L262.2,189.7L263.4,197.4L265.6,197.3Z" fill="#0000af"/>
<path d="M301.6,196.6L299.8,197.0L301.1,197.4L302.6,196.9Z" fill="#00008f"/>
<path d="M314.8,196.7L316.4,197.0L317.6,196.7L315.8,196.5Z" fill="#00008f"/>
<path d="M285.9,196.3L283.7,196.5L285.0,197.7L287.1,197.4Z" fill="#00008f"/>
<path d="M298.7,196.6L296.7,197.0L298.1,197.4L299.8,197.0Z" fill="#00008f"/>
<path d="M317.6,196.7L319.5,196.8L320.7,196.4L318.7,196.3Z" fill="#00008f"/>
<path d="M347.7,184.9L350.0,182.0L350.9,186.9L348.5,188.6Z" fill="#0000df"/>
<path d="M306.0,196.7L305.1,197.3L306.6,197.4L307.1,196.8Z" fill="#00008f"/>
<path d="M310.3,196.8L310.9,197.3L312.3,197.2L311.4,196.7Z" fill="#00008f"/>
<path d="M293.6,196.6L291.4,196.9L292.8,197.6L294.8,197.3Z" fill="#00008f"/>
<path d="M330.5,194.8L332.6,193.9L333.8,194.1L331.5,194.7Z" fill="#00009f"/>
<path d="M307.1,196.8L306.6,197.4L308.0,197.4L308.2,196.8Z" fill="#00008f"/>
<path d="M309.3,196.8L309.5,197.4L310.9,197.3L310.3,196.8Z" fill="#00008f"/>
<path d="M322.7,196.4L324.8,196.1L326.1,195.8L323.9,196.0Z" fill="#00008f"/>
<path d="M308.2,196.8L308.0,197.4L309.5,197.4L309.3,196.8Z" fill="#00008f"/>
<path d="M283.7,196.5L281.4,196.6L282.8,198.0L285.0,197.7Z" fill="#00008f"/>
<path d="M350.0,182.0L352.3,178.7L353.3,185.0L350.9,186.9Z" fill="#0000ff"/>
<path d="M302.6,196.9L301.1,197.4L302.6,197.6L303.8,197.1Z" fill="#00008f"/>
<path d="M313.6,197.0L314.9,197.3L316.4,197.0L314.8,196.7Z" fill="#00008f"/>
<path d="M332.6,193.9L334.8,192.8L336.1,193.3L333.8,194.1Z" fill="#00009f"/>
<path d="M296.7,197.0L294.8,197.3L296.3,197.8L298.1,197.4Z" fill="#00008f"/>
<path d="M281.4,196.6L279.2,196.8L280.7,198.2L282.8,198.0Z" fill="#00008f"/>
<path d="M291.4,196.9L289.3,197.2L290.8,197.9L292.8,197.6Z" fill="#00008f"/>
<path d="M319.5,196.8L321.3,196.7L322.7,196.4L320.7,196.4Z" fill="#00008f"/>
<path d="M299.8,197.0L298.1,197.4L299.6,197.8L301.1,197.4Z" fill="#00008f"/>
<path d="M352.3,178.7L354.6,174.8L355.6,182.7L353.3,185.0Z" fill="#0020ff"/>
<path d="M316.4,197.0L317.9,197.2L319.5,196.8L317.6,196.7Z" fill="#00008f"/>
<path d="M324.8,196.1L326.8,195.6L328.3,195.4L326.1,195.8Z" fill="#00008f"/>
<path d="M303.8,197.1L302.6,197.6L304.3,197.8L305.1,197.3Z" fill="#00008f"/>
<path d="M312.3,197.2L313.3,197.5L314.9,197.3L313.6,197.0Z" fill="#00008f"/>
<path d="M334.8,192.8L337.0,191.2L338.4,192.3L336.1,193.3Z" fill="#0000af"/>
<path d="M279.2,196.8L276.9,196.9L278.6,198.4L280.7,198.2Z" fill="#00008f"/>
<path d="M305.1,197.3L304.3,197.8L306.0,197.9L306.6,197.4Z" fill="#00008f"/>
<path d="M289.3,197.2L287.1,197.4L288.8,198.2L290.8,197.9Z" fill="#00008f"/>
<path d="M310.9,197.3L311.5,197.7L313.3,197.5L312.3,197.2Z" fill="#00008f"/>
<path d="M294.8,197.3L292.8,197.6L294.5,198.1L296.3,197.8Z" fill="#00008f"/>
<path d="M301.1,197.4L299.6,197.8L301.4,198.0L302.6,197.6Z" fill="#00008f"/>
<path d="M306.6,197.4L306.0,197.9L307.9,197.9L308.0,197.4Z" fill="#00008f"/>
<path d="M276.9,196.9L274.7,197.0L276.4,198.7L278.6,198.4Z" fill="#00008f"/>
<path d="M326.8,195.6L328.8,194.8L330.5,194.8L328.3,195.4Z" fill="#00009f"/>
<path d="M309.5,197.4L309.7,197.8L311.5,197.7L310.9,197.3Z" fill="#00008f"/>
<path d="M314.9,197.3L316.2,197.4L317.9,197.2L316.4,197.0Z" fill="#00008f"/>
<path d="M321.3,196.7L323.1,196.4L324.8,196.1L322.7,196.4Z" fill="#00008f"/>
<path d="M308.0,197.4L307.9,197.9L309.7,197.8L309.5,197.4Z" fill="#00008f"/>
<path d="M337.0,191.2L339.2,189.3L340.7,190.9L338.4,192.3Z" fill="#0000bf"/>
<path d="M298.1,197.4L296.3,197.8L298.1,198.1L299.6,197.8Z" fill="#00008f"/>
<path d="M317.9,197.2L319.5,197.0L321.3,196.7L319.5,196.8Z" fill="#00008f"/>
<path d="M287.1,197.4L285.0,197.7L286.9,198.4L288.8,198.2Z" fill="#00008f"/>
<path d="M274.7,197.0L272.4,197.1L274.3,198.9L276.4,198.7Z" fill="#00008f"/>
<path d="M302.6,197.6L301.4,198.0L303.4,198.2L304.3,197.8Z" fill="#00008f"/>
<path d="M339.2,189.3L341.4,186.9L343.1,189.3L340.7,190.9Z" fill="#0000cf"/>
<path d="M313.3,197.5L314.2,197.7L316.2,197.4L314.9,197.3Z" fill="#00008f"/>
<path d="M328.8,194.8L330.9,193.6L332.6,193.9L330.5,194.8Z" fill="#00009f"/>
<path d="M292.8,197.6L290.8,197.9L292.8,198.3L294.5,198.1Z" fill="#00008f"/>
<path d="M272.4,197.1L270.1,197.2L272.1,199.1L274.3,198.9Z" fill="#00008f"/>
<path d="M323.1,196.4L324.9,195.8L326.8,195.6L324.8,196.1Z" fill="#00009f"/>
<path d="M285.0,197.7L282.8,198.0L284.9,198.6L286.9,198.4Z" fill="#00008f"/>
<path d="M304.3,197.8L303.4,198.2L305.5,198.2L306.0,197.9Z" fill="#00008f"/>
<path d="M299.6,197.8L298.1,198.1L300.3,198.3L301.4,198.0Z" fill="#00008f"/>
<path d="M311.5,197.7L312.1,197.9L314.2,197.7L313.3,197.5Z" fill="#00008f"/>
<path d="M296.3,197.8L294.5,198.1L296.7,198.4L298.1,198.1Z" fill="#00008f"/>
<path d="M316.2,197.4L317.4,197.3L319.5,197.0L317.9,197.2Z" fill="#00008f"/>
<path d="M341.4,186.9L343.7,184.0L345.4,187.3L343.1,189.3Z" fill="#0000df"/>
<path d="M270.1,197.2L267.9,197.3L270.0,199.3L272.1,199.1Z" fill="#00008f"/>
<path d="M319.5,197.0L321.0,196.6L323.1,196.4L321.3,196.7Z" fill="#00008f"/>
<path d="M306.0,197.9L305.5,198.2L307.7,198.2L307.9,197.9Z" fill="#00008f"/>
<path d="M309.7,197.8L309.9,198.1L312.1,197.9L311.5,197.7Z" fill="#00008f"/>
<path d="M330.9,193.6L332.9,192.1L334.8,192.8L332.6,193.9Z" fill="#0000af"/>
<path d="M307.9,197.9L307.7,198.2L309.9,198.1L309.7,197.8Z" fill="#00008f"/>
<path d="M290.8,197.9L288.8,198.2L291.0,198.5L292.8,198.3Z" fill="#00008f"/>
<path d="M282.8,198.0L280.7,198.2L282.9,198.7L284.9,198.6Z" fill="#00008f"/>
<path d="M267.9,197.3L265.6,197.3L267.9,199.5L270.0,199.3Z" fill="#00008f"/>
<path d="M324.9,195.8L326.7,194.8L328.8,194.8L326.8,195.6Z" fill="#00009f"/>
<path d="M301.4,198.0L300.3,198.3L302.6,198.4L303.4,198.2Z" fill="#00008f"/>
<path d="M343.7,184.0L345.9,180.5L347.7,184.9L345.4,187.3Z" fill="#0000ff"/>
<path d="M314.2,197.7L315.1,197.6L317.4,197.3L316.2,197.4Z" fill="#00008f"/>
<path d="M265.6,197.3L263.4,197.4L265.7,199.6L267.9,199.5Z" fill="#00008f"/>
<path d="M294.5,198.1L292.8,198.3L295.2,198.5L296.7,198.4Z" fill="#00008f"/>
<path d="M332.9,192.1L334.9,190.1L337.0,191.2L334.8,192.8Z" fill="#0000bf"/>
<path d="M298.1,198.1L296.7,198.4L299.1,198.5L300.3,198.3Z" fill="#00008f"/>
<path d="M280.7,198.2L278.6,198.4L280.9,198.7L282.9,198.7Z" fill="#00008f"/>
<path d="M321.0,196.6L322.6,195.9L324.9,195.8L323.1,196.4Z" fill="#00009f"/>
<path d="M317.4,197.3L318.7,196.9L321.0,196.6L319.5,197.0Z" fill="#00008f"/>
<path d="M288.8,198.2L286.9,198.4L289.3,198.6L291.0,198.5Z" fill="#00008f"/>
<path d="M303.4,198.2L302.6,198.4L305.0,198.4L305.5,198.2Z" fill="#00008f"/>
<path d="M312.1,197.9L312.7,197.8L315.1,197.6L314.2,197.7Z" fill="#00008f"/>
<path d="M345.9,180.5L348.1,176.4L350.0,182.0L347.7,184.9Z" fill="#0010ff"/>
<path d="M326.7,194.8L328.5,193.3L330.9,193.6L328.8,194.8Z" fill="#0000af"/>
<path d="M305.5,198.2L305.0,198.4L307.6,198.2L307.7,198.2Z" fill="#00008f"/>
<path d="M309.9,198.1L310.2,198.1L312.7,197.8L312.1,197.9Z" fill="#00008f"/>
<path d="M307.7,198.2L307.6,198.2L310.2,198.1L309.9,198.1Z" fill="#00008f"/>
<path d="M278.6,198.4L276.4,198.7L279.0,198.7L280.9,198.7Z" fill="#00008f"/>
<path d="M334.9,190.1L337.0,187.5L339.2,189.3L337.0,191.2Z" fill="#0000cf"/>
<path d="M300.3,198.3L299.1,198.5L301.7,198.4L302.6,198.4Z" fill="#00008f"/>
<path d="M292.8,198.3L291.0,198.5L293.7,198.5L295.2,198.5Z" fill="#00008f"/>
<path d="M286.9,198.4L284.9,198.6L287.5,198.5L289.3,198.6Z" fill="#00008f"/>
<path d="M348.1,176.4L350.3,171.6L352.3,178.7L350.0,182.0Z" fill="#0030ff"/>
<path d="M315.1,197.6L316.1,197.2L318.7,196.9L317.4,197.3Z" fill="#00008f"/>
<path d="M296.7,198.4L295.2,198.5L297.9,198.4L299.1,198.5Z" fill="#00008f"/>
<path d="M322.6,195.9L324.2,194.8L326.7,194.8L324.9,195.8Z" fill="#00009f"/>
<path d="M318.7,196.9L319.9,196.1L322.6,195.9L321.0,196.6Z" fill="#00009f"/>
<path d="M276.4,198.7L274.3,198.9L277.0,198.6L279.0,198.7Z" fill="#00008f"/>
<path d="M328.5,193.3L330.4,191.5L332.9,192.1L330.9,193.6Z" fill="#0000bf"/>
<path d="M302.6,198.4L301.7,198.4L304.5,198.3L305.0,198.4Z" fill="#00008f"/>
<path d="M337.0,187.5L339.0,184.4L341.4,186.9L339.2,189.3Z" fill="#0000df"/>
<path d="M312.7,197.8L313.3,197.4L316.1,197.2L315.1,197.6Z" fill="#00008f"/>
<path d="M350.3,171.6L352.5,166.1L354.6,174.8L352.3,178.7Z" fill="#0060ff"/>
<path d="M284.9,198.6L282.9,198.7L285.8,198.3L287.5,198.5Z" fill="#00008f"/>
<path d="M291.0,198.5L289.3,198.6L292.2,198.3L293.7,198.5Z" fill="#00008f"/>
<path d="M305.0,198.4L304.5,198.3L307.4,198.0L307.6,198.2Z" fill="#00008f"/>
<path d="M310.2,198.1L310.4,197.7L313.3,197.4L312.7,197.8Z" fill="#00008f"/>
<path d="M274.3,198.9L272.1,199.1L275.0,198.4L277.0,198.6Z" fill="#00008f"/>
<path d="M307.6,198.2L307.4,198.0L310.4,197.7L310.2,198.1Z" fill="#00008f"/>
<path d="M299.1,198.5L297.9,198.4L300.8,198.2L301.7,198.4Z" fill="#00008f"/>
<path d="M324.2,194.8L325.7,193.1L328.5,193.3L326.7,194.8Z" fill="#0000af"/>
<path d="M316.1,197.2L317.0,196.3L319.9,196.1L318.7,196.9Z" fill="#00009f"/>
<path d="M295.2,198.5L293.7,198.5L296.7,198.2L297.9,198.4Z" fill="#00008f"/>
<path d="M330.4,191.5L332.2,189.0L334.9,190.1L332.9,192.1Z" fill="#0000cf"/>
<path d="M339.0,184.4L341.1,180.6L343.7,184.0L341.4,186.9Z" fill="#0000ff"/>
<path d="M319.9,196.1L321.2,194.9L324.2,194.8L322.6,195.9Z" fill="#0000af"/>
<path d="M272.1,199.1L270.0,199.3L273.1,198.1L275.0,198.4Z" fill="#00008f"/>
<path d="M282.9,198.7L280.9,198.7L284.0,197.9L285.8,198.3Z" fill="#00008f"/>
<path d="M301.7,198.4L300.8,198.2L304.0,197.8L304.5,198.3Z" fill="#00008f"/>
<path d="M289.3,198.6L287.5,198.5L290.7,197.9L292.2,198.3Z" fill="#00008f"/>
<path d="M313.3,197.4L313.9,196.7L317.0,196.3L316.1,197.2Z" fill="#00009f"/>
<path d="M270.0,199.3L267.9,199.5L271.1,197.7L273.1,198.1Z" fill="#00008f"/>
<path d="M341.1,180.6L343.1,176.1L345.9,180.5L343.7,184.0Z" fill="#0020ff"/>
<path d="M304.5,198.3L304.0,197.8L307.3,197.4L307.4,198.0Z" fill="#00009f"/>
<path d="M332.2,189.0L334.0,185.9L337.0,187.5L334.9,190.1Z" fill="#0000df"/>
<path d="M325.7,193.1L327.3,191.0L330.4,191.5L328.5,193.3Z" fill="#0000bf"/>
<path d="M310.4,197.7L310.6,197.0L313.9,196.7L313.3,197.4Z" fill="#00009f"/>
<path d="M297.9,198.4L296.7,198.2L300.0,197.7L300.8,198.2Z" fill="#00008f"/>
<path d="M293.7,198.5L292.2,198.3L295.5,197.7L296.7,198.2Z" fill="#00008f"/>
<path d="M280.9,198.7L279.0,198.7L282.3,197.4L284.0,197.9Z" fill="#00008f"/>
<path d="M307.4,198.0L307.3,197.4L310.6,197.0L310.4,197.7Z" fill="#00009f"/>
<path d="M317.0,196.3L318.0,195.1L321.2,194.9L319.9,196.1Z" fill="#0000af"/>
<path d="M321.2,194.9L322.5,193.1L325.7,193.1L324.2,194.8Z" fill="#0000af"/>
<path d="M267.9,199.5L265.7,199.6L269.1,197.1L271.1,197.7Z" fill="#00008f"/>
<path d="M287.5,198.5L285.8,198.3L289.2,197.2L290.7,197.9Z" fill="#00008f"/>
<path d="M343.1,176.1L345.2,170.8L348.1,176.4L345.9,180.5Z" fill="#0040ff"/>
<path d="M300.8,198.2L300.0,197.7L303.5,197.1L304.0,197.8Z" fill="#00009f"/>
<path d="M279.0,198.7L277.0,198.6L280.5,196.6L282.3,197.4Z" fill="#00008f"/>
<path d="M313.9,196.7L314.5,195.4L318.0,195.1L317.0,196.3Z" fill="#0000af"/>
<path d="M334.0,185.9L335.9,182.2L339.0,184.4L337.0,187.5Z" fill="#0000ff"/>
<path d="M327.3,191.0L328.9,188.2L332.2,189.0L330.4,191.5Z" fill="#0000cf"/>
<path d="M292.2,198.3L290.7,197.9L294.3,196.8L295.5,197.7Z" fill="#00009f"/>
<path d="M296.7,198.2L295.5,197.7L299.1,196.8L300.0,197.7Z" fill="#00009f"/>
<path d="M304.0,197.8L303.5,197.1L307.1,196.5L307.3,197.4Z" fill="#00009f"/>
<path d="M310.6,197.0L310.8,195.9L314.5,195.4L313.9,196.7Z" fill="#0000af"/>
<path d="M318.0,195.1L318.9,193.3L322.5,193.1L321.2,194.9Z" fill="#0000bf"/>
<path d="M285.8,198.3L284.0,197.9L287.7,196.3L289.2,197.2Z" fill="#00009f"/>
<path d="M307.3,197.4L307.1,196.5L310.8,195.9L310.6,197.0Z" fill="#00009f"/>
<path d="M322.5,193.1L323.7,190.7L327.3,191.0L325.7,193.1Z" fill="#0000cf"/>
<path d="M345.2,170.8L347.2,164.7L350.3,171.6L348.1,176.4Z" fill="#0070ff"/>
<path d="M277.0,198.6L275.0,198.4L278.7,195.6L280.5,196.6Z" fill="#00009f"/>
<path d="M335.9,182.2L337.7,177.6L341.1,180.6L339.0,184.4Z" fill="#0020ff"/>
<path d="M300.0,197.7L299.1,196.8L303.0,195.9L303.5,197.1Z" fill="#00009f"/>
<path d="M328.9,188.2L330.4,184.7L334.0,185.9L332.2,189.0Z" fill="#0000ef"/>
<path d="M290.7,197.9L289.2,197.2L293.1,195.6L294.3,196.8Z" fill="#00009f"/>
<path d="M314.5,195.4L315.1,193.6L318.9,193.3L318.0,195.1Z" fill="#0000bf"/>
<path d="M284.0,197.9L282.3,197.4L286.2,195.0L287.7,196.3Z" fill="#00009f"/>
<path d="M295.5,197.7L294.3,196.8L298.3,195.6L299.1,196.8Z" fill="#00009f"/>
<path d="M275.0,198.4L273.1,198.1L277.0,194.4L278.7,195.6Z" fill="#00009f"/>
<path d="M347.2,164.7L349.3,157.6L352.5,166.1L350.3,171.6Z" fill="#009fff"/>
<path d="M303.5,197.1L303.0,195.9L307.0,195.0L307.1,196.5Z" fill="#0000af"/>
<path d="M310.8,195.9L311.1,194.2L315.1,193.6L314.5,195.4Z" fill="#0000af"/>
<path d="M323.7,190.7L325.0,187.7L328.9,188.2L327.3,191.0Z" fill="#0000df"/>
<path d="M318.9,193.3L319.8,190.8L323.7,190.7L322.5,193.1Z" fill="#0000cf"/>
<path d="M307.1,196.5L307.0,195.0L311.1,194.2L310.8,195.9Z" fill="#0000af"/>
<path d="M337.7,177.6L339.5,172.2L343.1,176.1L341.1,180.6Z" fill="#0040ff"/>
<path d="M273.1,198.1L271.1,197.7L275.2,192.8L277.0,194.4Z" fill="#00009f"/>
<path d="M330.4,184.7L332.0,180.4L335.9,182.2L334.0,185.9Z" fill="#0010ff"/>
<path d="M289.2,197.2L287.7,196.3L291.9,194.0L293.1,195.6Z" fill="#0000af"/>
<path d="M299.1,196.8L298.3,195.6L302.5,194.2L303.0,195.9Z" fill="#0000af"/>
<path d="M282.3,197.4L280.5,196.6L284.7,193.4L286.2,195.0Z" fill="#0000af"/>
<path d="M315.1,193.6L315.6,191.3L319.8,190.8L318.9,193.3Z" fill="#0000cf"/>
<path d="M294.3,196.8L293.1,195.6L297.4,193.8L298.3,195.6Z" fill="#0000af"/>
<path d="M325.0,187.7L326.3,184.0L330.4,184.7L328.9,188.2Z" fill="#0000ff"/>
<path d="M303.0,195.9L302.5,194.2L306.9,193.0L307.0,195.0Z" fill="#0000bf"/>
<path d="M339.5,172.2L341.4,165.9L345.2,170.8L343.1,176.1Z" fill="#0070ff"/>
<path d="M319.8,190.8L320.8,187.7L325.0,187.7L323.7,190.7Z" fill="#0000df"/>
<path d="M271.1,197.7L269.1,197.1L273.5,191.0L275.2,192.8Z" fill="#00009f"/>
<path d="M311.1,194.2L311.3,192.0L315.6,191.3L315.1,193.6Z" fill="#0000cf"/>
<path d="M307.0,195.0L306.9,193.0L311.3,192.0L311.1,194.2Z" fill="#0000bf"/>
<path d="M280.5,196.6L278.7,195.6L283.2,191.4L284.7,193.4Z" fill="#0000af"/>
<path d="M332.0,180.4L333.6,175.3L337.7,177.6L335.9,182.2Z" fill="#0030ff"/>
<path d="M287.7,196.3L286.2,195.0L290.7,192.0L291.9,194.0Z" fill="#0000af"/>
<path d="M298.3,195.6L297.4,193.8L302.0,192.0L302.5,194.2Z" fill="#0000bf"/>
<path d="M293.1,195.6L291.9,194.0L296.5,191.6L297.4,193.8Z" fill="#0000bf"/>
<path d="M315.6,191.3L316.2,188.2L320.8,187.7L319.8,190.8Z" fill="#0000df"/>
<path d="M341.4,165.9L343.2,158.6L347.2,164.7L345.2,170.8Z" fill="#009fff"/>
<path d="M326.3,184.0L327.6,179.4L332.0,180.4L330.4,184.7Z" fill="#0020ff"/>
<path d="M278.7,195.6L277.0,194.4L281.7,188.9L283.2,191.4Z" fill="#0000bf"/>
<path d="M302.5,194.2L302.0,192.0L306.7,190.4L306.9,193.0Z" fill="#0000cf"/>
<path d="M320.8,187.7L321.7,183.8L326.3,184.0L325.0,187.7Z" fill="#0000ff"/>
<path d="M311.3,192.0L311.5,189.1L316.2,188.2L315.6,191.3Z" fill="#0000df"/>
<path d="M286.2,195.0L284.7,193.4L289.5,189.4L290.7,192.0Z" fill="#0000bf"/>
<path d="M306.9,193.0L306.7,190.4L311.5,189.1L311.3,192.0Z" fill="#0000cf"/>
<path d="M333.6,175.3L335.2,169.2L339.5,172.2L337.7,177.6Z" fill="#0060ff"/>
<path d="M297.4,193.8L296.5,191.6L301.5,189.2L302.0,192.0Z" fill="#0000cf"/>
<path d="M291.9,194.0L290.7,192.0L295.7,188.8L296.5,191.6Z" fill="#0000cf"/>
<path d="M343.2,158.6L345.1,150.2L349.3,157.6L347.2,164.7Z" fill="#00dfff"/>
<path d="M277.0,194.4L275.2,192.8L280.2,186.0L281.7,188.9Z" fill="#0000cf"/>
<path d="M316.2,188.2L316.8,184.3L321.7,183.8L320.8,187.7Z" fill="#0000ff"/>
<path d="M327.6,179.4L328.8,173.8L333.6,175.3L332.0,180.4Z" fill="#0040ff"/>
<path d="M284.7,193.4L283.2,191.4L288.3,186.3L289.5,189.4Z" fill="#0000cf"/>
<path d="M321.7,183.8L322.7,179.1L327.6,179.4L326.3,184.0Z" fill="#0020ff"/>
<path d="M302.0,192.0L301.5,189.2L306.6,187.1L306.7,190.4Z" fill="#0000df"/>
<path d="M335.2,169.2L336.7,162.1L341.4,165.9L339.5,172.2Z" fill="#008fff"/>
<path d="M311.5,189.1L311.7,185.4L316.8,184.3L316.2,188.2Z" fill="#0000ff"/>
<path d="M306.7,190.4L306.6,187.1L311.7,185.4L311.5,189.1Z" fill="#0000ef"/>
<path d="M296.5,191.6L295.7,188.8L300.9,185.7L301.5,189.2Z" fill="#0000df"/>
<path d="M290.7,192.0L289.5,189.4L294.8,185.3L295.7,188.8Z" fill="#0000df"/>
<path d="M275.2,192.8L273.5,191.0L278.7,182.5L280.2,186.0Z" fill="#0000df"/>
<path d="M316.8,184.3L317.4,179.6L322.7,179.1L321.7,183.8Z" fill="#0020ff"/>
<path d="M328.8,173.8L330.1,167.3L335.2,169.2L333.6,175.3Z" fill="#0070ff"/>
<path d="M283.2,191.4L281.7,188.9L287.1,182.6L288.3,186.3Z" fill="#0000df"/>
<path d="M322.7,179.1L323.6,173.4L328.8,173.8L327.6,179.4Z" fill="#0050ff"/>
<path d="M301.5,189.2L300.9,185.7L306.4,183.0L306.6,187.1Z" fill="#0000ff"/>
<path d="M336.7,162.1L338.3,153.9L343.2,158.6L341.4,165.9Z" fill="#00bfff"/>
<path d="M311.7,185.4L312.0,180.9L317.4,179.6L316.8,184.3Z" fill="#0020ff"/>
<path d="M306.6,187.1L306.4,183.0L312.0,180.9L311.7,185.4Z" fill="#0010ff"/>
<path d="M289.5,189.4L288.3,186.3L293.9,181.1L294.8,185.3Z" fill="#0000ff"/>
<path d="M295.7,188.8L294.8,185.3L300.4,181.4L300.9,185.7Z" fill="#0000ff"/>
<path d="M281.7,188.9L280.2,186.0L285.9,178.1L287.1,182.6Z" fill="#0000ff"/>
<path d="M330.1,167.3L331.4,159.7L336.7,162.1L335.2,169.2Z" fill="#009fff"/>
<path d="M317.4,179.6L318.0,174.0L323.6,173.4L322.7,179.1Z" fill="#0050ff"/>
<path d="M338.3,153.9L339.9,144.4L345.1,150.2L343.2,158.6Z" fill="#00ffff"/>
<path d="M323.6,173.4L324.6,166.6L330.1,167.3L328.8,173.8Z" fill="#0080ff"/>
<path d="M300.9,185.7L300.4,181.4L306.3,178.1L306.4,183.0Z" fill="#0020ff"/>
<path d="M312.0,180.9L312.2,175.5L318.0,174.0L317.4,179.6Z" fill="#0040ff"/>
<path d="M288.3,186.3L287.1,182.6L293.1,176.1L293.9,181.1Z" fill="#0010ff"/>
<path d="M306.4,183.0L306.3,178.1L312.2,175.5L312.0,180.9Z" fill="#0030ff"/>
<path d="M294.8,185.3L293.9,181.1L299.9,176.3L300.4,181.4Z" fill="#0020ff"/>
<path d="M280.2,186.0L278.7,182.5L284.7,173.0L285.9,178.1Z" fill="#0020ff"/>
<path d="M331.4,159.7L332.7,150.9L338.3,153.9L336.7,162.1Z" fill="#00dfff"/>
<path d="M318.0,174.0L318.6,167.3L324.6,166.6L323.6,173.4Z" fill="#0080ff"/>
<path d="M324.6,166.6L325.5,158.8L331.4,159.7L330.1,167.3Z" fill="#00afff"/>
<path d="M300.4,181.4L299.9,176.3L306.1,172.2L306.3,178.1Z" fill="#0040ff"/>
<path d="M287.1,182.6L285.9,178.1L292.2,170.3L293.1,176.1Z" fill="#0030ff"/>
<path d="M312.2,175.5L312.4,169.1L318.6,167.3L318.0,174.0Z" fill="#0070ff"/>
<path d="M306.3,178.1L306.1,172.2L312.4,169.1L312.2,175.5Z" fill="#0060ff"/>
<path d="M293.9,181.1L293.1,176.1L299.4,170.2L299.9,176.3Z" fill="#0040ff"/>
<path d="M332.7,150.9L334.0,140.8L339.9,144.4L338.3,153.9Z" fill="#20ffdf"/>
<path d="M318.6,167.3L319.2,159.4L325.5,158.8L324.6,166.6Z" fill="#00afff"/>
<path d="M325.5,158.8L326.5,149.7L332.7,150.9L331.4,159.7Z" fill="#00efff"/>
<path d="M299.9,176.3L299.4,170.2L306.0,165.3L306.1,172.2Z" fill="#0070ff"/>
<path d="M285.9,178.1L284.7,173.0L291.3,163.5L292.2,170.3Z" fill="#0060ff"/>
<path d="M312.4,169.1L312.6,161.6L319.2,159.4L318.6,167.3Z" fill="#009fff"/>
<path d="M293.1,176.1L292.2,170.3L298.9,163.1L299.4,170.2Z" fill="#0070ff"/>
<path d="M306.1,172.2L306.0,165.3L312.6,161.6L312.4,169.1Z" fill="#008fff"/>
<path d="M319.2,159.4L319.8,150.4L326.5,149.7L325.5,158.8Z" fill="#00efff"/>
<path d="M326.5,149.7L327.4,139.2L334.0,140.8L332.7,150.9Z" fill="#30ffcf"/>
<path d="M299.4,170.2L298.9,163.1L305.8,157.2L306.0,165.3Z" fill="#009fff"/>
<path d="M292.2,170.3L291.3,163.5L298.4,155.0L298.9,163.1Z" fill="#009fff"/>
<path d="M312.6,161.6L312.9,152.9L319.8,150.4L319.2,159.4Z" fill="#00dfff"/>
<path d="M306.0,165.3L305.8,157.2L312.9,152.9L312.6,161.6Z" fill="#00bfff"/>
<path d="M319.8,150.4L320.4,140.0L327.4,139.2L326.5,149.7Z" fill="#30ffcf"/>
<path d="M298.9,163.1L298.4,155.0L305.7,148.0L305.8,157.2Z" fill="#00dfff"/>
<path d="M312.9,152.9L313.1,142.9L320.4,140.0L319.8,150.4Z" fill="#20ffdf"/>
<path d="M305.8,157.2L305.7,148.0L313.1,142.9L312.9,152.9Z" fill="#00ffff"/>
</g>
<text x="239.7" y="203.0" font-size="8.7" text-anchor="end">0</text>
<text x="239.7" y="180.4" font-size="8.7" text-anchor="end">0.5</text>
<text x="239.6" y="157.9" font-size="8.7" text-anchor="end">1</text>
<text x="239.6" y="135.3" font-size="8.7" text-anchor="end">1.5</text>
<text x="239.6" y="112.6" font-size="8.7" text-anchor="end">2</text>
<text x="239.6" y="90.0" font-size="8.7" text-anchor="end">2.5</text>
<text x="239.5" y="67.3" font-size="8.7" text-anchor="end">3</text>
<text x="239.5" y="44.6" font-size="8.7" text-anchor="end">3.5</text>
<text x="216.8" y="122.7" font-size="8.7" text-anchor="middle" transform="rotate(-90 216.8 122.7)">z</text>
<text x="233.7" y="212.8" font-size="8.7" text-anchor="middle">0.1</text>
<text x="280.1" y="219.4" font-size="8.7" text-anchor="middle">0</text>
<text x="316.3" y="225.4" font-size="8.7" text-anchor="middle">-0.1</text>
<text x="345.3" y="222.6" font-size="8.7" text-anchor="middle">-0.1</text>
<text x="360.3" y="210.6" font-size="8.7" text-anchor="middle">0</text>
<text x="384.8" y="197.2" font-size="8.7" text-anchor="middle">0.1</text>
<text x="284.6" y="230.7" font-size="8.7" text-anchor="middle">y</text>
<text x="364.2" y="227.6" font-size="8.7" text-anchor="middle">x</text>
<text x="308.8" y="8.2" font-size="8.7" text-anchor="middle">(b)</text>
<text x="254.7" y="16.2" font-size="8.7" text-anchor="middle">x 10</text>
<text x="267.0" y="7.2" font-size="6.5" text-anchor="middle">-4</text>
<path d="M413.9,200.9L449.0,176.3M449.0,176.3L525.1,188.4M413.9,169.2L449.0,144.5M449.0,144.5L525.1,156.5M413.8,137.5L449.0,112.7M449.0,112.7L525.0,124.5M413.8,105.8L449.0,81.0M449.0,81.0L525.0,92.6M413.8,74.1L448.9,49.2M448.9,49.2L524.9,60.7M413.8,42.4L448.9,17.5M448.9,17.5L524.9,28.8M431.4,188.6L431.3,30.0M507.3,200.9L431.4,188.6M449.0,176.3L448.9,17.5M525.1,188.4L524.9,28.8M487.0,182.3L486.8,23.2M451.6,207.1L487.0,182.3" stroke="#000" stroke-width="0.8" stroke-dasharray="1.1 3.2" fill="none" opacity="0.72"/>
<path d="M413.8,42.4L413.9,200.9L489.6,213.2L525.1,188.4M413.9,200.9l-3,0.4M413.9,169.2l-3,0.4M413.8,137.5l-3,0.4M413.8,105.8l-3,0.4M413.8,74.1l-3,0.4M413.8,42.4l-3,0.4M489.6,213.2l1.5,-1.0M451.6,207.1l1.5,-1.0M413.9,200.9l1.5,-1.0M489.6,213.2l-2.2,-0.4M507.3,200.9l-2.2,-0.4M525.1,188.4l-2.2,-0.4" stroke="#000" stroke-width="0.85" fill="none"/>
<path d="M458,201L468,193L480,187L492,184L500,186L508,192L511,197L500,200L480,202L462,203Z" fill="#2424a8" fill-opacity="0.75"/>
<g fill-opacity="0.3" stroke="#000" stroke-width="0.36" stroke-opacity="0.9" stroke-linejoin="round">
<path d="M483.2,166.0L483.9,154.8L477.6,133.7L477.2,152.8Z" fill="#0010ff"/>
<path d="M477.2,152.8L477.6,133.7L471.0,106.5L470.9,136.0Z" fill="#0070ff"/>
<path d="M476.8,164.8L477.2,152.8L470.9,136.0L470.9,154.4Z" fill="#0020ff"/>
<path d="M482.5,173.0L483.2,166.0L477.2,152.8L476.8,164.8Z" fill="#0000df"/>
<path d="M488.9,174.9L489.9,168.9L483.9,154.8L483.2,166.0Z" fill="#0000cf"/>
<path d="M470.9,154.4L470.9,136.0L464.7,118.9L465.0,143.9Z" fill="#0070ff"/>
<path d="M476.3,172.3L476.8,164.8L470.9,154.4L470.8,165.9Z" fill="#0000df"/>
<path d="M470.9,136.0L471.0,106.5L464.4,78.6L464.7,118.9Z" fill="#00ffff"/>
<path d="M470.8,165.9L470.9,154.4L465.0,143.9L465.2,159.5Z" fill="#0010ff"/>
<path d="M481.7,177.6L482.5,173.0L476.8,164.8L476.3,172.3Z" fill="#0000bf"/>
<path d="M487.8,178.8L488.9,174.9L483.2,166.0L482.5,173.0Z" fill="#0000af"/>
<path d="M475.9,177.2L476.3,172.3L470.8,165.9L470.7,173.2Z" fill="#0000bf"/>
<path d="M470.7,173.2L470.8,165.9L465.2,159.5L465.5,169.3Z" fill="#0000df"/>
<path d="M465.0,143.9L464.7,118.9L458.6,107.0L459.2,136.7Z" fill="#00bfff"/>
<path d="M465.2,159.5L465.0,143.9L459.2,136.7L459.7,155.2Z" fill="#0040ff"/>
<path d="M494.0,180.5L495.4,177.3L489.9,168.9L488.9,174.9Z" fill="#0000af"/>
<path d="M486.8,181.4L487.8,178.8L482.5,173.0L481.7,177.6Z" fill="#00009f"/>
<path d="M481.0,180.6L481.7,177.6L476.3,172.3L475.9,177.2Z" fill="#00009f"/>
<path d="M465.5,169.3L465.2,159.5L459.7,155.2L460.3,166.8Z" fill="#0000ff"/>
<path d="M464.7,118.9L464.4,78.6L458.0,59.0L458.6,107.0Z" fill="#80ff80"/>
<path d="M475.5,180.5L475.9,177.2L470.7,173.2L470.6,178.0Z" fill="#0000af"/>
<path d="M470.6,178.0L470.7,173.2L465.5,169.3L465.7,175.6Z" fill="#0000bf"/>
<path d="M492.7,182.6L494.0,180.5L488.9,174.9L487.8,178.8Z" fill="#00009f"/>
<path d="M459.7,155.2L459.2,136.7L453.6,135.8L454.5,154.8Z" fill="#0070ff"/>
<path d="M459.2,136.7L458.6,107.0L452.7,105.2L453.6,135.8Z" fill="#00ffff"/>
<path d="M485.8,183.2L486.8,181.4L481.7,177.6L481.0,180.6Z" fill="#00008f"/>
<path d="M465.7,175.6L465.5,169.3L460.3,166.8L460.9,174.1Z" fill="#0000cf"/>
<path d="M480.3,182.8L481.0,180.6L475.9,177.2L475.5,180.5Z" fill="#00009f"/>
<path d="M460.3,166.8L459.7,155.2L454.5,154.8L455.4,166.7Z" fill="#0010ff"/>
<path d="M491.4,184.1L492.7,182.6L487.8,178.8L486.8,181.4Z" fill="#00008f"/>
<path d="M470.5,181.1L470.6,178.0L465.7,175.6L465.9,179.7Z" fill="#00009f"/>
<path d="M475.1,182.8L475.5,180.5L470.6,178.0L470.5,181.1Z" fill="#00009f"/>
<path d="M460.9,174.1L460.3,166.8L455.4,166.7L456.3,174.3Z" fill="#0000df"/>
<path d="M498.6,184.1L500.2,182.4L495.4,177.3L494.0,180.5Z" fill="#00008f"/>
<path d="M458.6,107.0L458.0,59.0L451.8,55.7L452.7,105.2Z" fill="#dfff20"/>
<path d="M465.9,179.7L465.7,175.6L460.9,174.1L461.4,178.9Z" fill="#0000af"/>
<path d="M484.7,184.6L485.8,183.2L481.0,180.6L480.3,182.8Z" fill="#00008f"/>
<path d="M454.5,154.8L453.6,135.8L448.5,141.9L449.6,158.9Z" fill="#0070ff"/>
<path d="M479.5,184.3L480.3,182.8L475.5,180.5L475.1,182.8Z" fill="#00008f"/>
<path d="M453.6,135.8L452.7,105.2L447.3,114.6L448.5,141.9Z" fill="#10ffef"/>
<path d="M455.4,166.7L454.5,154.8L449.6,158.9L450.8,169.5Z" fill="#0020ff"/>
<path d="M490.1,185.3L491.4,184.1L486.8,181.4L485.8,183.2Z" fill="#00008f"/>
<path d="M470.5,183.3L470.5,181.1L465.9,179.7L466.2,182.5Z" fill="#00009f"/>
<path d="M497.1,185.3L498.6,184.1L494.0,180.5L492.7,182.6Z" fill="#00008f"/>
<path d="M461.4,178.9L460.9,174.1L456.3,174.3L457.1,179.1Z" fill="#0000bf"/>
<path d="M474.7,184.4L475.1,182.8L470.5,181.1L470.5,183.3Z" fill="#00008f"/>
<path d="M466.2,182.5L465.9,179.7L461.4,178.9L462.0,182.0Z" fill="#00009f"/>
<path d="M456.3,174.3L455.4,166.7L450.8,169.5L452.0,176.2Z" fill="#0000df"/>
<path d="M483.7,185.7L484.7,184.6L480.3,182.8L479.5,184.3Z" fill="#00008f"/>
<path d="M452.7,105.2L451.8,55.7L446.1,70.4L447.3,114.6Z" fill="#ffff00"/>
<path d="M478.8,185.5L479.5,184.3L475.1,182.8L474.7,184.4Z" fill="#00008f"/>
<path d="M488.8,186.2L490.1,185.3L485.8,183.2L484.7,184.6Z" fill="#00008f"/>
<path d="M495.5,186.2L497.1,185.3L492.7,182.6L491.4,184.1Z" fill="#00008f"/>
<path d="M449.6,158.9L448.5,141.9L443.8,152.7L445.3,165.9Z" fill="#0060ff"/>
<path d="M448.5,141.9L447.3,114.6L442.4,131.5L443.8,152.7Z" fill="#00dfff"/>
<path d="M462.0,182.0L461.4,178.9L457.1,179.1L458.0,182.4Z" fill="#0000af"/>
<path d="M470.4,185.0L470.5,183.3L466.2,182.5L466.4,184.4Z" fill="#00008f"/>
<path d="M457.1,179.1L456.3,174.3L452.0,176.2L453.1,180.6Z" fill="#0000bf"/>
<path d="M474.3,185.7L474.7,184.4L470.5,183.3L470.4,185.0Z" fill="#00008f"/>
<path d="M450.8,169.5L449.6,158.9L445.3,165.9L446.7,174.1Z" fill="#0010ff"/>
<path d="M466.4,184.4L466.2,182.5L462.0,182.0L462.6,184.3Z" fill="#00009f"/>
<path d="M482.7,186.5L483.7,185.7L479.5,184.3L478.8,185.5Z" fill="#00008f"/>
<path d="M478.1,186.5L478.8,185.5L474.7,184.4L474.3,185.7Z" fill="#00008f"/>
<path d="M494.0,187.0L495.5,186.2L491.4,184.1L490.1,185.3Z" fill="#00008f"/>
<path d="M447.3,114.6L446.1,70.4L441.0,97.3L442.4,131.5Z" fill="#afff50"/>
<path d="M487.5,186.9L488.8,186.2L484.7,184.6L483.7,185.7Z" fill="#00008f"/>
<path d="M452.0,176.2L450.8,169.5L446.7,174.1L448.1,179.4Z" fill="#0000cf"/>
<path d="M502.5,186.7L504.3,185.8L500.2,182.4L498.6,184.1Z" fill="#00008f"/>
<path d="M458.0,182.4L457.1,179.1L453.1,180.6L454.3,183.5Z" fill="#0000af"/>
<path d="M462.6,184.3L462.0,182.0L458.0,182.4L458.9,184.6Z" fill="#00009f"/>
<path d="M470.3,186.2L470.4,185.0L466.4,184.4L466.7,185.9Z" fill="#00008f"/>
<path d="M473.9,186.7L474.3,185.7L470.4,185.0L470.3,186.2Z" fill="#00008f"/>
<path d="M481.6,187.3L482.7,186.5L478.8,185.5L478.1,186.5Z" fill="#00008f"/>
<path d="M466.7,185.9L466.4,184.4L462.6,184.3L463.1,185.9Z" fill="#00008f"/>
<path d="M492.5,187.6L494.0,187.0L490.1,185.3L488.8,186.2Z" fill="#00008f"/>
<path d="M453.1,180.6L452.0,176.2L448.1,179.4L449.5,182.8Z" fill="#0000bf"/>
<path d="M500.7,187.5L502.5,186.7L498.6,184.1L497.1,185.3Z" fill="#00008f"/>
<path d="M443.8,152.7L442.4,131.5L438.2,150.3L439.8,164.7Z" fill="#008fff"/>
<path d="M486.2,187.6L487.5,186.9L483.7,185.7L482.7,186.5Z" fill="#00008f"/>
<path d="M445.3,165.9L443.8,152.7L439.8,164.7L441.5,173.7Z" fill="#0030ff"/>
<path d="M477.3,187.3L478.1,186.5L474.3,185.7L473.9,186.7Z" fill="#00008f"/>
<path d="M458.9,184.6L458.0,182.4L454.3,183.5L455.4,185.5Z" fill="#00009f"/>
<path d="M442.4,131.5L441.0,97.3L436.6,127.2L438.2,150.3Z" fill="#40ffbf"/>
<path d="M446.7,174.1L445.3,165.9L441.5,173.7L443.1,179.4Z" fill="#0000ef"/>
<path d="M463.1,185.9L462.6,184.3L458.9,184.6L459.7,186.2Z" fill="#00008f"/>
<path d="M499.0,188.1L500.7,187.5L497.1,185.3L495.5,186.2Z" fill="#00008f"/>
<path d="M454.3,183.5L453.1,180.6L449.5,182.8L450.9,185.1Z" fill="#00009f"/>
<path d="M490.9,188.2L492.5,187.6L488.8,186.2L487.5,186.9Z" fill="#00008f"/>
<path d="M470.2,187.3L470.3,186.2L466.7,185.9L466.9,187.1Z" fill="#00008f"/>
<path d="M473.4,187.6L473.9,186.7L470.3,186.2L470.2,187.3Z" fill="#00008f"/>
<path d="M480.6,188.0L481.6,187.3L478.1,186.5L477.3,187.3Z" fill="#00008f"/>
<path d="M448.1,179.4L446.7,174.1L443.1,179.4L444.7,183.0Z" fill="#0000bf"/>
<path d="M484.9,188.2L486.2,187.6L482.7,186.5L481.6,187.3Z" fill="#00008f"/>
<path d="M466.9,187.1L466.7,185.9L463.1,185.9L463.7,187.1Z" fill="#00008f"/>
<path d="M476.6,188.1L477.3,187.3L473.9,186.7L473.4,187.6Z" fill="#00008f"/>
<path d="M459.7,186.2L458.9,184.6L455.4,185.5L456.6,186.9Z" fill="#00008f"/>
<path d="M497.2,188.6L499.0,188.1L495.5,186.2L494.0,187.0Z" fill="#00008f"/>
<path d="M463.7,187.1L463.1,185.9L459.7,186.2L460.6,187.4Z" fill="#00008f"/>
<path d="M455.4,185.5L454.3,183.5L450.9,185.1L452.3,186.8Z" fill="#00009f"/>
<path d="M489.4,188.7L490.9,188.2L487.5,186.9L486.2,187.6Z" fill="#00008f"/>
<path d="M449.5,182.8L448.1,179.4L444.7,183.0L446.4,185.4Z" fill="#0000af"/>
<path d="M470.1,188.2L470.2,187.3L466.9,187.1L467.1,188.1Z" fill="#00008f"/>
<path d="M439.8,164.7L438.2,150.3L434.7,166.5L436.6,175.2Z" fill="#0040ff"/>
<path d="M483.6,188.8L484.9,188.2L481.6,187.3L480.6,188.0Z" fill="#00008f"/>
<path d="M479.6,188.7L480.6,188.0L477.3,187.3L476.6,188.1Z" fill="#00008f"/>
<path d="M495.5,189.0L497.2,188.6L494.0,187.0L492.5,187.6Z" fill="#00008f"/>
<path d="M473.0,188.4L473.4,187.6L470.2,187.3L470.1,188.2Z" fill="#00008f"/>
<path d="M438.2,150.3L436.6,127.2L432.9,152.6L434.7,166.5Z" fill="#00afff"/>
<path d="M467.1,188.1L466.9,187.1L463.7,187.1L464.2,188.1Z" fill="#00008f"/>
<path d="M441.5,173.7L439.8,164.7L436.6,175.2L438.4,180.6Z" fill="#0000ef"/>
<path d="M505.5,188.9L507.5,188.2L504.3,185.8L502.5,186.7Z" fill="#00008f"/>
<path d="M460.6,187.4L459.7,186.2L456.6,186.9L457.7,188.0Z" fill="#00008f"/>
<path d="M450.9,185.1L449.5,182.8L446.4,185.4L448.0,187.1Z" fill="#00009f"/>
<path d="M475.9,188.8L476.6,188.1L473.4,187.6L473.0,188.4Z" fill="#00008f"/>
<path d="M456.6,186.9L455.4,185.5L452.3,186.8L453.7,187.9Z" fill="#00008f"/>
<path d="M487.8,189.2L489.4,188.7L486.2,187.6L484.9,188.2Z" fill="#00008f"/>
<path d="M443.1,179.4L441.5,173.7L438.4,180.6L440.2,184.1Z" fill="#0000cf"/>
<path d="M464.2,188.1L463.7,187.1L460.6,187.4L461.5,188.4Z" fill="#00008f"/>
<path d="M493.7,189.5L495.5,189.0L492.5,187.6L490.9,188.2Z" fill="#00008f"/>
<path d="M503.6,189.4L505.5,188.9L502.5,186.7L500.7,187.5Z" fill="#00008f"/>
<path d="M482.3,189.4L483.6,188.8L480.6,188.0L479.6,188.7Z" fill="#00008f"/>
<path d="M478.6,189.3L479.6,188.7L476.6,188.1L475.9,188.8Z" fill="#00008f"/>
<path d="M444.7,183.0L443.1,179.4L440.2,184.1L442.0,186.4Z" fill="#0000af"/>
<path d="M452.3,186.8L450.9,185.1L448.0,187.1L449.6,188.2Z" fill="#00008f"/>
<path d="M470.0,189.0L470.1,188.2L467.1,188.1L467.4,188.9Z" fill="#00008f"/>
<path d="M472.6,189.2L473.0,188.4L470.1,188.2L470.0,189.0Z" fill="#00008f"/>
<path d="M467.4,188.9L467.1,188.1L464.2,188.1L464.8,189.0Z" fill="#00008f"/>
<path d="M486.3,189.7L487.8,189.2L484.9,188.2L483.6,188.8Z" fill="#00008f"/>
<path d="M461.5,188.4L460.6,187.4L457.7,188.0L458.9,188.9Z" fill="#00008f"/>
<path d="M501.7,189.8L503.6,189.4L500.7,187.5L499.0,188.1Z" fill="#00008f"/>
<path d="M457.7,188.0L456.6,186.9L453.7,187.9L455.1,188.9Z" fill="#00008f"/>
<path d="M492.0,189.9L493.7,189.5L490.9,188.2L489.4,188.7Z" fill="#00008f"/>
<path d="M475.1,189.5L475.9,188.8L473.0,188.4L472.6,189.2Z" fill="#00008f"/>
<path d="M446.4,185.4L444.7,183.0L442.0,186.4L443.8,187.9Z" fill="#00009f"/>
<path d="M464.8,189.0L464.2,188.1L461.5,188.4L462.3,189.3Z" fill="#00008f"/>
<path d="M453.7,187.9L452.3,186.8L449.6,188.2L451.3,189.1Z" fill="#00008f"/>
<path d="M499.8,190.2L501.7,189.8L499.0,188.1L497.2,188.6Z" fill="#00008f"/>
<path d="M481.0,189.9L482.3,189.4L479.6,188.7L478.6,189.3Z" fill="#00008f"/>
<path d="M477.5,189.9L478.6,189.3L475.9,188.8L475.1,189.5Z" fill="#00008f"/>
<path d="M484.7,190.1L486.3,189.7L483.6,188.8L482.3,189.4Z" fill="#00008f"/>
<path d="M490.2,190.3L492.0,189.9L489.4,188.7L487.8,189.2Z" fill="#00008f"/>
<path d="M448.0,187.1L446.4,185.4L443.8,187.9L445.6,189.0Z" fill="#00008f"/>
<path d="M458.9,188.9L457.7,188.0L455.1,188.9L456.6,189.6Z" fill="#00008f"/>
<path d="M469.9,189.8L470.0,189.0L467.4,188.9L467.6,189.7Z" fill="#00008f"/>
<path d="M462.3,189.3L461.5,188.4L458.9,188.9L460.0,189.7Z" fill="#00008f"/>
<path d="M434.7,166.5L432.9,152.6L430.2,170.7L432.1,178.3Z" fill="#0030ff"/>
<path d="M472.2,189.9L472.6,189.2L470.0,189.0L469.9,189.8Z" fill="#00008f"/>
<path d="M436.6,175.2L434.7,166.5L432.1,178.3L434.1,183.0Z" fill="#0000ef"/>
<path d="M497.9,190.5L499.8,190.2L497.2,188.6L495.5,189.0Z" fill="#00008f"/>
<path d="M467.6,189.7L467.4,188.9L464.8,189.0L465.4,189.8Z" fill="#00008f"/>
<path d="M455.1,188.9L453.7,187.9L451.3,189.1L452.9,189.9Z" fill="#00008f"/>
<path d="M438.4,180.6L436.6,175.2L434.1,183.0L436.0,186.0Z" fill="#0000cf"/>
<path d="M474.4,190.2L475.1,189.5L472.6,189.2L472.2,189.9Z" fill="#00008f"/>
<path d="M465.4,189.8L464.8,189.0L462.3,189.3L463.2,190.1Z" fill="#00008f"/>
<path d="M449.6,188.2L448.0,187.1L445.6,189.0L447.5,189.8Z" fill="#00008f"/>
<path d="M479.7,190.4L481.0,189.9L478.6,189.3L477.5,189.9Z" fill="#00008f"/>
<path d="M488.5,190.6L490.2,190.3L487.8,189.2L486.3,189.7Z" fill="#00008f"/>
<path d="M496.0,190.8L497.9,190.5L495.5,189.0L493.7,189.5Z" fill="#00008f"/>
<path d="M440.2,184.1L438.4,180.6L436.0,186.0L438.0,187.9Z" fill="#0000af"/>
<path d="M483.2,190.6L484.7,190.1L482.3,189.4L481.0,189.9Z" fill="#00008f"/>
<path d="M476.5,190.5L477.5,189.9L475.1,189.5L474.4,190.2Z" fill="#00008f"/>
<path d="M460.0,189.7L458.9,188.9L456.6,189.6L458.0,190.3Z" fill="#00008f"/>
<path d="M463.2,190.1L462.3,189.3L460.0,189.7L461.2,190.4Z" fill="#00008f"/>
<path d="M442.0,186.4L440.2,184.1L438.0,187.9L439.9,189.2Z" fill="#00009f"/>
<path d="M456.6,189.6L455.1,188.9L452.9,189.9L454.6,190.5Z" fill="#00008f"/>
<path d="M469.8,190.5L469.9,189.8L467.6,189.7L467.9,190.5Z" fill="#00008f"/>
<path d="M451.3,189.1L449.6,188.2L447.5,189.8L449.3,190.4Z" fill="#00008f"/>
<path d="M507.7,190.9L509.7,190.3L507.5,188.2L505.5,188.9Z" fill="#00008f"/>
<path d="M471.8,190.6L472.2,189.9L469.9,189.8L469.8,190.5Z" fill="#00008f"/>
<path d="M494.1,191.1L496.0,190.8L493.7,189.5L492.0,189.9Z" fill="#00008f"/>
<path d="M467.9,190.5L467.6,189.7L465.4,189.8L465.9,190.6Z" fill="#00008f"/>
<path d="M486.8,191.0L488.5,190.6L486.3,189.7L484.7,190.1Z" fill="#00008f"/>
<path d="M473.7,190.8L474.4,190.2L472.2,189.9L471.8,190.6Z" fill="#00008f"/>
<path d="M478.4,191.0L479.7,190.4L477.5,189.9L476.5,190.5Z" fill="#00008f"/>
<path d="M443.8,187.9L442.0,186.4L439.9,189.2L441.9,190.1Z" fill="#00008f"/>
<path d="M481.6,191.1L483.2,190.6L481.0,189.9L479.7,190.4Z" fill="#00008f"/>
<path d="M505.7,191.2L507.7,190.9L505.5,188.9L503.6,189.4Z" fill="#00008f"/>
<path d="M465.9,190.6L465.4,189.8L463.2,190.1L464.1,190.8Z" fill="#00008f"/>
<path d="M492.2,191.4L494.1,191.1L492.0,189.9L490.2,190.3Z" fill="#00008f"/>
<path d="M461.2,190.4L460.0,189.7L458.0,190.3L459.4,190.9Z" fill="#00008f"/>
<path d="M452.9,189.9L451.3,189.1L449.3,190.4L451.1,190.9Z" fill="#00008f"/>
<path d="M475.5,191.1L476.5,190.5L474.4,190.2L473.7,190.8Z" fill="#00008f"/>
<path d="M458.0,190.3L456.6,189.6L454.6,190.5L456.2,191.0Z" fill="#00008f"/>
<path d="M503.6,191.6L505.7,191.2L503.6,189.4L501.7,189.8Z" fill="#00008f"/>
<path d="M485.0,191.4L486.8,191.0L484.7,190.1L483.2,190.6Z" fill="#00008f"/>
<path d="M445.6,189.0L443.8,187.9L441.9,190.1L443.8,190.8Z" fill="#00008f"/>
<path d="M464.1,190.8L463.2,190.1L461.2,190.4L462.4,191.1Z" fill="#00008f"/>
<path d="M469.7,191.2L469.8,190.5L467.9,190.5L468.1,191.2Z" fill="#00008f"/>
<path d="M501.6,191.8L503.6,191.6L501.7,189.8L499.8,190.2Z" fill="#00008f"/>
<path d="M490.3,191.7L492.2,191.4L490.2,190.3L488.5,190.6Z" fill="#00008f"/>
<path d="M471.4,191.3L471.8,190.6L469.8,190.5L469.7,191.2Z" fill="#00008f"/>
<path d="M480.1,191.5L481.6,191.1L479.7,190.4L478.4,191.0Z" fill="#00008f"/>
<path d="M468.1,191.2L467.9,190.5L465.9,190.6L466.5,191.3Z" fill="#00008f"/>
<path d="M454.6,190.5L452.9,189.9L451.1,190.9L452.9,191.4Z" fill="#00008f"/>
<path d="M447.5,189.8L445.6,189.0L443.8,190.8L445.8,191.3Z" fill="#00008f"/>
<path d="M477.1,191.5L478.4,191.0L476.5,190.5L475.5,191.1Z" fill="#00008f"/>
<path d="M472.9,191.5L473.7,190.8L471.8,190.6L471.4,191.3Z" fill="#00008f"/>
<path d="M466.5,191.3L465.9,190.6L464.1,190.8L464.9,191.5Z" fill="#00008f"/>
<path d="M483.3,191.8L485.0,191.4L483.2,190.6L481.6,191.1Z" fill="#00008f"/>
<path d="M459.4,190.9L458.0,190.3L456.2,191.0L457.8,191.5Z" fill="#00008f"/>
<path d="M499.6,192.1L501.6,191.8L499.8,190.2L497.9,190.5Z" fill="#00008f"/>
<path d="M462.4,191.1L461.2,190.4L459.4,190.9L460.8,191.5Z" fill="#00008f"/>
<path d="M432.1,178.3L430.2,170.7L428.4,182.3L430.4,186.1Z" fill="#0000df"/>
<path d="M488.3,192.0L490.3,191.7L488.5,190.6L486.8,191.0Z" fill="#00008f"/>
<path d="M434.1,183.0L432.1,178.3L430.4,186.1L432.5,188.5Z" fill="#0000bf"/>
<path d="M474.4,191.7L475.5,191.1L473.7,190.8L472.9,191.5Z" fill="#00008f"/>
<path d="M449.3,190.4L447.5,189.8L445.8,191.3L447.7,191.7Z" fill="#00008f"/>
<path d="M464.9,191.5L464.1,190.8L462.4,191.1L463.5,191.7Z" fill="#00008f"/>
<path d="M497.6,192.3L499.6,192.1L497.9,190.5L496.0,190.8Z" fill="#00008f"/>
<path d="M456.2,191.0L454.6,190.5L452.9,191.4L454.7,191.8Z" fill="#00008f"/>
<path d="M436.0,186.0L434.1,183.0L432.5,188.5L434.5,190.0Z" fill="#0000af"/>
<path d="M478.5,192.0L480.1,191.5L478.4,191.0L477.1,191.5Z" fill="#00008f"/>
<path d="M438.0,187.9L436.0,186.0L434.5,190.0L436.5,190.9Z" fill="#00009f"/>
<path d="M481.5,192.1L483.3,191.8L481.6,191.1L480.1,191.5Z" fill="#00008f"/>
<path d="M475.8,192.1L477.1,191.5L475.5,191.1L474.4,191.7Z" fill="#00008f"/>
<path d="M486.4,192.3L488.3,192.0L486.8,191.0L485.0,191.4Z" fill="#00008f"/>
<path d="M451.1,190.9L449.3,190.4L447.7,191.7L449.7,192.0Z" fill="#00008f"/>
<path d="M469.6,191.9L469.7,191.2L468.1,191.2L468.3,191.9Z" fill="#00008f"/>
<path d="M495.5,192.5L497.6,192.3L496.0,190.8L494.1,191.1Z" fill="#00008f"/>
<path d="M460.8,191.5L459.4,190.9L457.8,191.5L459.5,192.0Z" fill="#00008f"/>
<path d="M470.9,192.0L471.4,191.3L469.7,191.2L469.6,191.9Z" fill="#00008f"/>
<path d="M468.3,191.9L468.1,191.2L466.5,191.3L467.0,192.0Z" fill="#00008f"/>
<path d="M463.5,191.7L462.4,191.1L460.8,191.5L462.2,192.1Z" fill="#00008f"/>
<path d="M439.9,189.2L438.0,187.9L436.5,190.9L438.6,191.6Z" fill="#00008f"/>
<path d="M472.2,192.1L472.9,191.5L471.4,191.3L470.9,192.0Z" fill="#00008f"/>
<path d="M457.8,191.5L456.2,191.0L454.7,191.8L456.5,192.2Z" fill="#00008f"/>
<path d="M467.0,192.0L466.5,191.3L464.9,191.5L465.8,192.1Z" fill="#00008f"/>
<path d="M493.5,192.6L495.5,192.5L494.1,191.1L492.2,191.4Z" fill="#00008f"/>
<path d="M452.9,191.4L451.1,190.9L449.7,192.0L451.7,192.3Z" fill="#00008f"/>
<path d="M441.9,190.1L439.9,189.2L438.6,191.6L440.6,192.1Z" fill="#00008f"/>
<path d="M473.4,192.3L474.4,191.7L472.9,191.5L472.2,192.1Z" fill="#00008f"/>
<path d="M484.5,192.5L486.4,192.3L485.0,191.4L483.3,191.8Z" fill="#00008f"/>
<path d="M477.0,192.4L478.5,192.0L477.1,191.5L475.8,192.1Z" fill="#00008f"/>
<path d="M465.8,192.1L464.9,191.5L463.5,191.7L464.7,192.3Z" fill="#00008f"/>
<path d="M479.8,192.5L481.5,192.1L480.1,191.5L478.5,192.0Z" fill="#00008f"/>
<path d="M491.5,192.8L493.5,192.6L492.2,191.4L490.3,191.7Z" fill="#00008f"/>
<path d="M443.8,190.8L441.9,190.1L440.6,192.1L442.7,192.4Z" fill="#00008f"/>
<path d="M462.2,192.1L460.8,191.5L459.5,192.0L461.1,192.5Z" fill="#00008f"/>
<path d="M474.5,192.6L475.8,192.1L474.4,191.7L473.4,192.3Z" fill="#00008f"/>
<path d="M459.5,192.0L457.8,191.5L456.5,192.2L458.4,192.5Z" fill="#00008f"/>
<path d="M454.7,191.8L452.9,191.4L451.7,192.3L453.6,192.6Z" fill="#00008f"/>
<path d="M482.6,192.8L484.5,192.5L483.3,191.8L481.5,192.1Z" fill="#00008f"/>
<path d="M464.7,192.3L463.5,191.7L462.2,192.1L463.6,192.6Z" fill="#00008f"/>
<path d="M445.8,191.3L443.8,190.8L442.7,192.4L444.7,192.7Z" fill="#00008f"/>
<path d="M469.6,192.6L469.6,191.9L468.3,191.9L468.6,192.6Z" fill="#00008f"/>
<path d="M489.5,193.0L491.5,192.8L490.3,191.7L488.3,192.0Z" fill="#00008f"/>
<path d="M508.9,192.7L511.0,192.2L509.7,190.3L507.7,190.9Z" fill="#00008f"/>
<path d="M470.5,192.7L470.9,192.0L469.6,191.9L469.6,192.6Z" fill="#00008f"/>
<path d="M468.6,192.6L468.3,191.9L467.0,192.0L467.6,192.7Z" fill="#00008f"/>
<path d="M471.5,192.8L472.2,192.1L470.9,192.0L470.5,192.7Z" fill="#00008f"/>
<path d="M478.0,192.9L479.8,192.5L478.5,192.0L477.0,192.4Z" fill="#00008f"/>
<path d="M506.8,193.0L508.9,192.7L507.7,190.9L505.7,191.2Z" fill="#00008f"/>
<path d="M467.6,192.7L467.0,192.0L465.8,192.1L466.7,192.8Z" fill="#00008f"/>
<path d="M447.7,191.7L445.8,191.3L444.7,192.7L446.8,192.9Z" fill="#00008f"/>
<path d="M475.5,192.9L477.0,192.4L475.8,192.1L474.5,192.6Z" fill="#00008f"/>
<path d="M456.5,192.2L454.7,191.8L453.6,192.6L455.6,192.9Z" fill="#00008f"/>
<path d="M487.5,193.2L489.5,193.0L488.3,192.0L486.4,192.3Z" fill="#00008f"/>
<path d="M472.4,192.9L473.4,192.3L472.2,192.1L471.5,192.8Z" fill="#00008f"/>
<path d="M504.7,193.3L506.8,193.0L505.7,191.2L503.6,191.6Z" fill="#00008f"/>
<path d="M461.1,192.5L459.5,192.0L458.4,192.5L460.2,192.9Z" fill="#00008f"/>
<path d="M463.6,192.6L462.2,192.1L461.1,192.5L462.7,192.9Z" fill="#00008f"/>
<path d="M480.7,193.1L482.6,192.8L481.5,192.1L479.8,192.5Z" fill="#00008f"/>
<path d="M466.7,192.8L465.8,192.1L464.7,192.3L465.8,192.9Z" fill="#00008f"/>
<path d="M449.7,192.0L447.7,191.7L446.8,192.9L448.8,193.1Z" fill="#00008f"/>
<path d="M502.6,193.5L504.7,193.3L503.6,191.6L501.6,191.8Z" fill="#00008f"/>
<path d="M473.2,193.1L474.5,192.6L473.4,192.3L472.4,192.9Z" fill="#00008f"/>
<path d="M485.4,193.4L487.5,193.2L486.4,192.3L484.5,192.5Z" fill="#00008f"/>
<path d="M500.5,193.6L502.6,193.5L501.6,191.8L499.6,192.1Z" fill="#00008f"/>
<path d="M458.4,192.5L456.5,192.2L455.6,192.9L457.5,193.1Z" fill="#00008f"/>
<path d="M465.8,192.9L464.7,192.3L463.6,192.6L465.0,193.1Z" fill="#00008f"/>
<path d="M476.3,193.2L478.0,192.9L477.0,192.4L475.5,192.9Z" fill="#00008f"/>
<path d="M451.7,192.3L449.7,192.0L448.8,193.1L450.8,193.3Z" fill="#00008f"/>
<path d="M498.5,193.7L500.5,193.6L499.6,192.1L497.6,192.3Z" fill="#00008f"/>
<path d="M478.8,193.3L480.7,193.1L479.8,192.5L478.0,192.9Z" fill="#00008f"/>
<path d="M462.7,192.9L461.1,192.5L460.2,192.9L462.0,193.3Z" fill="#00008f"/>
<path d="M473.9,193.3L475.5,192.9L474.5,192.6L473.2,193.1Z" fill="#00008f"/>
<path d="M469.5,193.3L469.6,192.6L468.6,192.6L468.8,193.3Z" fill="#00008f"/>
<path d="M483.4,193.5L485.4,193.4L484.5,192.5L482.6,192.8Z" fill="#00008f"/>
<path d="M470.1,193.4L470.5,192.7L469.6,192.6L469.5,193.3Z" fill="#00008f"/>
<path d="M468.8,193.3L468.6,192.6L467.6,192.7L468.2,193.4Z" fill="#00008f"/>
<path d="M496.4,193.8L498.5,193.7L497.6,192.3L495.5,192.5Z" fill="#00008f"/>
<path d="M453.6,192.6L451.7,192.3L450.8,193.3L452.9,193.5Z" fill="#00008f"/>
<path d="M465.0,193.1L463.6,192.6L462.7,192.9L464.4,193.4Z" fill="#00008f"/>
<path d="M470.8,193.4L471.5,192.8L470.5,192.7L470.1,193.4Z" fill="#00008f"/>
<path d="M460.2,192.9L458.4,192.5L457.5,193.1L459.5,193.4Z" fill="#00008f"/>
<path d="M468.2,193.4L467.6,192.7L466.7,192.8L467.5,193.4Z" fill="#00008f"/>
<path d="M430.4,186.1L428.4,182.3L427.6,189.4L429.7,191.2Z" fill="#0000af"/>
<path d="M432.5,188.5L430.4,186.1L429.7,191.2L431.7,192.2Z" fill="#00009f"/>
<path d="M494.3,193.9L496.4,193.8L495.5,192.5L493.5,192.6Z" fill="#00008f"/>
<path d="M471.3,193.5L472.4,192.9L471.5,192.8L470.8,193.4Z" fill="#00008f"/>
<path d="M434.5,190.0L432.5,188.5L431.7,192.2L433.8,192.9Z" fill="#00009f"/>
<path d="M467.5,193.4L466.7,192.8L465.8,192.9L467.0,193.5Z" fill="#00008f"/>
<path d="M481.4,193.7L483.4,193.5L482.6,192.8L480.7,193.1Z" fill="#00008f"/>
<path d="M476.9,193.6L478.8,193.3L478.0,192.9L476.3,193.2Z" fill="#00008f"/>
<path d="M455.6,192.9L453.6,192.6L452.9,193.5L454.9,193.6Z" fill="#00008f"/>
<path d="M474.5,193.6L476.3,193.2L475.5,192.9L473.9,193.3Z" fill="#00008f"/>
<path d="M436.5,190.9L434.5,190.0L433.8,192.9L435.9,193.4Z" fill="#00008f"/>
<path d="M492.2,194.0L494.3,193.9L493.5,192.6L491.5,192.8Z" fill="#00008f"/>
<path d="M471.9,193.6L473.2,193.1L472.4,192.9L471.3,193.5Z" fill="#00008f"/>
<path d="M438.6,191.6L436.5,190.9L435.9,193.4L438.0,193.6Z" fill="#00008f"/>
<path d="M464.4,193.4L462.7,192.9L462.0,193.3L463.8,193.6Z" fill="#00008f"/>
<path d="M467.0,193.5L465.8,192.9L465.0,193.1L466.5,193.7Z" fill="#00008f"/>
<path d="M462.0,193.3L460.2,192.9L459.5,193.4L461.4,193.7Z" fill="#00008f"/>
<path d="M490.1,194.1L492.2,194.0L491.5,192.8L489.5,193.0Z" fill="#00008f"/>
<path d="M440.6,192.1L438.6,191.6L438.0,193.6L440.1,193.8Z" fill="#00008f"/>
<path d="M457.5,193.1L455.6,192.9L454.9,193.6L457.0,193.8Z" fill="#00008f"/>
<path d="M479.4,193.9L481.4,193.7L480.7,193.1L478.8,193.3Z" fill="#00008f"/>
<path d="M472.4,193.8L473.9,193.3L473.2,193.1L471.9,193.6Z" fill="#00008f"/>
<path d="M442.7,192.4L440.6,192.1L440.1,193.8L442.2,194.0Z" fill="#00008f"/>
<path d="M488.0,194.1L490.1,194.1L489.5,193.0L487.5,193.2Z" fill="#00008f"/>
<path d="M466.5,193.7L465.0,193.1L464.4,193.4L466.0,193.8Z" fill="#00008f"/>
<path d="M475.0,193.9L476.9,193.6L476.3,193.2L474.5,193.6Z" fill="#00008f"/>
<path d="M444.7,192.7L442.7,192.4L442.2,194.0L444.2,194.1Z" fill="#00008f"/>
<path d="M459.5,193.4L457.5,193.1L457.0,193.8L459.0,193.9Z" fill="#00008f"/>
<path d="M485.9,194.2L488.0,194.1L487.5,193.2L485.4,193.4Z" fill="#00008f"/>
<path d="M472.8,194.0L474.5,193.6L473.9,193.3L472.4,193.8Z" fill="#00008f"/>
<path d="M463.8,193.6L462.0,193.3L461.4,193.7L463.4,193.9Z" fill="#00008f"/>
<path d="M446.8,192.9L444.7,192.7L444.2,194.1L446.3,194.1Z" fill="#00008f"/>
<path d="M469.4,194.0L469.5,193.3L468.8,193.3L469.0,194.0Z" fill="#00008f"/>
<path d="M477.4,194.0L479.4,193.9L478.8,193.3L476.9,193.6Z" fill="#00008f"/>
<path d="M469.7,194.0L470.1,193.4L469.5,193.3L469.4,194.0Z" fill="#00008f"/>
<path d="M469.0,194.0L468.8,193.3L468.2,193.4L468.7,194.0Z" fill="#00008f"/>
<path d="M470.0,194.1L470.8,193.4L470.1,193.4L469.7,194.0Z" fill="#00008f"/>
<path d="M466.0,193.8L464.4,193.4L463.8,193.6L465.6,194.0Z" fill="#00008f"/>
<path d="M468.7,194.0L468.2,193.4L467.5,193.4L468.4,194.1Z" fill="#00008f"/>
<path d="M448.8,193.1L446.8,192.9L446.3,194.1L448.4,194.2Z" fill="#00008f"/>
<path d="M483.9,194.3L485.9,194.2L485.4,193.4L483.4,193.5Z" fill="#00008f"/>
<path d="M470.3,194.1L471.3,193.5L470.8,193.4L470.0,194.1Z" fill="#00008f"/>
<path d="M468.4,194.1L467.5,193.4L467.0,193.5L468.1,194.1Z" fill="#00008f"/>
<path d="M461.4,193.7L459.5,193.4L459.0,193.9L461.1,194.1Z" fill="#00008f"/>
<path d="M450.8,193.3L448.8,193.1L448.4,194.2L450.5,194.3Z" fill="#00008f"/>
<path d="M470.6,194.2L471.9,193.6L471.3,193.5L470.3,194.1Z" fill="#00008f"/>
<path d="M473.1,194.2L475.0,193.9L474.5,193.6L472.8,194.0Z" fill="#00008f"/>
<path d="M468.1,194.1L467.0,193.5L466.5,193.7L467.9,194.2Z" fill="#00008f"/>
<path d="M481.8,194.3L483.9,194.3L483.4,193.5L481.4,193.7Z" fill="#00008f"/>
<path d="M475.3,194.2L477.4,194.0L476.9,193.6L475.0,193.9Z" fill="#00008f"/>
<path d="M452.9,193.5L450.8,193.3L450.5,194.3L452.6,194.3Z" fill="#00008f"/>
<path d="M470.8,194.3L472.4,193.8L471.9,193.6L470.6,194.2Z" fill="#00008f"/>
<path d="M465.6,194.0L463.8,193.6L463.4,193.9L465.4,194.2Z" fill="#00008f"/>
<path d="M467.9,194.2L466.5,193.7L466.0,193.8L467.6,194.3Z" fill="#00008f"/>
<path d="M479.7,194.4L481.8,194.3L481.4,193.7L479.4,193.9Z" fill="#00008f"/>
<path d="M463.4,193.9L461.4,193.7L461.1,194.1L463.1,194.2Z" fill="#00008f"/>
<path d="M454.9,193.6L452.9,193.5L452.6,194.3L454.7,194.4Z" fill="#00008f"/>
<path d="M471.0,194.3L472.8,194.0L472.4,193.8L470.8,194.3Z" fill="#00008f"/>
<path d="M457.0,193.8L454.9,193.6L454.7,194.4L456.8,194.4Z" fill="#00008f"/>
<path d="M467.6,194.3L466.0,193.8L465.6,194.0L467.5,194.4Z" fill="#00008f"/>
<path d="M473.3,194.4L475.3,194.2L475.0,193.9L473.1,194.2Z" fill="#00008f"/>
<path d="M477.6,194.5L479.7,194.4L479.4,193.9L477.4,194.0Z" fill="#00008f"/>
<path d="M459.0,193.9L457.0,193.8L456.8,194.4L458.8,194.5Z" fill="#00008f"/>
<path d="M471.2,194.4L473.1,194.2L472.8,194.0L471.0,194.3Z" fill="#00008f"/>
<path d="M465.4,194.2L463.4,193.9L463.1,194.2L465.2,194.4Z" fill="#00008f"/>
<path d="M467.5,194.4L465.6,194.0L465.4,194.2L467.3,194.4Z" fill="#00008f"/>
<path d="M475.5,194.5L477.6,194.5L477.4,194.0L475.3,194.2Z" fill="#00008f"/>
<path d="M461.1,194.1L459.0,193.9L458.8,194.5L460.9,194.5Z" fill="#00008f"/>
<path d="M469.3,194.7L469.4,194.0L469.0,194.0L469.3,194.7Z" fill="#00008f"/>
<path d="M471.3,194.5L473.3,194.4L473.1,194.2L471.2,194.4Z" fill="#00008f"/>
<path d="M469.3,194.7L469.7,194.0L469.4,194.0L469.3,194.7Z" fill="#00008f"/>
<path d="M469.3,194.7L469.0,194.0L468.7,194.0L469.3,194.7Z" fill="#00008f"/>
<path d="M469.3,194.7L470.0,194.1L469.7,194.0L469.3,194.7Z" fill="#00008f"/>
<path d="M469.3,194.7L468.7,194.0L468.4,194.1L469.3,194.7Z" fill="#00008f"/>
<path d="M463.1,194.2L461.1,194.1L460.9,194.5L463.0,194.6Z" fill="#00008f"/>
<path d="M473.4,194.6L475.5,194.5L475.3,194.2L473.3,194.4Z" fill="#00008f"/>
<path d="M469.3,194.7L470.3,194.1L470.0,194.1L469.3,194.7Z" fill="#00008f"/>
<path d="M469.3,194.7L468.4,194.1L468.1,194.1L469.3,194.7Z" fill="#00008f"/>
<path d="M509.1,194.4L511.2,193.8L511.0,192.2L508.9,192.7Z" fill="#00008f"/>
<path d="M507.0,194.7L509.1,194.4L508.9,192.7L506.8,193.0Z" fill="#00008f"/>
<path d="M467.3,194.4L465.4,194.2L465.2,194.4L467.2,194.6Z" fill="#00008f"/>
<path d="M504.9,195.0L507.0,194.7L506.8,193.0L504.7,193.3Z" fill="#00008f"/>
<path d="M469.3,194.7L470.6,194.2L470.3,194.1L469.3,194.7Z" fill="#00008f"/>
<path d="M502.8,195.1L504.9,195.0L504.7,193.3L502.6,193.5Z" fill="#00008f"/>
<path d="M469.3,194.7L468.1,194.1L467.9,194.2L469.3,194.7Z" fill="#00008f"/>
<path d="M500.7,195.2L502.8,195.1L502.6,193.5L500.5,193.6Z" fill="#00008f"/>
<path d="M469.3,194.7L470.8,194.3L470.6,194.2L469.3,194.7Z" fill="#00008f"/>
<path d="M498.6,195.2L500.7,195.2L500.5,193.6L498.5,193.7Z" fill="#00008f"/>
<path d="M469.3,194.7L467.9,194.2L467.6,194.3L469.3,194.7Z" fill="#00008f"/>
<path d="M496.5,195.2L498.6,195.2L498.5,193.7L496.4,193.8Z" fill="#00008f"/>
<path d="M465.2,194.4L463.1,194.2L463.0,194.6L465.1,194.6Z" fill="#00008f"/>
<path d="M494.4,195.2L496.5,195.2L496.4,193.8L494.3,193.9Z" fill="#00008f"/>
<path d="M469.3,194.7L471.0,194.3L470.8,194.3L469.3,194.7Z" fill="#00008f"/>
<path d="M492.3,195.2L494.4,195.2L494.3,193.9L492.2,194.0Z" fill="#00008f"/>
<path d="M469.3,194.7L467.6,194.3L467.5,194.4L469.3,194.7Z" fill="#00008f"/>
<path d="M471.4,194.6L473.4,194.6L473.3,194.4L471.3,194.5Z" fill="#00008f"/>
<path d="M490.2,195.1L492.3,195.2L492.2,194.0L490.1,194.1Z" fill="#00008f"/>
<path d="M488.1,195.1L490.2,195.1L490.1,194.1L488.0,194.1Z" fill="#00008f"/>
<path d="M469.3,194.7L471.2,194.4L471.0,194.3L469.3,194.7Z" fill="#00008f"/>
<path d="M469.3,194.7L467.5,194.4L467.3,194.4L469.3,194.7Z" fill="#00008f"/>
<path d="M486.0,195.1L488.1,195.1L488.0,194.1L485.9,194.2Z" fill="#00008f"/>
<path d="M467.2,194.6L465.2,194.4L465.1,194.6L467.2,194.7Z" fill="#00008f"/>
<path d="M483.9,195.0L486.0,195.1L485.9,194.2L483.9,194.3Z" fill="#00008f"/>
<path d="M469.3,194.7L471.3,194.5L471.2,194.4L469.3,194.7Z" fill="#00008f"/>
<path d="M481.8,195.0L483.9,195.0L483.9,194.3L481.8,194.3Z" fill="#00008f"/>
<path d="M469.3,194.7L467.3,194.4L467.2,194.6L469.3,194.7Z" fill="#00008f"/>
<path d="M479.8,194.9L481.8,195.0L481.8,194.3L479.7,194.4Z" fill="#00008f"/>
<path d="M477.7,194.9L479.8,194.9L479.7,194.4L477.6,194.5Z" fill="#00008f"/>
<path d="M469.3,194.7L471.4,194.6L471.3,194.5L469.3,194.7Z" fill="#00008f"/>
<path d="M475.6,194.8L477.7,194.9L477.6,194.5L475.5,194.5Z" fill="#00008f"/>
<path d="M469.3,194.7L467.2,194.6L467.2,194.7L469.3,194.7Z" fill="#00008f"/>
<path d="M473.5,194.8L475.6,194.8L475.5,194.5L473.4,194.6Z" fill="#00008f"/>
<path d="M471.4,194.8L473.5,194.8L473.4,194.6L471.4,194.6Z" fill="#00008f"/>
<path d="M469.3,194.7L471.4,194.8L471.4,194.6L469.3,194.7Z" fill="#00008f"/>
<path d="M469.3,194.7L467.2,194.7L467.2,194.8L469.3,194.7Z" fill="#00008f"/>
<path d="M467.2,194.7L465.1,194.6L465.1,194.8L467.2,194.8Z" fill="#00008f"/>
<path d="M465.1,194.6L463.0,194.6L463.1,194.9L465.1,194.8Z" fill="#00008f"/>
<path d="M469.3,194.7L471.3,194.9L471.4,194.8L469.3,194.7Z" fill="#00008f"/>
<path d="M463.0,194.6L460.9,194.5L461.0,195.0L463.1,194.9Z" fill="#00008f"/>
<path d="M469.3,194.7L467.2,194.8L467.3,194.9L469.3,194.7Z" fill="#00008f"/>
<path d="M460.9,194.5L458.8,194.5L458.9,195.0L461.0,195.0Z" fill="#00008f"/>
<path d="M458.8,194.5L456.8,194.4L456.8,195.1L458.9,195.0Z" fill="#00008f"/>
<path d="M469.3,194.7L471.2,195.0L471.3,194.9L469.3,194.7Z" fill="#00008f"/>
<path d="M456.8,194.4L454.7,194.4L454.7,195.1L456.8,195.1Z" fill="#00008f"/>
<path d="M469.3,194.7L467.3,194.9L467.4,195.0L469.3,194.7Z" fill="#00008f"/>
<path d="M454.7,194.4L452.6,194.3L452.7,195.2L454.7,195.1Z" fill="#00008f"/>
<path d="M471.3,194.9L473.4,195.0L473.5,194.8L471.4,194.8Z" fill="#00008f"/>
<path d="M452.6,194.3L450.5,194.3L450.6,195.3L452.7,195.2Z" fill="#00008f"/>
<path d="M469.3,194.7L471.1,195.1L471.2,195.0L469.3,194.7Z" fill="#00008f"/>
<path d="M469.3,194.7L467.4,195.0L467.5,195.1L469.3,194.7Z" fill="#00008f"/>
<path d="M450.5,194.3L448.4,194.2L448.5,195.3L450.6,195.3Z" fill="#00008f"/>
<path d="M448.4,194.2L446.3,194.1L446.4,195.4L448.5,195.3Z" fill="#00008f"/>
<path d="M467.2,194.8L465.1,194.8L465.3,195.0L467.3,194.9Z" fill="#00008f"/>
<path d="M469.3,194.7L470.9,195.1L471.1,195.1L469.3,194.7Z" fill="#00008f"/>
<path d="M446.3,194.1L444.2,194.1L444.4,195.4L446.4,195.4Z" fill="#00008f"/>
<path d="M469.3,194.7L467.5,195.1L467.7,195.2L469.3,194.7Z" fill="#00008f"/>
<path d="M444.2,194.1L442.2,194.0L442.3,195.4L444.4,195.4Z" fill="#00008f"/>
<path d="M473.4,195.0L475.4,195.2L475.6,194.8L473.5,194.8Z" fill="#00008f"/>
<path d="M469.3,194.7L470.7,195.2L470.9,195.1L469.3,194.7Z" fill="#00008f"/>
<path d="M442.2,194.0L440.1,193.8L440.2,195.5L442.3,195.4Z" fill="#00008f"/>
<path d="M469.3,194.7L467.7,195.2L468.0,195.2L469.3,194.7Z" fill="#00008f"/>
<path d="M440.1,193.8L438.0,193.6L438.2,195.5L440.2,195.5Z" fill="#00008f"/>
<path d="M469.3,194.7L470.4,195.3L470.7,195.2L469.3,194.7Z" fill="#00008f"/>
<path d="M438.0,193.6L435.9,193.4L436.1,195.4L438.2,195.5Z" fill="#00008f"/>
<path d="M469.3,194.7L468.0,195.2L468.3,195.3L469.3,194.7Z" fill="#00008f"/>
<path d="M471.2,195.0L473.2,195.2L473.4,195.0L471.3,194.9Z" fill="#00008f"/>
<path d="M469.3,194.7L470.2,195.3L470.4,195.3L469.3,194.7Z" fill="#00008f"/>
<path d="M435.9,193.4L433.8,192.9L434.0,195.3L436.1,195.4Z" fill="#00008f"/>
<path d="M469.3,194.7L468.3,195.3L468.6,195.3L469.3,194.7Z" fill="#00008f"/>
<path d="M465.1,194.8L463.1,194.9L463.2,195.2L465.3,195.0Z" fill="#00008f"/>
<path d="M475.4,195.2L477.5,195.3L477.7,194.9L475.6,194.8Z" fill="#00008f"/>
<path d="M469.3,194.7L469.8,195.4L470.2,195.3L469.3,194.7Z" fill="#00008f"/>
<path d="M469.3,194.7L468.6,195.3L468.9,195.4L469.3,194.7Z" fill="#00008f"/>
<path d="M433.8,192.9L431.7,192.2L432.0,195.1L434.0,195.3Z" fill="#00008f"/>
<path d="M469.3,194.7L469.5,195.4L469.8,195.4L469.3,194.7Z" fill="#00008f"/>
<path d="M469.3,194.7L468.9,195.4L469.2,195.4L469.3,194.7Z" fill="#00008f"/>
<path d="M467.3,194.9L465.3,195.0L465.5,195.2L467.4,195.0Z" fill="#00008f"/>
<path d="M469.3,194.7L469.2,195.4L469.5,195.4L469.3,194.7Z" fill="#00008f"/>
<path d="M431.7,192.2L429.7,191.2L429.9,194.7L432.0,195.1Z" fill="#00008f"/>
<path d="M477.5,195.3L479.6,195.5L479.8,194.9L477.7,194.9Z" fill="#00008f"/>
<path d="M429.7,191.2L427.6,189.4L427.8,194.0L429.9,194.7Z" fill="#00009f"/>
<path d="M463.1,194.9L461.0,195.0L461.2,195.4L463.2,195.2Z" fill="#00008f"/>
<path d="M471.1,195.1L472.9,195.4L473.2,195.2L471.2,195.0Z" fill="#00008f"/>
<path d="M473.2,195.2L475.2,195.5L475.4,195.2L473.4,195.0Z" fill="#00008f"/>
<path d="M467.4,195.0L465.5,195.2L465.8,195.4L467.5,195.1Z" fill="#00008f"/>
<path d="M479.6,195.5L481.6,195.6L481.8,195.0L479.8,194.9Z" fill="#00008f"/>
<path d="M461.0,195.0L458.9,195.0L459.2,195.5L461.2,195.4Z" fill="#00008f"/>
<path d="M465.3,195.0L463.2,195.2L463.6,195.5L465.5,195.2Z" fill="#00008f"/>
<path d="M470.9,195.1L472.6,195.6L472.9,195.4L471.1,195.1Z" fill="#00008f"/>
<path d="M481.6,195.6L483.7,195.8L483.9,195.0L481.8,195.0Z" fill="#00008f"/>
<path d="M467.5,195.1L465.8,195.4L466.2,195.6L467.7,195.2Z" fill="#00008f"/>
<path d="M483.7,195.8L485.7,195.9L486.0,195.1L483.9,195.0Z" fill="#00008f"/>
<path d="M475.2,195.5L477.1,195.7L477.5,195.3L475.4,195.2Z" fill="#00008f"/>
<path d="M458.9,195.0L456.8,195.1L457.2,195.7L459.2,195.5Z" fill="#00008f"/>
<path d="M470.7,195.2L472.1,195.7L472.6,195.6L470.9,195.1Z" fill="#00008f"/>
<path d="M472.9,195.4L474.8,195.8L475.2,195.5L473.2,195.2Z" fill="#00008f"/>
<path d="M467.7,195.2L466.2,195.6L466.7,195.8L468.0,195.2Z" fill="#00008f"/>
<path d="M485.7,195.9L487.8,196.1L488.1,195.1L486.0,195.1Z" fill="#00008f"/>
<path d="M463.2,195.2L461.2,195.4L461.7,195.8L463.6,195.5Z" fill="#00008f"/>
<path d="M456.8,195.1L454.7,195.1L455.2,195.9L457.2,195.7Z" fill="#00008f"/>
<path d="M465.5,195.2L463.6,195.5L464.1,195.8L465.8,195.4Z" fill="#00008f"/>
<path d="M470.4,195.3L471.6,195.9L472.1,195.7L470.7,195.2Z" fill="#00008f"/>
<path d="M468.0,195.2L466.7,195.8L467.2,195.9L468.3,195.3Z" fill="#00008f"/>
<path d="M487.8,196.1L489.8,196.2L490.2,195.1L488.1,195.1Z" fill="#00008f"/>
<path d="M477.1,195.7L479.1,196.0L479.6,195.5L477.5,195.3Z" fill="#00008f"/>
<path d="M470.2,195.3L471.0,196.0L471.6,195.9L470.4,195.3Z" fill="#00008f"/>
<path d="M468.3,195.3L467.2,195.9L467.8,196.0L468.6,195.3Z" fill="#00008f"/>
<path d="M454.7,195.1L452.7,195.2L453.2,196.1L455.2,195.9Z" fill="#00008f"/>
<path d="M489.8,196.2L491.9,196.3L492.3,195.2L490.2,195.1Z" fill="#00008f"/>
<path d="M469.8,195.4L470.4,196.0L471.0,196.0L470.2,195.3Z" fill="#00008f"/>
<path d="M472.6,195.6L474.2,196.0L474.8,195.8L472.9,195.4Z" fill="#00008f"/>
<path d="M468.6,195.3L467.8,196.0L468.5,196.0L468.9,195.4Z" fill="#00008f"/>
<path d="M469.5,195.4L469.8,196.1L470.4,196.0L469.8,195.4Z" fill="#00008f"/>
<path d="M468.9,195.4L468.5,196.0L469.1,196.1L469.2,195.4Z" fill="#00008f"/>
<path d="M461.2,195.4L459.2,195.5L459.8,196.1L461.7,195.8Z" fill="#00008f"/>
<path d="M469.2,195.4L469.1,196.1L469.8,196.1L469.5,195.4Z" fill="#00008f"/>
<path d="M474.8,195.8L476.6,196.1L477.1,195.7L475.2,195.5Z" fill="#00008f"/>
<path d="M491.9,196.3L493.9,196.4L494.4,195.2L492.3,195.2Z" fill="#00008f"/>
<path d="M465.8,195.4L464.1,195.8L464.7,196.1L466.2,195.6Z" fill="#00008f"/>
<path d="M452.7,195.2L450.6,195.3L451.2,196.2L453.2,196.1Z" fill="#00008f"/>
<path d="M479.1,196.0L481.1,196.2L481.6,195.6L479.6,195.5Z" fill="#00008f"/>
<path d="M493.9,196.4L496.0,196.6L496.5,195.2L494.4,195.2Z" fill="#00008f"/>
<path d="M463.6,195.5L461.7,195.8L462.3,196.2L464.1,195.8Z" fill="#00008f"/>
<path d="M472.1,195.7L473.5,196.3L474.2,196.0L472.6,195.6Z" fill="#00008f"/>
<path d="M450.6,195.3L448.5,195.3L449.1,196.4L451.2,196.2Z" fill="#00008f"/>
<path d="M496.0,196.6L498.1,196.6L498.6,195.2L496.5,195.2Z" fill="#00008f"/>
<path d="M466.2,195.6L464.7,196.1L465.4,196.3L466.7,195.8Z" fill="#00008f"/>
<path d="M459.2,195.5L457.2,195.7L457.9,196.3L459.8,196.1Z" fill="#00008f"/>
<path d="M481.1,196.2L483.0,196.5L483.7,195.8L481.6,195.6Z" fill="#00008f"/>
<path d="M448.5,195.3L446.4,195.4L447.1,196.5L449.1,196.4Z" fill="#00008f"/>
<path d="M498.1,196.6L500.1,196.7L500.7,195.2L498.6,195.2Z" fill="#00008f"/>
<path d="M476.6,196.1L478.4,196.5L479.1,196.0L477.1,195.7Z" fill="#00008f"/>
<path d="M471.6,195.9L472.8,196.5L473.5,196.3L472.1,195.7Z" fill="#00008f"/>
<path d="M474.2,196.0L475.8,196.5L476.6,196.1L474.8,195.8Z" fill="#00008f"/>
<path d="M500.1,196.7L502.2,196.7L502.8,195.1L500.7,195.2Z" fill="#00008f"/>
<path d="M466.7,195.8L465.4,196.3L466.2,196.5L467.2,195.9Z" fill="#00008f"/>
<path d="M446.4,195.4L444.4,195.4L445.1,196.7L447.1,196.5Z" fill="#00008f"/>
<path d="M464.1,195.8L462.3,196.2L463.1,196.5L464.7,196.1Z" fill="#00008f"/>
<path d="M483.0,196.5L485.0,196.7L485.7,195.9L483.7,195.8Z" fill="#00008f"/>
<path d="M461.7,195.8L459.8,196.1L460.6,196.5L462.3,196.2Z" fill="#00008f"/>
<path d="M457.2,195.7L455.2,195.9L456.0,196.6L457.9,196.3Z" fill="#00008f"/>
<path d="M502.2,196.7L504.2,196.5L504.9,195.0L502.8,195.1Z" fill="#00008f"/>
<path d="M471.0,196.0L471.9,196.6L472.8,196.5L471.6,195.9Z" fill="#00008f"/>
<path d="M467.2,195.9L466.2,196.5L467.1,196.6L467.8,196.0Z" fill="#00008f"/>
<path d="M444.4,195.4L442.3,195.4L443.1,196.9L445.1,196.7Z" fill="#00008f"/>
<path d="M504.2,196.5L506.3,196.3L507.0,194.7L504.9,195.0Z" fill="#00008f"/>
<path d="M470.4,196.0L471.0,196.7L471.9,196.6L471.0,196.0Z" fill="#00008f"/>
<path d="M478.4,196.5L480.2,196.8L481.1,196.2L479.1,196.0Z" fill="#00008f"/>
<path d="M467.8,196.0L467.1,196.6L468.0,196.7L468.5,196.0Z" fill="#00008f"/>
<path d="M473.5,196.3L475.0,196.8L475.8,196.5L474.2,196.0Z" fill="#00008f"/>
<path d="M485.0,196.7L487.0,197.0L487.8,196.1L485.7,195.9Z" fill="#00008f"/>
<path d="M442.3,195.4L440.2,195.5L441.1,197.0L443.1,196.9Z" fill="#00008f"/>
<path d="M469.8,196.1L470.0,196.8L471.0,196.7L470.4,196.0Z" fill="#00008f"/>
<path d="M468.5,196.0L468.0,196.7L469.0,196.8L469.1,196.1Z" fill="#00008f"/>
<path d="M506.3,196.3L508.4,195.9L509.1,194.4L507.0,194.7Z" fill="#00008f"/>
<path d="M455.2,195.9L453.2,196.1L454.1,196.9L456.0,196.6Z" fill="#00008f"/>
<path d="M469.1,196.1L469.0,196.8L470.0,196.8L469.8,196.1Z" fill="#00008f"/>
<path d="M464.7,196.1L463.1,196.5L464.1,196.8L465.4,196.3Z" fill="#00008f"/>
<path d="M475.8,196.5L477.5,196.9L478.4,196.5L476.6,196.1Z" fill="#00008f"/>
<path d="M459.8,196.1L457.9,196.3L458.8,196.9L460.6,196.5Z" fill="#00008f"/>
<path d="M440.2,195.5L438.2,195.5L439.1,197.1L441.1,197.0Z" fill="#00008f"/>
<path d="M508.4,195.9L510.4,195.2L511.2,193.8L509.1,194.4Z" fill="#00008f"/>
<path d="M487.0,197.0L488.9,197.2L489.8,196.2L487.8,196.1Z" fill="#00008f"/>
<path d="M462.3,196.2L460.6,196.5L461.6,197.0L463.1,196.5Z" fill="#00008f"/>
<path d="M472.8,196.5L473.9,197.0L475.0,196.8L473.5,196.3Z" fill="#00008f"/>
<path d="M480.2,196.8L482.1,197.2L483.0,196.5L481.1,196.2Z" fill="#00008f"/>
<path d="M438.2,195.5L436.1,195.4L437.1,197.3L439.1,197.1Z" fill="#00008f"/>
<path d="M453.2,196.1L451.2,196.2L452.2,197.1L454.1,196.9Z" fill="#00008f"/>
<path d="M465.4,196.3L464.1,196.8L465.2,197.1L466.2,196.5Z" fill="#00008f"/>
<path d="M488.9,197.2L490.9,197.4L491.9,196.3L489.8,196.2Z" fill="#00008f"/>
<path d="M436.1,195.4L434.0,195.3L435.1,197.3L437.1,197.3Z" fill="#00008f"/>
<path d="M471.9,196.6L472.8,197.2L473.9,197.0L472.8,196.5Z" fill="#00008f"/>
<path d="M457.9,196.3L456.0,196.6L457.1,197.3L458.8,196.9Z" fill="#00008f"/>
<path d="M475.0,196.8L476.4,197.3L477.5,196.9L475.8,196.5Z" fill="#00008f"/>
<path d="M477.5,196.9L479.1,197.3L480.2,196.8L478.4,196.5Z" fill="#00008f"/>
<path d="M466.2,196.5L465.2,197.1L466.4,197.3L467.1,196.6Z" fill="#00008f"/>
<path d="M451.2,196.2L449.1,196.4L450.3,197.4L452.2,197.1Z" fill="#00008f"/>
<path d="M434.0,195.3L432.0,195.1L433.1,197.4L435.1,197.3Z" fill="#00008f"/>
<path d="M482.1,197.2L483.9,197.5L485.0,196.7L483.0,196.5Z" fill="#00008f"/>
<path d="M463.1,196.5L461.6,197.0L462.8,197.4L464.1,196.8Z" fill="#00008f"/>
<path d="M490.9,197.4L492.9,197.7L493.9,196.4L491.9,196.3Z" fill="#00008f"/>
<path d="M471.0,196.7L471.5,197.4L472.8,197.2L471.9,196.6Z" fill="#00008f"/>
<path d="M460.6,196.5L458.8,196.9L460.0,197.4L461.6,197.0Z" fill="#00008f"/>
<path d="M467.1,196.6L466.4,197.3L467.6,197.4L468.0,196.7Z" fill="#00008f"/>
<path d="M432.0,195.1L429.9,194.7L431.1,197.3L433.1,197.4Z" fill="#00008f"/>
<path d="M470.0,196.8L470.2,197.4L471.5,197.4L471.0,196.7Z" fill="#00008f"/>
<path d="M468.0,196.7L467.6,197.4L468.9,197.5L469.0,196.8Z" fill="#00008f"/>
<path d="M449.1,196.4L447.1,196.5L448.4,197.7L450.3,197.4Z" fill="#00008f"/>
<path d="M469.0,196.8L468.9,197.5L470.2,197.4L470.0,196.8Z" fill="#00008f"/>
<path d="M492.9,197.7L494.8,197.8L496.0,196.6L493.9,196.4Z" fill="#00008f"/>
<path d="M456.0,196.6L454.1,196.9L455.3,197.6L457.1,197.3Z" fill="#00008f"/>
<path d="M473.9,197.0L475.1,197.6L476.4,197.3L475.0,196.8Z" fill="#00008f"/>
<path d="M429.9,194.7L427.8,194.0L429.1,197.1L431.1,197.3Z" fill="#00008f"/>
<path d="M483.9,197.5L485.7,197.8L487.0,197.0L485.0,196.7Z" fill="#00008f"/>
<path d="M479.1,197.3L480.8,197.8L482.1,197.2L480.2,196.8Z" fill="#00008f"/>
<path d="M464.1,196.8L462.8,197.4L464.1,197.7L465.2,197.1Z" fill="#00008f"/>
<path d="M476.4,197.3L477.8,197.8L479.1,197.3L477.5,196.9Z" fill="#00008f"/>
<path d="M447.1,196.5L445.1,196.7L446.5,197.9L448.4,197.7Z" fill="#00008f"/>
<path d="M494.8,197.8L496.8,198.0L498.1,196.6L496.0,196.6Z" fill="#00008f"/>
<path d="M458.8,196.9L457.1,197.3L458.5,197.9L460.0,197.4Z" fill="#00008f"/>
<path d="M472.8,197.2L473.6,197.9L475.1,197.6L473.9,197.0Z" fill="#00008f"/>
<path d="M461.6,197.0L460.0,197.4L461.5,197.9L462.8,197.4Z" fill="#00008f"/>
<path d="M454.1,196.9L452.2,197.1L453.6,198.0L455.3,197.6Z" fill="#00008f"/>
<path d="M465.2,197.1L464.1,197.7L465.6,197.9L466.4,197.3Z" fill="#00008f"/>
<path d="M485.7,197.8L487.5,198.2L488.9,197.2L487.0,197.0Z" fill="#00008f"/>
<path d="M496.8,198.0L498.8,198.1L500.1,196.7L498.1,196.6Z" fill="#00008f"/>
<path d="M445.1,196.7L443.1,196.9L444.6,198.2L446.5,197.9Z" fill="#00008f"/>
<path d="M471.5,197.4L472.1,198.0L473.6,197.9L472.8,197.2Z" fill="#00008f"/>
<path d="M480.8,197.8L482.4,198.2L483.9,197.5L482.1,197.2Z" fill="#00008f"/>
<path d="M466.4,197.3L465.6,197.9L467.2,198.1L467.6,197.4Z" fill="#00008f"/>
<path d="M475.1,197.6L476.2,198.2L477.8,197.8L476.4,197.3Z" fill="#00008f"/>
<path d="M470.2,197.4L470.5,198.1L472.1,198.0L471.5,197.4Z" fill="#00008f"/>
<path d="M498.8,198.1L500.7,198.1L502.2,196.7L500.1,196.7Z" fill="#00008f"/>
<path d="M467.6,197.4L467.2,198.1L468.8,198.1L468.9,197.5Z" fill="#00008f"/>
<path d="M477.8,197.8L479.2,198.3L480.8,197.8L479.1,197.3Z" fill="#00008f"/>
<path d="M443.1,196.9L441.1,197.0L442.7,198.5L444.6,198.2Z" fill="#00008f"/>
<path d="M468.9,197.5L468.8,198.1L470.5,198.1L470.2,197.4Z" fill="#00008f"/>
<path d="M452.2,197.1L450.3,197.4L451.9,198.4L453.6,198.0Z" fill="#00008f"/>
<path d="M462.8,197.4L461.5,197.9L463.1,198.3L464.1,197.7Z" fill="#00008f"/>
<path d="M487.5,198.2L489.4,198.5L490.9,197.4L488.9,197.2Z" fill="#00008f"/>
<path d="M457.1,197.3L455.3,197.6L457.0,198.3L458.5,197.9Z" fill="#00008f"/>
<path d="M460.0,197.4L458.5,197.9L460.2,198.4L461.5,197.9Z" fill="#00008f"/>
<path d="M500.7,198.1L502.7,198.0L504.2,196.5L502.2,196.7Z" fill="#00008f"/>
<path d="M482.4,198.2L484.1,198.6L485.7,197.8L483.9,197.5Z" fill="#00008f"/>
<path d="M441.1,197.0L439.1,197.1L440.8,198.7L442.7,198.5Z" fill="#00008f"/>
<path d="M473.6,197.9L474.5,198.5L476.2,198.2L475.1,197.6Z" fill="#00008f"/>
<path d="M464.1,197.7L463.1,198.3L464.9,198.5L465.6,197.9Z" fill="#00008f"/>
<path d="M489.4,198.5L491.2,198.8L492.9,197.7L490.9,197.4Z" fill="#00008f"/>
<path d="M450.3,197.4L448.4,197.7L450.1,198.7L451.9,198.4Z" fill="#00008f"/>
<path d="M502.7,198.0L504.7,197.7L506.3,196.3L504.2,196.5Z" fill="#00008f"/>
<path d="M476.2,198.2L477.4,198.8L479.2,198.3L477.8,197.8Z" fill="#00008f"/>
<path d="M439.1,197.1L437.1,197.3L438.9,198.9L440.8,198.7Z" fill="#00008f"/>
<path d="M455.3,197.6L453.6,198.0L455.4,198.8L457.0,198.3Z" fill="#00008f"/>
<path d="M479.2,198.3L480.6,198.8L482.4,198.2L480.8,197.8Z" fill="#00008f"/>
<path d="M472.1,198.0L472.7,198.7L474.5,198.5L473.6,197.9Z" fill="#00008f"/>
<path d="M465.6,197.9L464.9,198.5L466.8,198.7L467.2,198.1Z" fill="#00008f"/>
<path d="M504.7,197.7L506.6,197.2L508.4,195.9L506.3,196.3Z" fill="#00008f"/>
<path d="M461.5,197.9L460.2,198.4L462.1,198.8L463.1,198.3Z" fill="#00008f"/>
<path d="M484.1,198.6L485.7,199.0L487.5,198.2L485.7,197.8Z" fill="#00008f"/>
<path d="M491.2,198.8L493.0,199.0L494.8,197.8L492.9,197.7Z" fill="#00008f"/>
<path d="M470.5,198.1L470.7,198.8L472.7,198.7L472.1,198.0Z" fill="#00008f"/>
<path d="M458.5,197.9L457.0,198.3L458.9,198.9L460.2,198.4Z" fill="#00008f"/>
<path d="M467.2,198.1L466.8,198.7L468.7,198.8L468.8,198.1Z" fill="#00008f"/>
<path d="M448.4,197.7L446.5,197.9L448.4,199.1L450.1,198.7Z" fill="#00008f"/>
<path d="M468.8,198.1L468.7,198.8L470.7,198.8L470.5,198.1Z" fill="#00008f"/>
<path d="M437.1,197.3L435.1,197.3L437.0,199.1L438.9,198.9Z" fill="#00008f"/>
<path d="M506.6,197.2L508.6,196.3L510.4,195.2L508.4,195.9Z" fill="#00009f"/>
<path d="M474.5,198.5L475.4,199.1L477.4,198.8L476.2,198.2Z" fill="#00008f"/>
<path d="M453.6,198.0L451.9,198.4L453.9,199.2L455.4,198.8Z" fill="#00008f"/>
<path d="M493.0,199.0L494.9,199.3L496.8,198.0L494.8,197.8Z" fill="#00008f"/>
<path d="M435.1,197.3L433.1,197.4L435.1,199.3L437.0,199.1Z" fill="#00008f"/>
<path d="M480.6,198.8L482.0,199.3L484.1,198.6L482.4,198.2Z" fill="#00008f"/>
<path d="M463.1,198.3L462.1,198.8L464.2,199.2L464.9,198.5Z" fill="#00008f"/>
<path d="M446.5,197.9L444.6,198.2L446.6,199.4L448.4,199.1Z" fill="#00008f"/>
<path d="M477.4,198.8L478.5,199.3L480.6,198.8L479.2,198.3Z" fill="#00008f"/>
<path d="M485.7,199.0L487.3,199.4L489.4,198.5L487.5,198.2Z" fill="#00008f"/>
<path d="M472.7,198.7L473.2,199.4L475.4,199.1L474.5,198.5Z" fill="#00008f"/>
<path d="M457.0,198.3L455.4,198.8L457.6,199.5L458.9,198.9Z" fill="#00008f"/>
<path d="M460.2,198.4L458.9,198.9L461.1,199.4L462.1,198.8Z" fill="#00008f"/>
<path d="M433.1,197.4L431.1,197.3L433.2,199.5L435.1,199.3Z" fill="#00008f"/>
<path d="M464.9,198.5L464.2,199.2L466.4,199.4L466.8,198.7Z" fill="#00008f"/>
<path d="M494.9,199.3L496.7,199.4L498.8,198.1L496.8,198.0Z" fill="#00008f"/>
<path d="M451.9,198.4L450.1,198.7L452.3,199.7L453.9,199.2Z" fill="#00008f"/>
<path d="M470.7,198.8L471.0,199.5L473.2,199.4L472.7,198.7Z" fill="#00008f"/>
<path d="M444.6,198.2L442.7,198.5L444.9,199.8L446.6,199.4Z" fill="#00008f"/>
<path d="M466.8,198.7L466.4,199.4L468.7,199.5L468.7,198.8Z" fill="#00008f"/>
<path d="M468.7,198.8L468.7,199.5L471.0,199.5L470.7,198.8Z" fill="#00008f"/>
<path d="M431.1,197.3L429.1,197.1L431.3,199.5L433.2,199.5Z" fill="#00008f"/>
<path d="M487.3,199.4L489.0,199.8L491.2,198.8L489.4,198.5Z" fill="#00008f"/>
<path d="M482.0,199.3L483.5,199.8L485.7,199.0L484.1,198.6Z" fill="#00008f"/>
<path d="M475.4,199.1L476.2,199.7L478.5,199.3L477.4,198.8Z" fill="#00008f"/>
<path d="M496.7,199.4L498.5,199.4L500.7,198.1L498.8,198.1Z" fill="#00008f"/>
<path d="M478.5,199.3L479.7,199.9L482.0,199.3L480.6,198.8Z" fill="#00008f"/>
<path d="M462.1,198.8L461.1,199.4L463.4,199.8L464.2,199.2Z" fill="#00008f"/>
<path d="M455.4,198.8L453.9,199.2L456.3,200.0L457.6,199.5Z" fill="#00008f"/>
<path d="M442.7,198.5L440.8,198.7L443.2,200.1L444.9,199.8Z" fill="#00008f"/>
<path d="M450.1,198.7L448.4,199.1L450.8,200.1L452.3,199.7Z" fill="#00008f"/>
<path d="M458.9,198.9L457.6,199.5L460.0,200.0L461.1,199.4Z" fill="#00008f"/>
<path d="M473.2,199.4L473.8,200.0L476.2,199.7L475.4,199.1Z" fill="#00008f"/>
<path d="M489.0,199.8L490.6,200.1L493.0,199.0L491.2,198.8Z" fill="#00008f"/>
<path d="M498.5,199.4L500.3,199.3L502.7,198.0L500.7,198.1Z" fill="#00008f"/>
<path d="M464.2,199.2L463.4,199.8L466.0,200.1L466.4,199.4Z" fill="#00008f"/>
<path d="M483.5,199.8L484.9,200.3L487.3,199.4L485.7,199.0Z" fill="#00008f"/>
<path d="M471.0,199.5L471.2,200.2L473.8,200.0L473.2,199.4Z" fill="#00008f"/>
<path d="M440.8,198.7L438.9,198.9L441.4,200.5L443.2,200.1Z" fill="#00008f"/>
<path d="M466.4,199.4L466.0,200.1L468.6,200.2L468.7,199.5Z" fill="#00008f"/>
<path d="M476.2,199.7L477.1,200.3L479.7,199.9L478.5,199.3Z" fill="#00008f"/>
<path d="M468.7,199.5L468.6,200.2L471.2,200.2L471.0,199.5Z" fill="#00008f"/>
<path d="M479.7,199.9L480.9,200.4L483.5,199.8L482.0,199.3Z" fill="#00008f"/>
<path d="M448.4,199.1L446.6,199.4L449.3,200.6L450.8,200.1Z" fill="#00008f"/>
<path d="M453.9,199.2L452.3,199.7L455.0,200.5L456.3,200.0Z" fill="#00008f"/>
<path d="M500.3,199.3L502.2,199.0L504.7,197.7L502.7,198.0Z" fill="#00008f"/>
<path d="M461.1,199.4L460.0,200.0L462.7,200.4L463.4,199.8Z" fill="#00008f"/>
<path d="M490.6,200.1L492.3,200.4L494.9,199.3L493.0,199.0Z" fill="#00008f"/>
<path d="M457.6,199.5L456.3,200.0L459.0,200.6L460.0,200.0Z" fill="#00008f"/>
<path d="M438.9,198.9L437.0,199.1L439.7,200.8L441.4,200.5Z" fill="#00008f"/>
<path d="M484.9,200.3L486.3,200.7L489.0,199.8L487.3,199.4Z" fill="#00008f"/>
<path d="M473.8,200.0L474.3,200.7L477.1,200.3L476.2,199.7Z" fill="#00008f"/>
<path d="M502.2,199.0L504.0,198.3L506.6,197.2L504.7,197.7Z" fill="#00009f"/>
<path d="M463.4,199.8L462.7,200.4L465.5,200.7L466.0,200.1Z" fill="#00008f"/>
<path d="M446.6,199.4L444.9,199.8L447.7,201.0L449.3,200.6Z" fill="#00008f"/>
<path d="M492.3,200.4L493.9,200.6L496.7,199.4L494.9,199.3Z" fill="#00008f"/>
<path d="M452.3,199.7L450.8,200.1L453.7,201.0L455.0,200.5Z" fill="#00008f"/>
<path d="M480.9,200.4L482.0,200.9L484.9,200.3L483.5,199.8Z" fill="#00008f"/>
<path d="M437.0,199.1L435.1,199.3L437.9,201.1L439.7,200.8Z" fill="#00008f"/>
<path d="M477.1,200.3L478.0,200.9L480.9,200.4L479.7,199.9Z" fill="#00008f"/>
<path d="M471.2,200.2L471.4,200.8L474.3,200.7L473.8,200.0Z" fill="#00008f"/>
<path d="M466.0,200.1L465.5,200.7L468.5,200.8L468.6,200.2Z" fill="#00008f"/>
<path d="M468.6,200.2L468.5,200.8L471.4,200.8L471.2,200.2Z" fill="#00008f"/>
<path d="M504.0,198.3L505.8,197.2L508.6,196.3L506.6,197.2Z" fill="#00009f"/>
<path d="M460.0,200.0L459.0,200.6L462.0,201.1L462.7,200.4Z" fill="#00008f"/>
<path d="M486.3,200.7L487.7,201.1L490.6,200.1L489.0,199.8Z" fill="#00008f"/>
<path d="M456.3,200.0L455.0,200.5L458.0,201.2L459.0,200.6Z" fill="#00008f"/>
<path d="M444.9,199.8L443.2,200.1L446.2,201.4L447.7,201.0Z" fill="#00008f"/>
<path d="M435.1,199.3L433.2,199.5L436.2,201.3L437.9,201.1Z" fill="#00008f"/>
<path d="M493.9,200.6L495.6,200.6L498.5,199.4L496.7,199.4Z" fill="#00008f"/>
<path d="M474.3,200.7L474.9,201.3L478.0,200.9L477.1,200.3Z" fill="#00008f"/>
<path d="M450.8,200.1L449.3,200.6L452.4,201.5L453.7,201.0Z" fill="#00008f"/>
<path d="M462.7,200.4L462.0,201.1L465.1,201.4L465.5,200.7Z" fill="#00008f"/>
<path d="M482.0,200.9L483.2,201.4L486.3,200.7L484.9,200.3Z" fill="#00008f"/>
<path d="M478.0,200.9L478.9,201.5L482.0,200.9L480.9,200.4Z" fill="#00008f"/>
<path d="M433.2,199.5L431.3,199.5L434.5,201.5L436.2,201.3Z" fill="#00008f"/>
<path d="M487.7,201.1L489.1,201.4L492.3,200.4L490.6,200.1Z" fill="#00008f"/>
<path d="M471.4,200.8L471.7,201.5L474.9,201.3L474.3,200.7Z" fill="#00008f"/>
<path d="M495.6,200.6L497.2,200.5L500.3,199.3L498.5,199.4Z" fill="#00008f"/>
<path d="M465.5,200.7L465.1,201.4L468.4,201.5L468.5,200.8Z" fill="#00008f"/>
<path d="M443.2,200.1L441.4,200.5L444.7,201.8L446.2,201.4Z" fill="#00008f"/>
<path d="M455.0,200.5L453.7,201.0L456.9,201.7L458.0,201.2Z" fill="#00008f"/>
<path d="M459.0,200.6L458.0,201.2L461.2,201.7L462.0,201.1Z" fill="#00008f"/>
<path d="M468.5,200.8L468.4,201.5L471.7,201.5L471.4,200.8Z" fill="#00008f"/>
<path d="M449.3,200.6L447.7,201.0L451.1,202.0L452.4,201.5Z" fill="#00008f"/>
<path d="M474.9,201.3L475.5,201.9L478.9,201.5L478.0,200.9Z" fill="#00008f"/>
<path d="M483.2,201.4L484.3,201.9L487.7,201.1L486.3,200.7Z" fill="#00008f"/>
<path d="M497.2,200.5L498.9,200.1L502.2,199.0L500.3,199.3Z" fill="#00008f"/>
<path d="M489.1,201.4L490.6,201.6L493.9,200.6L492.3,200.4Z" fill="#00008f"/>
<path d="M441.4,200.5L439.7,200.8L443.1,202.2L444.7,201.8Z" fill="#00008f"/>
<path d="M462.0,201.1L461.2,201.7L464.7,202.0L465.1,201.4Z" fill="#00008f"/>
<path d="M478.9,201.5L479.7,202.0L483.2,201.4L482.0,200.9Z" fill="#00008f"/>
<path d="M453.7,201.0L452.4,201.5L455.9,202.3L456.9,201.7Z" fill="#00008f"/>
<path d="M471.7,201.5L471.9,202.1L475.5,201.9L474.9,201.3Z" fill="#00008f"/>
<path d="M458.0,201.2L456.9,201.7L460.5,202.3L461.2,201.7Z" fill="#00008f"/>
<path d="M465.1,201.4L464.7,202.0L468.3,202.2L468.4,201.5Z" fill="#00008f"/>
<path d="M468.4,201.5L468.3,202.2L471.9,202.1L471.7,201.5Z" fill="#00008f"/>
<path d="M447.7,201.0L446.2,201.4L449.8,202.5L451.1,202.0Z" fill="#00008f"/>
<path d="M498.9,200.1L500.5,199.3L504.0,198.3L502.2,199.0Z" fill="#00009f"/>
<path d="M439.7,200.8L437.9,201.1L441.6,202.5L443.1,202.2Z" fill="#00008f"/>
<path d="M490.6,201.6L492.0,201.7L495.6,200.6L493.9,200.6Z" fill="#00008f"/>
<path d="M484.3,201.9L485.5,202.3L489.1,201.4L487.7,201.1Z" fill="#00008f"/>
<path d="M475.5,201.9L476.0,202.5L479.7,202.0L478.9,201.5Z" fill="#00008f"/>
<path d="M479.7,202.0L480.6,202.5L484.3,201.9L483.2,201.4Z" fill="#00008f"/>
<path d="M461.2,201.7L460.5,202.3L464.3,202.6L464.7,202.0Z" fill="#00008f"/>
<path d="M452.4,201.5L451.1,202.0L454.9,202.8L455.9,202.3Z" fill="#00008f"/>
<path d="M446.2,201.4L444.7,201.8L448.5,203.0L449.8,202.5Z" fill="#00008f"/>
<path d="M500.5,199.3L502.1,197.9L505.8,197.2L504.0,198.3Z" fill="#00009f"/>
<path d="M437.9,201.1L436.2,201.3L440.0,202.8L441.6,202.5Z" fill="#00008f"/>
<path d="M456.9,201.7L455.9,202.3L459.8,202.9L460.5,202.3Z" fill="#00008f"/>
<path d="M471.9,202.1L472.2,202.7L476.0,202.5L475.5,201.9Z" fill="#00008f"/>
<path d="M464.7,202.0L464.3,202.6L468.2,202.8L468.3,202.2Z" fill="#00008f"/>
<path d="M492.0,201.7L493.4,201.6L497.2,200.5L495.6,200.6Z" fill="#00008f"/>
<path d="M468.3,202.2L468.2,202.8L472.2,202.7L471.9,202.1Z" fill="#00008f"/>
<path d="M485.5,202.3L486.7,202.5L490.6,201.6L489.1,201.4Z" fill="#00008f"/>
<path d="M476.0,202.5L476.6,203.0L480.6,202.5L479.7,202.0Z" fill="#00008f"/>
<path d="M436.2,201.3L434.5,201.5L438.5,203.0L440.0,202.8Z" fill="#00008f"/>
<path d="M480.6,202.5L481.5,203.0L485.5,202.3L484.3,201.9Z" fill="#00008f"/>
<path d="M451.1,202.0L449.8,202.5L453.9,203.4L454.9,202.8Z" fill="#00008f"/>
<path d="M444.7,201.8L443.1,202.2L447.2,203.4L448.5,203.0Z" fill="#00008f"/>
<path d="M460.5,202.3L459.8,202.9L463.9,203.2L464.3,202.6Z" fill="#00008f"/>
<path d="M493.4,201.6L494.8,201.1L498.9,200.1L497.2,200.5Z" fill="#00008f"/>
<path d="M455.9,202.3L454.9,202.8L459.1,203.5L459.8,202.9Z" fill="#00008f"/>
<path d="M472.2,202.7L472.4,203.3L476.6,203.0L476.0,202.5Z" fill="#00008f"/>
<path d="M486.7,202.5L487.8,202.7L492.0,201.7L490.6,201.6Z" fill="#00008f"/>
<path d="M464.3,202.6L463.9,203.2L468.1,203.4L468.2,202.8Z" fill="#00008f"/>
<path d="M468.2,202.8L468.1,203.4L472.4,203.3L472.2,202.7Z" fill="#00008f"/>
<path d="M443.1,202.2L441.6,202.5L445.9,203.7L447.2,203.4Z" fill="#00008f"/>
<path d="M476.6,203.0L477.1,203.5L481.5,203.0L480.6,202.5Z" fill="#00008f"/>
<path d="M449.8,202.5L448.5,203.0L452.8,203.8L453.9,203.4Z" fill="#00008f"/>
<path d="M481.5,203.0L482.3,203.3L486.7,202.5L485.5,202.3Z" fill="#00008f"/>
<path d="M494.8,201.1L496.2,200.2L500.5,199.3L498.9,200.1Z" fill="#00009f"/>
<path d="M459.8,202.9L459.1,203.5L463.5,203.8L463.9,203.2Z" fill="#00008f"/>
<path d="M454.9,202.8L453.9,203.4L458.3,204.0L459.1,203.5Z" fill="#00008f"/>
<path d="M487.8,202.7L489.0,202.6L493.4,201.6L492.0,201.7Z" fill="#00008f"/>
<path d="M472.4,203.3L472.6,203.8L477.1,203.5L476.6,203.0Z" fill="#00008f"/>
<path d="M463.9,203.2L463.5,203.8L468.0,203.9L468.1,203.4Z" fill="#00008f"/>
<path d="M441.6,202.5L440.0,202.8L444.6,204.0L445.9,203.7Z" fill="#00008f"/>
<path d="M468.1,203.4L468.0,203.9L472.6,203.8L472.4,203.3Z" fill="#00008f"/>
<path d="M448.5,203.0L447.2,203.4L451.8,204.3L452.8,203.8Z" fill="#00008f"/>
<path d="M496.2,200.2L497.6,198.6L502.1,197.9L500.5,199.3Z" fill="#0000af"/>
<path d="M482.3,203.3L483.2,203.5L487.8,202.7L486.7,202.5Z" fill="#00008f"/>
<path d="M477.1,203.5L477.7,203.9L482.3,203.3L481.5,203.0Z" fill="#00008f"/>
<path d="M459.1,203.5L458.3,204.0L463.1,204.3L463.5,203.8Z" fill="#00008f"/>
<path d="M453.9,203.4L452.8,203.8L457.6,204.5L458.3,204.0Z" fill="#00008f"/>
<path d="M489.0,202.6L490.1,202.1L494.8,201.1L493.4,201.6Z" fill="#00009f"/>
<path d="M440.0,202.8L438.5,203.0L443.3,204.2L444.6,204.0Z" fill="#00008f"/>
<path d="M472.6,203.8L472.9,204.3L477.7,203.9L477.1,203.5Z" fill="#00008f"/>
<path d="M463.5,203.8L463.1,204.3L467.9,204.4L468.0,203.9Z" fill="#00008f"/>
<path d="M447.2,203.4L445.9,203.7L450.8,204.6L451.8,204.3Z" fill="#00008f"/>
<path d="M468.0,203.9L467.9,204.4L472.9,204.3L472.6,203.8Z" fill="#00008f"/>
<path d="M483.2,203.5L484.1,203.4L489.0,202.6L487.8,202.7Z" fill="#00008f"/>
<path d="M477.7,203.9L478.3,204.1L483.2,203.5L482.3,203.3Z" fill="#00008f"/>
<path d="M490.1,202.1L491.3,201.1L496.2,200.2L494.8,201.1Z" fill="#00009f"/>
<path d="M458.3,204.0L457.6,204.5L462.6,204.8L463.1,204.3Z" fill="#00008f"/>
<path d="M452.8,203.8L451.8,204.3L456.9,204.9L457.6,204.5Z" fill="#00008f"/>
<path d="M445.9,203.7L444.6,204.0L449.8,204.9L450.8,204.6Z" fill="#00008f"/>
<path d="M472.9,204.3L473.1,204.6L478.3,204.1L477.7,203.9Z" fill="#00008f"/>
<path d="M463.1,204.3L462.6,204.8L467.9,204.8L467.9,204.4Z" fill="#00008f"/>
<path d="M484.1,203.4L485.0,203.0L490.1,202.1L489.0,202.6Z" fill="#00009f"/>
<path d="M467.9,204.4L467.9,204.8L473.1,204.6L472.9,204.3Z" fill="#00008f"/>
<path d="M478.3,204.1L478.8,204.2L484.1,203.4L483.2,203.5Z" fill="#00008f"/>
<path d="M491.3,201.1L492.5,199.4L497.6,198.6L496.2,200.2Z" fill="#0000af"/>
<path d="M451.8,204.3L450.8,204.6L456.1,205.2L456.9,204.9Z" fill="#00008f"/>
<path d="M457.6,204.5L456.9,204.9L462.2,205.1L462.6,204.8Z" fill="#00008f"/>
<path d="M444.6,204.0L443.3,204.2L448.7,204.9L449.8,204.9Z" fill="#00008f"/>
<path d="M473.1,204.6L473.3,204.7L478.8,204.2L478.3,204.1Z" fill="#00008f"/>
<path d="M462.6,204.8L462.2,205.1L467.8,205.1L467.9,204.8Z" fill="#00008f"/>
<path d="M485.0,203.0L485.8,202.1L491.3,201.1L490.1,202.1Z" fill="#00009f"/>
<path d="M467.9,204.8L467.8,205.1L473.3,204.7L473.1,204.6Z" fill="#00008f"/>
<path d="M478.8,204.2L479.4,203.9L485.0,203.0L484.1,203.4Z" fill="#00008f"/>
<path d="M450.8,204.6L449.8,204.9L455.4,205.3L456.1,205.2Z" fill="#00008f"/>
<path d="M456.9,204.9L456.1,205.2L461.8,205.3L462.2,205.1Z" fill="#00008f"/>
<path d="M473.3,204.7L473.6,204.6L479.4,203.9L478.8,204.2Z" fill="#00008f"/>
<path d="M485.8,202.1L486.7,200.5L492.5,199.4L491.3,201.1Z" fill="#0000af"/>
<path d="M462.2,205.1L461.8,205.3L467.7,205.1L467.8,205.1Z" fill="#00008f"/>
<path d="M467.8,205.1L467.7,205.1L473.6,204.6L473.3,204.7Z" fill="#00008f"/>
<path d="M479.4,203.9L480.0,203.2L485.8,202.1L485.0,203.0Z" fill="#00009f"/>
<path d="M449.8,204.9L448.7,204.9L454.7,205.1L455.4,205.3Z" fill="#00008f"/>
<path d="M456.1,205.2L455.4,205.3L461.4,205.3L461.8,205.3Z" fill="#00008f"/>
<path d="M473.6,204.6L473.8,204.1L480.0,203.2L479.4,203.9Z" fill="#00009f"/>
<path d="M461.8,205.3L461.4,205.3L467.6,204.8L467.7,205.1Z" fill="#00008f"/>
<path d="M467.7,205.1L467.6,204.8L473.8,204.1L473.6,204.6Z" fill="#00008f"/>
<path d="M480.0,203.2L480.5,201.7L486.7,200.5L485.8,202.1Z" fill="#0000af"/>
<path d="M455.4,205.3L454.7,205.1L461.0,204.9L461.4,205.3Z" fill="#00008f"/>
<path d="M473.8,204.1L474.1,203.0L480.5,201.7L480.0,203.2Z" fill="#00009f"/>
<path d="M461.4,205.3L461.0,204.9L467.5,204.1L467.6,204.8Z" fill="#00009f"/>
<path d="M467.6,204.8L467.5,204.1L474.1,203.0L473.8,204.1Z" fill="#00009f"/>
</g>
<text x="407.4" y="202.9" font-size="8.7" text-anchor="end">0</text>
<text x="407.4" y="171.2" font-size="8.7" text-anchor="end">0.5</text>
<text x="407.3" y="139.5" font-size="8.7" text-anchor="end">1</text>
<text x="407.3" y="107.8" font-size="8.7" text-anchor="end">1.5</text>
<text x="407.3" y="76.1" font-size="8.7" text-anchor="end">2</text>
<text x="407.3" y="44.4" font-size="8.7" text-anchor="end">2.5</text>
<text x="386.0" y="122.8" font-size="8.7" text-anchor="middle" transform="rotate(-90 386.0 122.8)">z</text>
<text x="401.4" y="212.7" font-size="8.7" text-anchor="middle">0.1</text>
<text x="443.6" y="218.6" font-size="8.7" text-anchor="middle">0</text>
<text x="475.6" y="223.8" font-size="8.7" text-anchor="middle">-0.1</text>
<text x="504.6" y="221.0" font-size="8.7" text-anchor="middle">-0.1</text>
<text x="516.8" y="209.8" font-size="8.7" text-anchor="middle">0</text>
<text x="538.4" y="197.2" font-size="8.7" text-anchor="middle">0.1</text>
<text x="448.1" y="229.9" font-size="8.7" text-anchor="middle">y</text>
<text x="520.7" y="226.8" font-size="8.7" text-anchor="middle">x</text>
<text x="468.5" y="7.8" font-size="8.7" text-anchor="middle">(c)</text>
<text x="422.0" y="16.2" font-size="8.7" text-anchor="middle">x 10</text>
<text x="434.7" y="7.8" font-size="6.5" text-anchor="middle">-7</text>
</svg>
</body></html>
